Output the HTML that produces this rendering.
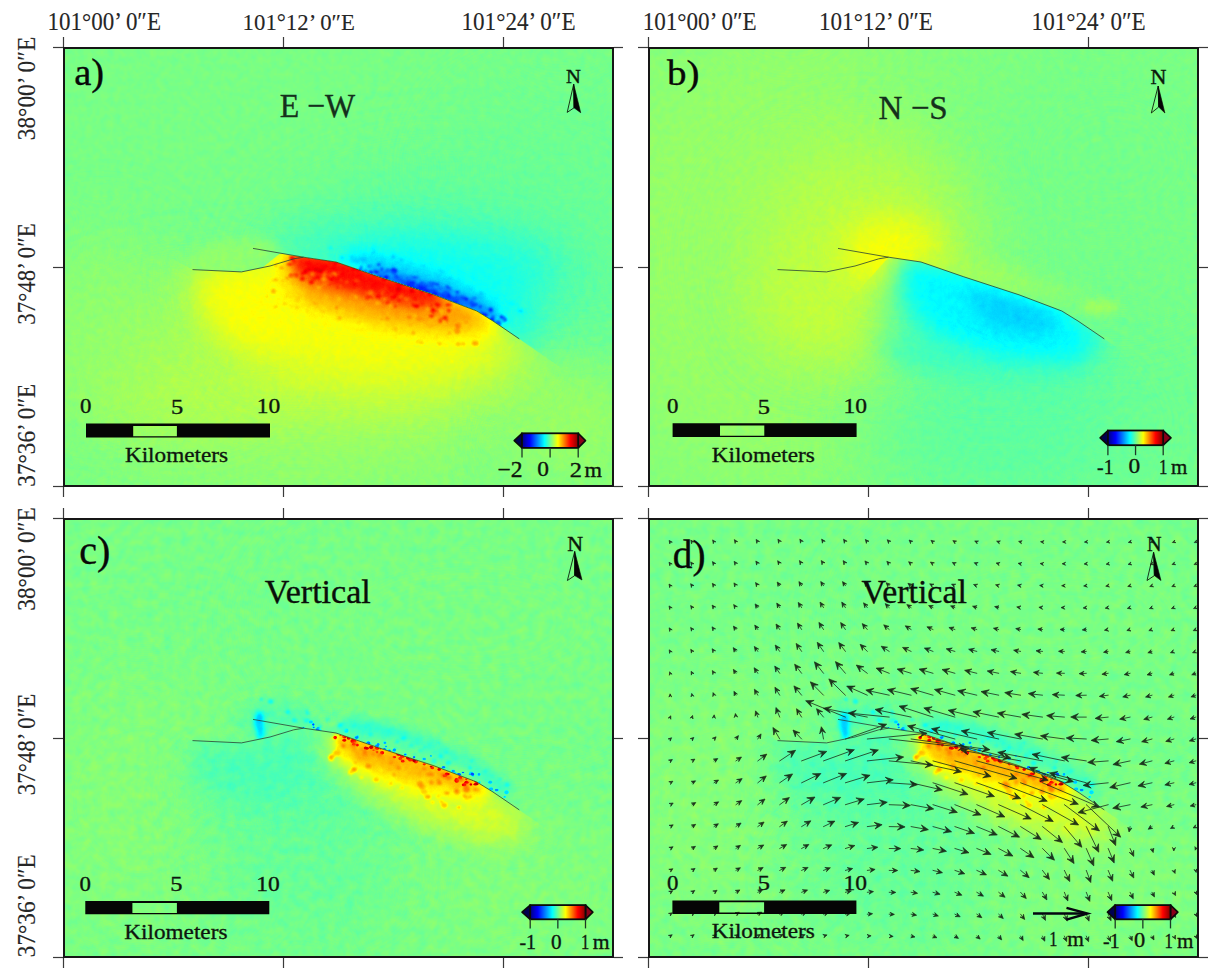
<!DOCTYPE html>
<html><head><meta charset="utf-8"><title>Figure</title>
<style>html,body{margin:0;padding:0;background:#fff;overflow:hidden;width:1224px;height:979px} svg{display:block}</style></head>
<body>
<svg width="1224" height="979" viewBox="0 0 1224 979">
<defs>
<filter id="jet0" filterUnits="userSpaceOnUse" x="63" y="47" width="551" height="440" color-interpolation-filters="sRGB">
<feTurbulence type="fractalNoise" baseFrequency="0.14" numOctaves="2" seed="3" result="n"/>
<feColorMatrix in="n" type="matrix" values="1 0 0 0 0  1 0 0 0 0  1 0 0 0 0  0 0 0 0 1" result="ng"/>
<feComposite in="SourceGraphic" in2="ng" operator="arithmetic" k1="0" k2="1" k3="0.03" k4="-0.015" result="f"/>
<feComponentTransfer in="f">
<feFuncR type="table" tableValues="0 0 0 0 0.5 1 1 1 0.5"/>
<feFuncG type="table" tableValues="0 0 0.5 1 1 1 0.5 0 0"/>
<feFuncB type="table" tableValues="0.5 1 1 1 0.5 0 0 0 0"/>
<feFuncA type="linear" slope="0" intercept="1"/>
</feComponentTransfer>
</filter>
<clipPath id="clip0"><rect x="63" y="47" width="551" height="440"/></clipPath>
<filter id="jet1" filterUnits="userSpaceOnUse" x="648" y="47" width="551" height="440" color-interpolation-filters="sRGB">
<feTurbulence type="fractalNoise" baseFrequency="0.14" numOctaves="2" seed="4" result="n"/>
<feColorMatrix in="n" type="matrix" values="1 0 0 0 0  1 0 0 0 0  1 0 0 0 0  0 0 0 0 1" result="ng"/>
<feComposite in="SourceGraphic" in2="ng" operator="arithmetic" k1="0" k2="1" k3="0.03" k4="-0.015" result="f"/>
<feComponentTransfer in="f">
<feFuncR type="table" tableValues="0 0 0 0 0.5 1 1 1 0.5"/>
<feFuncG type="table" tableValues="0 0 0.5 1 1 1 0.5 0 0"/>
<feFuncB type="table" tableValues="0.5 1 1 1 0.5 0 0 0 0"/>
<feFuncA type="linear" slope="0" intercept="1"/>
</feComponentTransfer>
</filter>
<clipPath id="clip1"><rect x="648" y="47" width="551" height="440"/></clipPath>
<filter id="jet2" filterUnits="userSpaceOnUse" x="63" y="518" width="551" height="440" color-interpolation-filters="sRGB">
<feTurbulence type="fractalNoise" baseFrequency="0.11" numOctaves="2" seed="5" result="n"/>
<feColorMatrix in="n" type="matrix" values="1 0 0 0 0  1 0 0 0 0  1 0 0 0 0  0 0 0 0 1" result="ng"/>
<feComposite in="SourceGraphic" in2="ng" operator="arithmetic" k1="0" k2="1" k3="0.05" k4="-0.025" result="f"/>
<feComponentTransfer in="f">
<feFuncR type="table" tableValues="0 0 0 0 0.5 1 1 1 0.5"/>
<feFuncG type="table" tableValues="0 0 0.5 1 1 1 0.5 0 0"/>
<feFuncB type="table" tableValues="0.5 1 1 1 0.5 0 0 0 0"/>
<feFuncA type="linear" slope="0" intercept="1"/>
</feComponentTransfer>
</filter>
<clipPath id="clip2"><rect x="63" y="518" width="551" height="440"/></clipPath>
<filter id="jet3" filterUnits="userSpaceOnUse" x="648" y="518" width="551" height="440" color-interpolation-filters="sRGB">
<feTurbulence type="fractalNoise" baseFrequency="0.11" numOctaves="2" seed="6" result="n"/>
<feColorMatrix in="n" type="matrix" values="1 0 0 0 0  1 0 0 0 0  1 0 0 0 0  0 0 0 0 1" result="ng"/>
<feComposite in="SourceGraphic" in2="ng" operator="arithmetic" k1="0" k2="1" k3="0.05" k4="-0.025" result="f"/>
<feComponentTransfer in="f">
<feFuncR type="table" tableValues="0 0 0 0 0.5 1 1 1 0.5"/>
<feFuncG type="table" tableValues="0 0 0.5 1 1 1 0.5 0 0"/>
<feFuncB type="table" tableValues="0.5 1 1 1 0.5 0 0 0 0"/>
<feFuncA type="linear" slope="0" intercept="1"/>
</feComponentTransfer>
</filter>
<clipPath id="clip3"><rect x="648" y="518" width="551" height="440"/></clipPath>
<filter id="b2" x="-50%" y="-50%" width="200%" height="200%" color-interpolation-filters="sRGB"><feGaussianBlur stdDeviation="2"/></filter>
<filter id="b4" x="-50%" y="-50%" width="200%" height="200%" color-interpolation-filters="sRGB"><feGaussianBlur stdDeviation="4"/></filter>
<filter id="b6" x="-50%" y="-50%" width="200%" height="200%" color-interpolation-filters="sRGB"><feGaussianBlur stdDeviation="6"/></filter>
<filter id="b8" x="-50%" y="-50%" width="200%" height="200%" color-interpolation-filters="sRGB"><feGaussianBlur stdDeviation="8"/></filter>
<filter id="b10" x="-50%" y="-50%" width="200%" height="200%" color-interpolation-filters="sRGB"><feGaussianBlur stdDeviation="10"/></filter>
<filter id="b14" x="-50%" y="-50%" width="200%" height="200%" color-interpolation-filters="sRGB"><feGaussianBlur stdDeviation="14"/></filter>
<filter id="b18" x="-50%" y="-50%" width="200%" height="200%" color-interpolation-filters="sRGB"><feGaussianBlur stdDeviation="18"/></filter>
<filter id="b24" x="-50%" y="-50%" width="200%" height="200%" color-interpolation-filters="sRGB"><feGaussianBlur stdDeviation="24"/></filter>
<filter id="b30" x="-50%" y="-50%" width="200%" height="200%" color-interpolation-filters="sRGB"><feGaussianBlur stdDeviation="30"/></filter>
<filter id="b40" x="-50%" y="-50%" width="200%" height="200%" color-interpolation-filters="sRGB"><feGaussianBlur stdDeviation="40"/></filter>
<filter id="b50" x="-50%" y="-50%" width="200%" height="200%" color-interpolation-filters="sRGB"><feGaussianBlur stdDeviation="50"/></filter>
<filter id="b60" x="-50%" y="-50%" width="200%" height="200%" color-interpolation-filters="sRGB"><feGaussianBlur stdDeviation="60"/></filter>
<filter id="b80" x="-50%" y="-50%" width="200%" height="200%" color-interpolation-filters="sRGB"><feGaussianBlur stdDeviation="80"/></filter>
<clipPath id="sa"><path d="M40.0,190.0 L192.5,269.6 L241.5,271.9 L262.0,268.0 L280.0,253.5 L303.6,257.2 L336.0,262.0 L378.8,276.8 L434.0,294.8 L476.8,311.0 L493.0,321.0 L519.3,338.9 L560.0,367.0 L700.0,465.0 L700.0,520.0 L40.0,520.0 Z"/></clipPath>
<clipPath id="na"><path d="M40.0,190.0 L192.5,269.6 L241.5,271.9 L262.0,268.0 L280.0,253.5 L303.6,257.2 L336.0,262.0 L378.8,276.8 L434.0,294.8 L476.8,311.0 L493.0,321.0 L519.3,338.9 L560.0,367.0 L700.0,465.0 L700.0,20.0 L40.0,20.0 Z"/></clipPath>
<filter id="bl45" filterUnits="userSpaceOnUse" x="-200" y="-200" width="1700" height="1400" color-interpolation-filters="sRGB"><feGaussianBlur stdDeviation="45"/></filter>
<filter id="bl40" filterUnits="userSpaceOnUse" x="-200" y="-200" width="1700" height="1400" color-interpolation-filters="sRGB"><feGaussianBlur stdDeviation="40"/></filter>
<filter id="bl22" filterUnits="userSpaceOnUse" x="-200" y="-200" width="1700" height="1400" color-interpolation-filters="sRGB"><feGaussianBlur stdDeviation="22"/></filter>
<filter id="bl25" filterUnits="userSpaceOnUse" x="-200" y="-200" width="1700" height="1400" color-interpolation-filters="sRGB"><feGaussianBlur stdDeviation="25"/></filter>
<filter id="bl35" filterUnits="userSpaceOnUse" x="-200" y="-200" width="1700" height="1400" color-interpolation-filters="sRGB"><feGaussianBlur stdDeviation="35"/></filter>
<filter id="bl30" filterUnits="userSpaceOnUse" x="-200" y="-200" width="1700" height="1400" color-interpolation-filters="sRGB"><feGaussianBlur stdDeviation="30"/></filter>
<filter id="bl18" filterUnits="userSpaceOnUse" x="-200" y="-200" width="1700" height="1400" color-interpolation-filters="sRGB"><feGaussianBlur stdDeviation="18"/></filter>
<filter id="bl14" filterUnits="userSpaceOnUse" x="-200" y="-200" width="1700" height="1400" color-interpolation-filters="sRGB"><feGaussianBlur stdDeviation="14"/></filter>
<filter id="bl6" filterUnits="userSpaceOnUse" x="-200" y="-200" width="1700" height="1400" color-interpolation-filters="sRGB"><feGaussianBlur stdDeviation="6"/></filter>
<filter id="bl5" filterUnits="userSpaceOnUse" x="-200" y="-200" width="1700" height="1400" color-interpolation-filters="sRGB"><feGaussianBlur stdDeviation="5"/></filter>
<filter id="bl3" filterUnits="userSpaceOnUse" x="-200" y="-200" width="1700" height="1400" color-interpolation-filters="sRGB"><feGaussianBlur stdDeviation="3"/></filter>
<filter id="bl0_9" filterUnits="userSpaceOnUse" x="-200" y="-200" width="1700" height="1400" color-interpolation-filters="sRGB"><feGaussianBlur stdDeviation="0.9"/></filter>
<filter id="bl1_2" filterUnits="userSpaceOnUse" x="-200" y="-200" width="1700" height="1400" color-interpolation-filters="sRGB"><feGaussianBlur stdDeviation="1.2"/></filter>
<filter id="bl24" filterUnits="userSpaceOnUse" x="-200" y="-200" width="1700" height="1400" color-interpolation-filters="sRGB"><feGaussianBlur stdDeviation="24"/></filter>
<filter id="bl11" filterUnits="userSpaceOnUse" x="-200" y="-200" width="1700" height="1400" color-interpolation-filters="sRGB"><feGaussianBlur stdDeviation="11"/></filter>
<clipPath id="sb"><path d="M600.0,520.0 L760.0,400.0 L888.6,257.2 L921.0,262.0 L963.8,276.8 L1019.0,294.8 L1061.8,311.0 L1078.0,321.0 L1104.3,338.9 L1145.0,367.0 L1285.0,465.0 L1300.0,520.0 Z"/></clipPath>
<clipPath id="nb"><path d="M600.0,520.0 L760.0,400.0 L888.6,257.2 L921.0,262.0 L963.8,276.8 L1019.0,294.8 L1061.8,311.0 L1078.0,321.0 L1104.3,338.9 L1145.0,367.0 L1285.0,465.0 L1300.0,20.0 L600.0,20.0 L600.0,520.0 Z"/></clipPath>
<filter id="bl60" filterUnits="userSpaceOnUse" x="-200" y="-200" width="1700" height="1400" color-interpolation-filters="sRGB"><feGaussianBlur stdDeviation="60"/></filter>
<filter id="bl50" filterUnits="userSpaceOnUse" x="-200" y="-200" width="1700" height="1400" color-interpolation-filters="sRGB"><feGaussianBlur stdDeviation="50"/></filter>
<filter id="bl28" filterUnits="userSpaceOnUse" x="-200" y="-200" width="1700" height="1400" color-interpolation-filters="sRGB"><feGaussianBlur stdDeviation="28"/></filter>
<filter id="bl16" filterUnits="userSpaceOnUse" x="-200" y="-200" width="1700" height="1400" color-interpolation-filters="sRGB"><feGaussianBlur stdDeviation="16"/></filter>
<filter id="bl10" filterUnits="userSpaceOnUse" x="-200" y="-200" width="1700" height="1400" color-interpolation-filters="sRGB"><feGaussianBlur stdDeviation="10"/></filter>
<filter id="bl20" filterUnits="userSpaceOnUse" x="-200" y="-200" width="1700" height="1400" color-interpolation-filters="sRGB"><feGaussianBlur stdDeviation="20"/></filter>
<filter id="bl9" filterUnits="userSpaceOnUse" x="-200" y="-200" width="1700" height="1400" color-interpolation-filters="sRGB"><feGaussianBlur stdDeviation="9"/></filter>
<filter id="bl4" filterUnits="userSpaceOnUse" x="-200" y="-200" width="1700" height="1400" color-interpolation-filters="sRGB"><feGaussianBlur stdDeviation="4"/></filter>
<clipPath id="sc"><path d="M40.0,661.0 L192.5,740.6 L241.5,742.9 L262.0,739.0 L280.0,724.5 L303.6,728.2 L336.0,733.0 L378.8,747.8 L434.0,765.8 L476.8,782.0 L493.0,792.0 L519.3,809.9 L560.0,838.0 L700.0,936.0 L720.0,991.0 L20.0,991.0 Z"/></clipPath>
<clipPath id="nc"><path d="M40.0,661.0 L192.5,740.6 L241.5,742.9 L262.0,739.0 L280.0,724.5 L303.6,728.2 L336.0,733.0 L378.8,747.8 L434.0,765.8 L476.8,782.0 L493.0,792.0 L519.3,809.9 L560.0,838.0 L700.0,936.0 L720.0,431.0 L20.0,431.0 Z"/></clipPath>
<filter id="bl2" filterUnits="userSpaceOnUse" x="-200" y="-200" width="1700" height="1400" color-interpolation-filters="sRGB"><feGaussianBlur stdDeviation="2"/></filter>
<filter id="bl0_6" filterUnits="userSpaceOnUse" x="-200" y="-200" width="1700" height="1400" color-interpolation-filters="sRGB"><feGaussianBlur stdDeviation="0.6"/></filter>
<filter id="bl0_8" filterUnits="userSpaceOnUse" x="-200" y="-200" width="1700" height="1400" color-interpolation-filters="sRGB"><feGaussianBlur stdDeviation="0.8"/></filter>
<filter id="bl13" filterUnits="userSpaceOnUse" x="-200" y="-200" width="1700" height="1400" color-interpolation-filters="sRGB"><feGaussianBlur stdDeviation="13"/></filter>
<clipPath id="sd"><path d="M625.0,661.0 L777.5,740.6 L826.5,742.9 L847.0,739.0 L865.0,724.5 L888.6,728.2 L921.0,733.0 L963.8,747.8 L1019.0,765.8 L1061.8,782.0 L1078.0,792.0 L1104.3,809.9 L1145.0,838.0 L1285.0,936.0 L1305.0,991.0 L605.0,991.0 Z"/></clipPath>
<clipPath id="nd"><path d="M625.0,661.0 L777.5,740.6 L826.5,742.9 L847.0,739.0 L865.0,724.5 L888.6,728.2 L921.0,733.0 L963.8,747.8 L1019.0,765.8 L1061.8,782.0 L1078.0,792.0 L1104.3,809.9 L1145.0,838.0 L1285.0,936.0 L1305.0,431.0 L605.0,431.0 Z"/></clipPath>
</defs>
<rect width="1224" height="979" fill="#fff"/>
<g clip-path="url(#clip0)"><g filter="url(#jet0)">
<rect x="63" y="47" width="551" height="440" fill="rgb(126,126,126)"/>
<ellipse cx="445" cy="272" rx="165" ry="80" fill="rgb(112,112,112)" fill-opacity="0.85" filter="url(#bl45)"/>
<ellipse cx="560" cy="170" rx="120" ry="90" fill="rgb(121,121,121)" fill-opacity="0.6" filter="url(#bl40)"/>
<ellipse cx="300" cy="385" rx="230" ry="80" fill="rgb(145,145,145)" fill-opacity="0.9" filter="url(#bl45)"/>
<ellipse cx="300" cy="472" rx="210" ry="30" fill="rgb(131,131,131)" fill-opacity="0.7" filter="url(#bl22)"/>
<ellipse cx="565" cy="410" rx="60" ry="45" fill="rgb(136,136,136)" fill-opacity="0.8" filter="url(#bl25)"/>
<ellipse cx="180" cy="350" rx="90" ry="60" fill="rgb(140,140,140)" fill-opacity="0.6" filter="url(#bl35)"/>
<ellipse cx="100" cy="315" rx="70" ry="90" fill="rgb(133,133,133)" fill-opacity="0.7" filter="url(#bl30)"/>
<ellipse cx="590" cy="450" rx="80" ry="50" fill="rgb(135,135,135)" fill-opacity="0.6" filter="url(#bl30)"/>
<g clip-path="url(#na)"><path d="M300.0,252.0 L350.0,240.0 L420.0,238.0 L505.0,268.0 L540.0,320.0 L530.0,350.0 L480.0,330.0 L380.0,290.0 L300.0,262.0 Z" fill="rgb(97,97,97)" fill-opacity="0.95" filter="url(#bl18)"/><ellipse cx="480" cy="268" rx="80" ry="35" fill="rgb(98,98,98)" fill-opacity="0.6" filter="url(#bl18)"/><path d="M255.0,248.0 L295.0,230.0 L340.0,232.0 L330.0,258.0 Z" fill="rgb(112,112,112)" fill-opacity="0.8" filter="url(#bl14)"/><path d="M188.0,272.0 L245.0,274.0 L282.0,257.0 L272.0,238.0 L220.0,240.0 L188.0,254.0 Z" fill="rgb(133,133,133)" fill-opacity="0.85" filter="url(#bl6)"/><path d="M345.0,260.0 L380.0,266.0 L440.0,285.0 L495.0,309.0 L505.0,325.0 L492.0,302.0 L440.0,276.0 L380.0,257.0 L350.0,254.0 Z" fill="rgb(76,76,76)" fill-opacity="0.8" filter="url(#bl6)"/><path d="M370.0,266.0 L440.0,286.0 L495.0,310.0 L500.0,320.0 L470.0,313.0 L420.0,300.0 L375.0,282.0 Z" fill="rgb(57,57,57)" fill-opacity="0.85" filter="url(#bl5)"/><path d="M395.0,276.0 L440.0,290.0 L470.0,302.0 L450.0,300.0 L410.0,290.0 Z" fill="rgb(31,31,31)" fill-opacity="0.7" filter="url(#bl3)"/><g filter="url(#bl0_9)"><ellipse cx="379.9" cy="277.3" rx="2.6" ry="2.4" fill="rgb(45,45,45)" fill-opacity="0.8"/><ellipse cx="409.3" cy="285.3" rx="1.7" ry="1.3" fill="rgb(28,28,28)" fill-opacity="0.8"/><ellipse cx="384.1" cy="273.0" rx="1.2" ry="0.8" fill="rgb(54,54,54)" fill-opacity="0.8"/><ellipse cx="394.3" cy="272.6" rx="2.3" ry="1.5" fill="rgb(31,31,31)" fill-opacity="0.8"/><ellipse cx="416.7" cy="285.5" rx="2.2" ry="1.7" fill="rgb(59,59,59)" fill-opacity="0.8"/><ellipse cx="395.8" cy="270.1" rx="1.9" ry="1.7" fill="rgb(36,36,36)" fill-opacity="0.8"/><ellipse cx="427.9" cy="287.7" rx="2.0" ry="1.5" fill="rgb(37,37,37)" fill-opacity="0.8"/><ellipse cx="474.3" cy="298.3" rx="2.4" ry="1.9" fill="rgb(60,60,60)" fill-opacity="0.8"/><ellipse cx="474.4" cy="305.1" rx="1.9" ry="1.2" fill="rgb(47,47,47)" fill-opacity="0.8"/><ellipse cx="447.0" cy="287.1" rx="2.3" ry="1.8" fill="rgb(46,46,46)" fill-opacity="0.8"/><ellipse cx="432.8" cy="287.9" rx="1.8" ry="1.7" fill="rgb(60,60,60)" fill-opacity="0.8"/><ellipse cx="422.4" cy="287.8" rx="1.8" ry="1.7" fill="rgb(55,55,55)" fill-opacity="0.8"/><ellipse cx="399.0" cy="278.2" rx="2.1" ry="1.3" fill="rgb(59,59,59)" fill-opacity="0.8"/><ellipse cx="381.7" cy="268.5" rx="1.5" ry="1.1" fill="rgb(50,50,50)" fill-opacity="0.8"/><ellipse cx="376.1" cy="271.4" rx="2.2" ry="1.8" fill="rgb(30,30,30)" fill-opacity="0.8"/><ellipse cx="481.6" cy="313.0" rx="1.8" ry="1.4" fill="rgb(39,39,39)" fill-opacity="0.8"/><ellipse cx="396.1" cy="276.8" rx="2.1" ry="1.7" fill="rgb(48,48,48)" fill-opacity="0.8"/><ellipse cx="432.1" cy="285.5" rx="1.5" ry="1.4" fill="rgb(52,52,52)" fill-opacity="0.8"/><ellipse cx="393.2" cy="270.2" rx="2.5" ry="2.5" fill="rgb(33,33,33)" fill-opacity="0.8"/><ellipse cx="436.8" cy="284.6" rx="2.2" ry="1.4" fill="rgb(35,35,35)" fill-opacity="0.8"/><ellipse cx="381.8" cy="269.5" rx="1.4" ry="1.2" fill="rgb(40,40,40)" fill-opacity="0.8"/><ellipse cx="480.3" cy="314.6" rx="2.5" ry="1.6" fill="rgb(60,60,60)" fill-opacity="0.8"/><ellipse cx="449.3" cy="295.6" rx="2.2" ry="1.4" fill="rgb(32,32,32)" fill-opacity="0.8"/><ellipse cx="460.6" cy="305.3" rx="1.9" ry="1.3" fill="rgb(46,46,46)" fill-opacity="0.8"/><ellipse cx="363.1" cy="272.1" rx="2.6" ry="1.7" fill="rgb(59,59,59)" fill-opacity="0.8"/><ellipse cx="484.9" cy="314.5" rx="2.3" ry="1.8" fill="rgb(37,37,37)" fill-opacity="0.8"/><ellipse cx="361.4" cy="266.6" rx="1.2" ry="1.1" fill="rgb(51,51,51)" fill-opacity="0.8"/><ellipse cx="483.5" cy="315.1" rx="1.8" ry="1.2" fill="rgb(32,32,32)" fill-opacity="0.8"/><ellipse cx="498.8" cy="322.5" rx="2.3" ry="2.2" fill="rgb(51,51,51)" fill-opacity="0.8"/><ellipse cx="384.2" cy="272.8" rx="1.9" ry="1.8" fill="rgb(61,61,61)" fill-opacity="0.8"/><ellipse cx="365.4" cy="270.9" rx="2.3" ry="1.7" fill="rgb(55,55,55)" fill-opacity="0.8"/><ellipse cx="430.5" cy="283.2" rx="2.3" ry="1.7" fill="rgb(53,53,53)" fill-opacity="0.8"/><ellipse cx="466.4" cy="299.2" rx="1.9" ry="1.4" fill="rgb(26,26,26)" fill-opacity="0.8"/><ellipse cx="462.7" cy="297.9" rx="2.5" ry="1.9" fill="rgb(49,49,49)" fill-opacity="0.8"/><ellipse cx="473.0" cy="302.7" rx="1.7" ry="1.5" fill="rgb(61,61,61)" fill-opacity="0.8"/><ellipse cx="410.1" cy="281.2" rx="1.2" ry="1.1" fill="rgb(47,47,47)" fill-opacity="0.8"/><ellipse cx="376.7" cy="272.8" rx="1.5" ry="0.9" fill="rgb(39,39,39)" fill-opacity="0.8"/><ellipse cx="455.3" cy="300.8" rx="1.9" ry="1.6" fill="rgb(60,60,60)" fill-opacity="0.8"/><ellipse cx="433.9" cy="283.3" rx="1.3" ry="1.2" fill="rgb(47,47,47)" fill-opacity="0.8"/><ellipse cx="371.2" cy="272.1" rx="1.9" ry="1.5" fill="rgb(32,32,32)" fill-opacity="0.8"/><ellipse cx="472.4" cy="305.7" rx="1.8" ry="1.5" fill="rgb(44,44,44)" fill-opacity="0.8"/><ellipse cx="492.8" cy="318.9" rx="2.0" ry="1.8" fill="rgb(36,36,36)" fill-opacity="0.8"/><ellipse cx="361.0" cy="268.3" rx="1.3" ry="1.1" fill="rgb(31,31,31)" fill-opacity="0.8"/><ellipse cx="488.0" cy="314.5" rx="1.3" ry="1.2" fill="rgb(61,61,61)" fill-opacity="0.8"/><ellipse cx="430.8" cy="292.7" rx="1.9" ry="1.3" fill="rgb(60,60,60)" fill-opacity="0.8"/><ellipse cx="467.3" cy="302.8" rx="1.9" ry="1.7" fill="rgb(60,60,60)" fill-opacity="0.8"/><ellipse cx="413.4" cy="283.2" rx="1.8" ry="1.1" fill="rgb(33,33,33)" fill-opacity="0.8"/><ellipse cx="418.1" cy="285.0" rx="2.1" ry="1.5" fill="rgb(42,42,42)" fill-opacity="0.8"/><ellipse cx="379.6" cy="272.7" rx="1.9" ry="1.9" fill="rgb(61,61,61)" fill-opacity="0.8"/><ellipse cx="387.7" cy="270.6" rx="2.4" ry="2.1" fill="rgb(53,53,53)" fill-opacity="0.8"/><ellipse cx="410.8" cy="285.6" rx="2.0" ry="1.7" fill="rgb(47,47,47)" fill-opacity="0.8"/><ellipse cx="490.7" cy="310.1" rx="2.6" ry="2.4" fill="rgb(58,58,58)" fill-opacity="0.8"/><ellipse cx="496.1" cy="323.3" rx="1.8" ry="1.2" fill="rgb(48,48,48)" fill-opacity="0.8"/><ellipse cx="475.9" cy="304.6" rx="2.1" ry="1.8" fill="rgb(45,45,45)" fill-opacity="0.8"/><ellipse cx="456.0" cy="299.1" rx="1.7" ry="1.6" fill="rgb(52,52,52)" fill-opacity="0.8"/><ellipse cx="490.2" cy="321.2" rx="2.1" ry="1.4" fill="rgb(53,53,53)" fill-opacity="0.8"/><ellipse cx="418.8" cy="287.9" rx="1.7" ry="1.7" fill="rgb(49,49,49)" fill-opacity="0.8"/><ellipse cx="370.6" cy="272.5" rx="2.5" ry="1.9" fill="rgb(41,41,41)" fill-opacity="0.8"/><ellipse cx="447.5" cy="297.3" rx="1.3" ry="1.0" fill="rgb(46,46,46)" fill-opacity="0.8"/><ellipse cx="480.2" cy="306.7" rx="1.3" ry="1.1" fill="rgb(33,33,33)" fill-opacity="0.8"/><ellipse cx="416.2" cy="289.8" rx="2.2" ry="1.4" fill="rgb(36,36,36)" fill-opacity="0.8"/><ellipse cx="451.9" cy="297.9" rx="1.4" ry="1.1" fill="rgb(51,51,51)" fill-opacity="0.8"/><ellipse cx="411.9" cy="277.6" rx="1.8" ry="1.3" fill="rgb(54,54,54)" fill-opacity="0.8"/><ellipse cx="485.1" cy="315.6" rx="2.5" ry="1.8" fill="rgb(34,34,34)" fill-opacity="0.8"/><ellipse cx="422.0" cy="287.8" rx="1.7" ry="1.4" fill="rgb(32,32,32)" fill-opacity="0.8"/><ellipse cx="504.9" cy="320.0" rx="2.0" ry="1.8" fill="rgb(32,32,32)" fill-opacity="0.8"/><ellipse cx="378.5" cy="264.6" rx="1.9" ry="1.6" fill="rgb(45,45,45)" fill-opacity="0.8"/><ellipse cx="414.4" cy="277.5" rx="1.3" ry="1.2" fill="rgb(45,45,45)" fill-opacity="0.8"/><ellipse cx="492.2" cy="322.2" rx="2.5" ry="2.1" fill="rgb(29,29,29)" fill-opacity="0.8"/><ellipse cx="434.4" cy="294.5" rx="1.5" ry="1.4" fill="rgb(33,33,33)" fill-opacity="0.8"/><ellipse cx="445.0" cy="293.3" rx="1.7" ry="1.5" fill="rgb(60,60,60)" fill-opacity="0.8"/><ellipse cx="415.1" cy="285.1" rx="2.2" ry="1.7" fill="rgb(58,58,58)" fill-opacity="0.8"/><ellipse cx="504.0" cy="318.5" rx="2.3" ry="2.2" fill="rgb(55,55,55)" fill-opacity="0.8"/><ellipse cx="449.5" cy="288.5" rx="2.2" ry="1.7" fill="rgb(54,54,54)" fill-opacity="0.8"/><ellipse cx="427.2" cy="290.6" rx="2.6" ry="1.7" fill="rgb(39,39,39)" fill-opacity="0.8"/><ellipse cx="386.1" cy="277.3" rx="2.6" ry="1.9" fill="rgb(28,28,28)" fill-opacity="0.8"/><ellipse cx="453.5" cy="302.6" rx="1.5" ry="1.1" fill="rgb(28,28,28)" fill-opacity="0.8"/><ellipse cx="406.6" cy="277.8" rx="1.4" ry="0.9" fill="rgb(32,32,32)" fill-opacity="0.8"/><ellipse cx="455.8" cy="301.7" rx="1.5" ry="1.1" fill="rgb(32,32,32)" fill-opacity="0.8"/><ellipse cx="497.4" cy="321.5" rx="2.0" ry="1.6" fill="rgb(55,55,55)" fill-opacity="0.8"/><ellipse cx="456.6" cy="302.7" rx="1.7" ry="1.7" fill="rgb(45,45,45)" fill-opacity="0.8"/><ellipse cx="445.9" cy="293.6" rx="2.5" ry="1.9" fill="rgb(54,54,54)" fill-opacity="0.8"/><ellipse cx="471.1" cy="303.0" rx="2.6" ry="1.8" fill="rgb(49,49,49)" fill-opacity="0.8"/><ellipse cx="499.2" cy="324.8" rx="2.3" ry="2.0" fill="rgb(51,51,51)" fill-opacity="0.8"/><ellipse cx="439.6" cy="295.9" rx="1.6" ry="1.3" fill="rgb(57,57,57)" fill-opacity="0.8"/><ellipse cx="501.4" cy="317.1" rx="1.9" ry="1.8" fill="rgb(31,31,31)" fill-opacity="0.8"/><ellipse cx="490.2" cy="319.9" rx="2.4" ry="1.7" fill="rgb(28,28,28)" fill-opacity="0.8"/><ellipse cx="369.3" cy="266.3" rx="1.9" ry="1.5" fill="rgb(60,60,60)" fill-opacity="0.8"/><ellipse cx="471.3" cy="300.2" rx="1.8" ry="1.1" fill="rgb(58,58,58)" fill-opacity="0.8"/><ellipse cx="490.6" cy="309.8" rx="1.9" ry="1.8" fill="rgb(31,31,31)" fill-opacity="0.8"/><ellipse cx="410.4" cy="283.5" rx="1.6" ry="1.4" fill="rgb(42,42,42)" fill-opacity="0.8"/><ellipse cx="426.1" cy="287.7" rx="1.8" ry="1.7" fill="rgb(42,42,42)" fill-opacity="0.8"/><ellipse cx="416.6" cy="277.4" rx="1.7" ry="1.2" fill="rgb(51,51,51)" fill-opacity="0.8"/><ellipse cx="421.6" cy="283.5" rx="2.6" ry="1.8" fill="rgb(54,54,54)" fill-opacity="0.8"/><ellipse cx="429.4" cy="287.0" rx="2.0" ry="1.4" fill="rgb(36,36,36)" fill-opacity="0.8"/><ellipse cx="493.2" cy="316.3" rx="1.5" ry="1.1" fill="rgb(52,52,52)" fill-opacity="0.8"/><ellipse cx="456.3" cy="292.3" rx="1.7" ry="1.1" fill="rgb(55,55,55)" fill-opacity="0.8"/><ellipse cx="359.4" cy="270.7" rx="2.2" ry="1.7" fill="rgb(32,32,32)" fill-opacity="0.8"/><ellipse cx="457.6" cy="292.1" rx="1.5" ry="1.0" fill="rgb(31,31,31)" fill-opacity="0.8"/><ellipse cx="411.9" cy="286.6" rx="1.8" ry="1.5" fill="rgb(44,44,44)" fill-opacity="0.8"/></g><g filter="url(#bl1_2)"><ellipse cx="392.7" cy="256.7" rx="2.7" ry="1.7" fill="rgb(79,79,79)" fill-opacity="0.45"/><ellipse cx="435.8" cy="286.6" rx="2.5" ry="2.2" fill="rgb(82,82,82)" fill-opacity="0.45"/><ellipse cx="438.3" cy="289.8" rx="2.1" ry="1.6" fill="rgb(76,76,76)" fill-opacity="0.45"/><ellipse cx="361.0" cy="258.7" rx="1.6" ry="1.4" fill="rgb(78,78,78)" fill-opacity="0.45"/><ellipse cx="481.4" cy="293.7" rx="2.0" ry="1.6" fill="rgb(72,72,72)" fill-opacity="0.45"/><ellipse cx="445.1" cy="287.4" rx="2.0" ry="1.5" fill="rgb(76,76,76)" fill-opacity="0.45"/><ellipse cx="423.8" cy="266.0" rx="1.9" ry="1.5" fill="rgb(76,76,76)" fill-opacity="0.45"/><ellipse cx="410.7" cy="278.2" rx="2.5" ry="2.0" fill="rgb(75,75,75)" fill-opacity="0.45"/><ellipse cx="441.2" cy="279.5" rx="2.2" ry="2.0" fill="rgb(89,89,89)" fill-opacity="0.45"/><ellipse cx="377.5" cy="268.7" rx="2.1" ry="1.8" fill="rgb(85,85,85)" fill-opacity="0.45"/><ellipse cx="511.6" cy="303.8" rx="2.0" ry="1.5" fill="rgb(86,86,86)" fill-opacity="0.45"/><ellipse cx="480.3" cy="297.8" rx="1.7" ry="1.4" fill="rgb(76,76,76)" fill-opacity="0.45"/><ellipse cx="442.4" cy="290.8" rx="1.9" ry="1.6" fill="rgb(90,90,90)" fill-opacity="0.45"/><ellipse cx="352.0" cy="257.1" rx="2.0" ry="1.7" fill="rgb(74,74,74)" fill-opacity="0.45"/><ellipse cx="372.6" cy="252.9" rx="2.1" ry="1.5" fill="rgb(84,84,84)" fill-opacity="0.45"/><ellipse cx="487.4" cy="304.2" rx="2.1" ry="1.4" fill="rgb(88,88,88)" fill-opacity="0.45"/><ellipse cx="502.8" cy="320.7" rx="2.3" ry="2.1" fill="rgb(72,72,72)" fill-opacity="0.45"/><ellipse cx="401.4" cy="259.7" rx="2.6" ry="1.7" fill="rgb(78,78,78)" fill-opacity="0.45"/><ellipse cx="520.6" cy="311.0" rx="2.8" ry="2.0" fill="rgb(72,72,72)" fill-opacity="0.45"/><ellipse cx="370.8" cy="266.8" rx="2.6" ry="1.7" fill="rgb(77,77,77)" fill-opacity="0.45"/><ellipse cx="342.1" cy="257.8" rx="2.4" ry="2.1" fill="rgb(73,73,73)" fill-opacity="0.45"/><ellipse cx="427.7" cy="278.4" rx="2.5" ry="2.0" fill="rgb(88,88,88)" fill-opacity="0.45"/><ellipse cx="449.4" cy="284.0" rx="2.1" ry="1.7" fill="rgb(80,80,80)" fill-opacity="0.45"/><ellipse cx="480.9" cy="295.2" rx="2.2" ry="2.0" fill="rgb(89,89,89)" fill-opacity="0.45"/><ellipse cx="372.8" cy="248.1" rx="2.1" ry="1.9" fill="rgb(84,84,84)" fill-opacity="0.45"/><ellipse cx="374.5" cy="251.4" rx="1.7" ry="1.0" fill="rgb(73,73,73)" fill-opacity="0.45"/><ellipse cx="417.6" cy="281.9" rx="2.5" ry="2.5" fill="rgb(84,84,84)" fill-opacity="0.45"/><ellipse cx="393.2" cy="256.9" rx="1.5" ry="1.5" fill="rgb(76,76,76)" fill-opacity="0.45"/><ellipse cx="362.7" cy="259.4" rx="2.1" ry="1.6" fill="rgb(82,82,82)" fill-opacity="0.45"/><ellipse cx="453.0" cy="294.1" rx="2.9" ry="2.7" fill="rgb(92,92,92)" fill-opacity="0.45"/><ellipse cx="442.9" cy="271.9" rx="2.9" ry="2.5" fill="rgb(84,84,84)" fill-opacity="0.45"/><ellipse cx="353.1" cy="261.8" rx="2.6" ry="2.3" fill="rgb(88,88,88)" fill-opacity="0.45"/><ellipse cx="356.8" cy="260.3" rx="3.0" ry="2.0" fill="rgb(81,81,81)" fill-opacity="0.45"/><ellipse cx="447.8" cy="282.4" rx="1.8" ry="1.6" fill="rgb(79,79,79)" fill-opacity="0.45"/><ellipse cx="440.3" cy="291.5" rx="2.6" ry="2.0" fill="rgb(77,77,77)" fill-opacity="0.45"/><ellipse cx="357.2" cy="262.5" rx="1.8" ry="1.5" fill="rgb(83,83,83)" fill-opacity="0.45"/><ellipse cx="398.0" cy="266.9" rx="2.0" ry="1.5" fill="rgb(92,92,92)" fill-opacity="0.45"/><ellipse cx="478.4" cy="296.3" rx="2.1" ry="1.5" fill="rgb(76,76,76)" fill-opacity="0.45"/><ellipse cx="393.5" cy="272.5" rx="1.9" ry="1.7" fill="rgb(78,78,78)" fill-opacity="0.45"/><ellipse cx="483.0" cy="302.5" rx="1.6" ry="1.0" fill="rgb(85,85,85)" fill-opacity="0.45"/><ellipse cx="376.0" cy="268.4" rx="2.5" ry="1.9" fill="rgb(75,75,75)" fill-opacity="0.45"/><ellipse cx="400.1" cy="272.8" rx="1.8" ry="1.5" fill="rgb(84,84,84)" fill-opacity="0.45"/><ellipse cx="376.0" cy="261.8" rx="2.2" ry="1.7" fill="rgb(91,91,91)" fill-opacity="0.45"/><ellipse cx="364.2" cy="259.7" rx="2.6" ry="2.1" fill="rgb(76,76,76)" fill-opacity="0.45"/><ellipse cx="470.3" cy="289.5" rx="2.4" ry="1.8" fill="rgb(86,86,86)" fill-opacity="0.45"/><ellipse cx="405.3" cy="277.7" rx="2.7" ry="2.6" fill="rgb(79,79,79)" fill-opacity="0.45"/><ellipse cx="450.4" cy="278.1" rx="2.1" ry="1.5" fill="rgb(78,78,78)" fill-opacity="0.45"/><ellipse cx="330.4" cy="248.2" rx="1.7" ry="1.1" fill="rgb(78,78,78)" fill-opacity="0.45"/><ellipse cx="352.5" cy="259.5" rx="2.2" ry="2.2" fill="rgb(84,84,84)" fill-opacity="0.45"/><ellipse cx="428.9" cy="287.5" rx="2.9" ry="2.3" fill="rgb(90,90,90)" fill-opacity="0.45"/></g></g>
<g clip-path="url(#sa)"><path d="M190.0,262.0 L300.0,250.0 L420.0,280.0 L525.0,338.0 L535.0,365.0 L470.0,380.0 L380.0,385.0 L280.0,370.0 L210.0,320.0 Z" fill="rgb(159,159,159)" fill-opacity="0.95" filter="url(#bl24)"/><path d="M200.0,274.0 L245.0,276.0 L300.0,258.0 L320.0,300.0 L290.0,340.0 L240.0,345.0 L205.0,310.0 Z" fill="rgb(158,158,158)" fill-opacity="0.9" filter="url(#bl14)"/><path d="M282.0,250.0 L340.0,256.0 L420.0,280.0 L490.0,314.0 L497.0,330.0 L450.0,330.0 L380.0,320.0 L310.0,302.0 L288.0,280.0 Z" fill="rgb(191,191,191)" fill-opacity="0.95" filter="url(#bl11)"/><path d="M290.0,252.0 L340.0,257.0 L380.0,273.0 L438.0,294.0 L445.0,306.0 L400.0,302.0 L340.0,288.0 L298.0,274.0 Z" fill="rgb(223,223,223)" fill-opacity="0.95" filter="url(#bl6)"/><g filter="url(#bl0_9)"><ellipse cx="323.2" cy="265.0" rx="2.1" ry="1.4" fill="rgb(216,216,216)" fill-opacity="0.7"/><ellipse cx="431.5" cy="316.1" rx="2.5" ry="1.6" fill="rgb(230,230,230)" fill-opacity="0.7"/><ellipse cx="435.2" cy="312.1" rx="2.7" ry="2.3" fill="rgb(232,232,232)" fill-opacity="0.7"/><ellipse cx="302.6" cy="273.6" rx="2.5" ry="1.9" fill="rgb(226,226,226)" fill-opacity="0.7"/><ellipse cx="318.7" cy="258.7" rx="2.0" ry="1.6" fill="rgb(217,217,217)" fill-opacity="0.7"/><ellipse cx="294.5" cy="261.9" rx="2.2" ry="1.7" fill="rgb(231,231,231)" fill-opacity="0.7"/><ellipse cx="315.7" cy="269.3" rx="2.4" ry="2.0" fill="rgb(234,234,234)" fill-opacity="0.7"/><ellipse cx="448.9" cy="310.5" rx="2.0" ry="1.9" fill="rgb(223,223,223)" fill-opacity="0.7"/><ellipse cx="398.6" cy="284.6" rx="2.0" ry="1.4" fill="rgb(233,233,233)" fill-opacity="0.7"/><ellipse cx="310.2" cy="274.9" rx="1.5" ry="1.4" fill="rgb(220,220,220)" fill-opacity="0.7"/><ellipse cx="333.6" cy="276.6" rx="1.5" ry="1.1" fill="rgb(229,229,229)" fill-opacity="0.7"/><ellipse cx="368.0" cy="288.2" rx="2.6" ry="2.6" fill="rgb(213,213,213)" fill-opacity="0.7"/><ellipse cx="421.8" cy="291.2" rx="2.0" ry="1.6" fill="rgb(235,235,235)" fill-opacity="0.7"/><ellipse cx="327.3" cy="271.0" rx="2.3" ry="1.5" fill="rgb(216,216,216)" fill-opacity="0.7"/><ellipse cx="294.7" cy="263.5" rx="2.1" ry="1.9" fill="rgb(210,210,210)" fill-opacity="0.7"/><ellipse cx="325.5" cy="262.5" rx="2.7" ry="2.5" fill="rgb(213,213,213)" fill-opacity="0.7"/><ellipse cx="380.8" cy="293.8" rx="1.8" ry="1.8" fill="rgb(229,229,229)" fill-opacity="0.7"/><ellipse cx="404.1" cy="299.2" rx="1.7" ry="1.1" fill="rgb(222,222,222)" fill-opacity="0.7"/><ellipse cx="365.3" cy="288.4" rx="1.7" ry="1.0" fill="rgb(225,225,225)" fill-opacity="0.7"/><ellipse cx="354.7" cy="269.3" rx="2.6" ry="2.6" fill="rgb(228,228,228)" fill-opacity="0.7"/><ellipse cx="372.0" cy="276.2" rx="1.6" ry="1.1" fill="rgb(213,213,213)" fill-opacity="0.7"/><ellipse cx="338.9" cy="273.1" rx="2.2" ry="2.0" fill="rgb(211,211,211)" fill-opacity="0.7"/><ellipse cx="437.8" cy="306.6" rx="1.7" ry="1.4" fill="rgb(218,218,218)" fill-opacity="0.7"/><ellipse cx="399.0" cy="300.1" rx="1.7" ry="1.6" fill="rgb(228,228,228)" fill-opacity="0.7"/><ellipse cx="291.1" cy="258.0" rx="1.7" ry="1.4" fill="rgb(217,217,217)" fill-opacity="0.7"/><ellipse cx="432.7" cy="310.8" rx="2.5" ry="1.9" fill="rgb(225,225,225)" fill-opacity="0.7"/><ellipse cx="374.4" cy="279.1" rx="1.8" ry="1.7" fill="rgb(213,213,213)" fill-opacity="0.7"/><ellipse cx="299.5" cy="265.5" rx="1.6" ry="1.3" fill="rgb(219,219,219)" fill-opacity="0.7"/><ellipse cx="309.4" cy="269.7" rx="2.2" ry="1.7" fill="rgb(234,234,234)" fill-opacity="0.7"/><ellipse cx="392.3" cy="297.4" rx="2.7" ry="2.5" fill="rgb(219,219,219)" fill-opacity="0.7"/><ellipse cx="324.8" cy="266.1" rx="2.6" ry="2.2" fill="rgb(234,234,234)" fill-opacity="0.7"/><ellipse cx="371.6" cy="298.6" rx="1.5" ry="1.3" fill="rgb(225,225,225)" fill-opacity="0.7"/><ellipse cx="419.4" cy="293.2" rx="1.7" ry="1.4" fill="rgb(215,215,215)" fill-opacity="0.7"/><ellipse cx="359.1" cy="275.9" rx="2.8" ry="2.4" fill="rgb(222,222,222)" fill-opacity="0.7"/><ellipse cx="384.6" cy="286.7" rx="1.7" ry="1.4" fill="rgb(213,213,213)" fill-opacity="0.7"/><ellipse cx="315.0" cy="274.4" rx="1.4" ry="1.0" fill="rgb(214,214,214)" fill-opacity="0.7"/><ellipse cx="317.5" cy="277.4" rx="2.0" ry="1.3" fill="rgb(235,235,235)" fill-opacity="0.7"/><ellipse cx="302.3" cy="278.7" rx="2.5" ry="2.1" fill="rgb(231,231,231)" fill-opacity="0.7"/><ellipse cx="355.4" cy="271.4" rx="1.7" ry="1.7" fill="rgb(212,212,212)" fill-opacity="0.7"/><ellipse cx="430.4" cy="293.8" rx="2.7" ry="2.5" fill="rgb(232,232,232)" fill-opacity="0.7"/><ellipse cx="355.2" cy="283.0" rx="1.7" ry="1.6" fill="rgb(236,236,236)" fill-opacity="0.7"/><ellipse cx="450.5" cy="300.1" rx="1.5" ry="1.2" fill="rgb(234,234,234)" fill-opacity="0.7"/><ellipse cx="292.3" cy="257.3" rx="2.0" ry="1.9" fill="rgb(227,227,227)" fill-opacity="0.7"/><ellipse cx="429.6" cy="292.4" rx="1.7" ry="1.1" fill="rgb(218,218,218)" fill-opacity="0.7"/><ellipse cx="298.2" cy="256.4" rx="1.7" ry="1.1" fill="rgb(224,224,224)" fill-opacity="0.7"/><ellipse cx="365.0" cy="285.5" rx="2.0" ry="1.5" fill="rgb(220,220,220)" fill-opacity="0.7"/><ellipse cx="307.6" cy="263.6" rx="2.4" ry="1.5" fill="rgb(223,223,223)" fill-opacity="0.7"/><ellipse cx="358.0" cy="270.0" rx="2.6" ry="2.2" fill="rgb(226,226,226)" fill-opacity="0.7"/><ellipse cx="447.6" cy="304.9" rx="2.1" ry="1.4" fill="rgb(236,236,236)" fill-opacity="0.7"/><ellipse cx="292.6" cy="259.1" rx="2.5" ry="1.6" fill="rgb(233,233,233)" fill-opacity="0.7"/><ellipse cx="412.7" cy="305.1" rx="2.0" ry="1.6" fill="rgb(223,223,223)" fill-opacity="0.7"/><ellipse cx="450.2" cy="304.7" rx="2.0" ry="1.5" fill="rgb(221,221,221)" fill-opacity="0.7"/><ellipse cx="311.1" cy="261.8" rx="2.8" ry="2.0" fill="rgb(220,220,220)" fill-opacity="0.7"/><ellipse cx="422.5" cy="294.6" rx="1.7" ry="1.1" fill="rgb(218,218,218)" fill-opacity="0.7"/><ellipse cx="411.2" cy="289.7" rx="2.7" ry="1.9" fill="rgb(216,216,216)" fill-opacity="0.7"/><ellipse cx="410.2" cy="297.4" rx="2.2" ry="1.6" fill="rgb(222,222,222)" fill-opacity="0.7"/><ellipse cx="349.0" cy="273.0" rx="1.6" ry="1.0" fill="rgb(216,216,216)" fill-opacity="0.7"/><ellipse cx="443.8" cy="317.8" rx="1.6" ry="1.5" fill="rgb(215,215,215)" fill-opacity="0.7"/><ellipse cx="342.6" cy="286.9" rx="2.2" ry="1.4" fill="rgb(221,221,221)" fill-opacity="0.7"/><ellipse cx="335.3" cy="268.1" rx="2.5" ry="1.8" fill="rgb(222,222,222)" fill-opacity="0.7"/><ellipse cx="295.8" cy="275.5" rx="2.7" ry="2.2" fill="rgb(223,223,223)" fill-opacity="0.7"/><ellipse cx="439.1" cy="305.3" rx="2.0" ry="1.8" fill="rgb(219,219,219)" fill-opacity="0.7"/><ellipse cx="313.9" cy="278.7" rx="2.1" ry="1.6" fill="rgb(221,221,221)" fill-opacity="0.7"/><ellipse cx="427.2" cy="298.2" rx="2.2" ry="1.5" fill="rgb(211,211,211)" fill-opacity="0.7"/><ellipse cx="405.2" cy="293.4" rx="2.5" ry="1.9" fill="rgb(217,217,217)" fill-opacity="0.7"/><ellipse cx="395.2" cy="306.2" rx="1.5" ry="1.2" fill="rgb(223,223,223)" fill-opacity="0.7"/><ellipse cx="369.6" cy="296.0" rx="1.9" ry="1.8" fill="rgb(234,234,234)" fill-opacity="0.7"/><ellipse cx="348.1" cy="267.0" rx="1.8" ry="1.7" fill="rgb(216,216,216)" fill-opacity="0.7"/><ellipse cx="336.9" cy="262.8" rx="2.0" ry="1.2" fill="rgb(236,236,236)" fill-opacity="0.7"/><ellipse cx="329.8" cy="263.4" rx="2.1" ry="1.5" fill="rgb(217,217,217)" fill-opacity="0.7"/><ellipse cx="412.7" cy="303.4" rx="2.4" ry="1.8" fill="rgb(212,212,212)" fill-opacity="0.7"/><ellipse cx="378.2" cy="296.8" rx="2.5" ry="2.0" fill="rgb(234,234,234)" fill-opacity="0.7"/><ellipse cx="352.9" cy="270.5" rx="1.9" ry="1.2" fill="rgb(224,224,224)" fill-opacity="0.7"/><ellipse cx="338.3" cy="287.0" rx="2.3" ry="1.6" fill="rgb(219,219,219)" fill-opacity="0.7"/><ellipse cx="386.1" cy="288.3" rx="1.6" ry="1.6" fill="rgb(210,210,210)" fill-opacity="0.7"/><ellipse cx="396.3" cy="284.7" rx="2.7" ry="1.9" fill="rgb(222,222,222)" fill-opacity="0.7"/><ellipse cx="384.2" cy="279.8" rx="2.4" ry="1.5" fill="rgb(235,235,235)" fill-opacity="0.7"/><ellipse cx="433.0" cy="309.2" rx="1.8" ry="1.1" fill="rgb(235,235,235)" fill-opacity="0.7"/><ellipse cx="331.9" cy="272.4" rx="1.6" ry="1.2" fill="rgb(220,220,220)" fill-opacity="0.7"/><ellipse cx="388.5" cy="286.9" rx="1.6" ry="1.6" fill="rgb(222,222,222)" fill-opacity="0.7"/><ellipse cx="446.8" cy="320.8" rx="1.6" ry="1.6" fill="rgb(218,218,218)" fill-opacity="0.7"/><ellipse cx="323.1" cy="265.4" rx="2.2" ry="2.2" fill="rgb(223,223,223)" fill-opacity="0.7"/><ellipse cx="436.8" cy="304.3" rx="2.2" ry="1.8" fill="rgb(230,230,230)" fill-opacity="0.7"/><ellipse cx="323.6" cy="267.6" rx="2.8" ry="2.5" fill="rgb(226,226,226)" fill-opacity="0.7"/><ellipse cx="411.8" cy="290.9" rx="2.3" ry="2.0" fill="rgb(235,235,235)" fill-opacity="0.7"/><ellipse cx="349.1" cy="279.7" rx="2.0" ry="1.9" fill="rgb(216,216,216)" fill-opacity="0.7"/><ellipse cx="319.5" cy="274.6" rx="2.7" ry="1.8" fill="rgb(210,210,210)" fill-opacity="0.7"/><ellipse cx="333.3" cy="268.2" rx="2.0" ry="1.4" fill="rgb(228,228,228)" fill-opacity="0.7"/><ellipse cx="306.4" cy="270.8" rx="2.3" ry="1.8" fill="rgb(233,233,233)" fill-opacity="0.7"/><ellipse cx="347.1" cy="280.0" rx="2.0" ry="1.3" fill="rgb(218,218,218)" fill-opacity="0.7"/><ellipse cx="357.8" cy="291.0" rx="2.5" ry="1.6" fill="rgb(218,218,218)" fill-opacity="0.7"/><ellipse cx="414.8" cy="299.0" rx="2.6" ry="2.0" fill="rgb(220,220,220)" fill-opacity="0.7"/><ellipse cx="305.8" cy="271.9" rx="2.2" ry="2.2" fill="rgb(234,234,234)" fill-opacity="0.7"/><ellipse cx="387.4" cy="277.6" rx="2.2" ry="2.2" fill="rgb(223,223,223)" fill-opacity="0.7"/><ellipse cx="402.9" cy="289.9" rx="2.0" ry="1.6" fill="rgb(222,222,222)" fill-opacity="0.7"/><ellipse cx="342.8" cy="268.9" rx="1.7" ry="1.7" fill="rgb(223,223,223)" fill-opacity="0.7"/><ellipse cx="329.9" cy="284.2" rx="1.6" ry="1.1" fill="rgb(226,226,226)" fill-opacity="0.7"/><ellipse cx="374.6" cy="276.1" rx="2.6" ry="1.8" fill="rgb(215,215,215)" fill-opacity="0.7"/><ellipse cx="290.3" cy="264.2" rx="2.1" ry="1.7" fill="rgb(225,225,225)" fill-opacity="0.7"/><ellipse cx="313.3" cy="261.4" rx="1.5" ry="1.4" fill="rgb(211,211,211)" fill-opacity="0.7"/><ellipse cx="337.7" cy="264.0" rx="2.6" ry="2.4" fill="rgb(210,210,210)" fill-opacity="0.7"/><ellipse cx="359.4" cy="280.9" rx="1.4" ry="1.0" fill="rgb(211,211,211)" fill-opacity="0.7"/><ellipse cx="354.8" cy="266.8" rx="2.3" ry="2.1" fill="rgb(236,236,236)" fill-opacity="0.7"/><ellipse cx="367.9" cy="297.6" rx="2.8" ry="2.3" fill="rgb(215,215,215)" fill-opacity="0.7"/><ellipse cx="398.5" cy="289.1" rx="2.7" ry="2.4" fill="rgb(237,237,237)" fill-opacity="0.7"/><ellipse cx="342.2" cy="274.2" rx="1.5" ry="0.9" fill="rgb(234,234,234)" fill-opacity="0.7"/><ellipse cx="401.9" cy="284.9" rx="2.1" ry="1.4" fill="rgb(236,236,236)" fill-opacity="0.7"/><ellipse cx="320.7" cy="270.9" rx="2.8" ry="2.1" fill="rgb(235,235,235)" fill-opacity="0.7"/><ellipse cx="291.4" cy="275.6" rx="2.7" ry="2.0" fill="rgb(227,227,227)" fill-opacity="0.7"/><ellipse cx="384.9" cy="279.5" rx="1.8" ry="1.1" fill="rgb(225,225,225)" fill-opacity="0.7"/><ellipse cx="355.2" cy="271.8" rx="2.4" ry="1.7" fill="rgb(216,216,216)" fill-opacity="0.7"/><ellipse cx="343.3" cy="279.4" rx="2.3" ry="1.9" fill="rgb(219,219,219)" fill-opacity="0.7"/><ellipse cx="311.4" cy="282.4" rx="2.8" ry="2.1" fill="rgb(231,231,231)" fill-opacity="0.7"/><ellipse cx="440.4" cy="319.7" rx="2.1" ry="1.8" fill="rgb(213,213,213)" fill-opacity="0.7"/><ellipse cx="431.2" cy="305.5" rx="1.5" ry="1.1" fill="rgb(223,223,223)" fill-opacity="0.7"/><ellipse cx="388.0" cy="302.7" rx="2.4" ry="2.2" fill="rgb(218,218,218)" fill-opacity="0.7"/><ellipse cx="372.8" cy="274.3" rx="2.2" ry="1.8" fill="rgb(223,223,223)" fill-opacity="0.7"/><ellipse cx="409.7" cy="293.4" rx="1.6" ry="1.5" fill="rgb(216,216,216)" fill-opacity="0.7"/><ellipse cx="416.4" cy="306.0" rx="2.8" ry="2.0" fill="rgb(236,236,236)" fill-opacity="0.7"/><ellipse cx="288.0" cy="264.3" rx="1.6" ry="1.1" fill="rgb(228,228,228)" fill-opacity="0.7"/><ellipse cx="396.1" cy="293.3" rx="2.7" ry="2.7" fill="rgb(224,224,224)" fill-opacity="0.7"/><ellipse cx="394.2" cy="296.6" rx="2.5" ry="1.7" fill="rgb(231,231,231)" fill-opacity="0.7"/><ellipse cx="330.4" cy="279.1" rx="2.6" ry="1.8" fill="rgb(235,235,235)" fill-opacity="0.7"/><ellipse cx="335.1" cy="263.8" rx="2.8" ry="2.5" fill="rgb(227,227,227)" fill-opacity="0.7"/><ellipse cx="445.4" cy="317.8" rx="2.5" ry="2.4" fill="rgb(227,227,227)" fill-opacity="0.7"/><ellipse cx="440.3" cy="322.2" rx="1.6" ry="1.1" fill="rgb(225,225,225)" fill-opacity="0.7"/><ellipse cx="369.1" cy="278.8" rx="2.4" ry="2.0" fill="rgb(222,222,222)" fill-opacity="0.7"/><ellipse cx="421.8" cy="303.6" rx="2.6" ry="2.4" fill="rgb(216,216,216)" fill-opacity="0.7"/><ellipse cx="450.2" cy="298.5" rx="2.3" ry="1.5" fill="rgb(217,217,217)" fill-opacity="0.7"/><ellipse cx="330.7" cy="277.7" rx="1.5" ry="1.1" fill="rgb(215,215,215)" fill-opacity="0.7"/></g><g filter="url(#bl1_2)"><ellipse cx="274.9" cy="306.6" rx="1.6" ry="0.9" fill="rgb(182,182,182)" fill-opacity="0.5"/><ellipse cx="440.4" cy="309.9" rx="1.7" ry="1.5" fill="rgb(184,184,184)" fill-opacity="0.5"/><ellipse cx="417.9" cy="341.6" rx="1.8" ry="1.4" fill="rgb(203,203,203)" fill-opacity="0.5"/><ellipse cx="327.3" cy="281.6" rx="3.1" ry="3.1" fill="rgb(192,192,192)" fill-opacity="0.5"/><ellipse cx="324.3" cy="274.9" rx="2.7" ry="1.9" fill="rgb(175,175,175)" fill-opacity="0.5"/><ellipse cx="445.7" cy="321.8" rx="1.7" ry="1.5" fill="rgb(173,173,173)" fill-opacity="0.5"/><ellipse cx="427.5" cy="308.9" rx="1.9" ry="1.7" fill="rgb(164,164,164)" fill-opacity="0.5"/><ellipse cx="325.6" cy="297.3" rx="2.5" ry="2.4" fill="rgb(172,172,172)" fill-opacity="0.5"/><ellipse cx="435.8" cy="314.2" rx="1.5" ry="1.2" fill="rgb(198,198,198)" fill-opacity="0.5"/><ellipse cx="355.9" cy="296.9" rx="1.9" ry="1.8" fill="rgb(165,165,165)" fill-opacity="0.5"/><ellipse cx="457.2" cy="330.8" rx="3.2" ry="3.1" fill="rgb(201,201,201)" fill-opacity="0.5"/><ellipse cx="283.1" cy="280.4" rx="1.7" ry="1.0" fill="rgb(189,189,189)" fill-opacity="0.5"/><ellipse cx="307.0" cy="311.3" rx="2.0" ry="1.6" fill="rgb(176,176,176)" fill-opacity="0.5"/><ellipse cx="336.7" cy="307.6" rx="1.9" ry="1.5" fill="rgb(202,202,202)" fill-opacity="0.5"/><ellipse cx="324.1" cy="284.5" rx="2.2" ry="1.5" fill="rgb(179,179,179)" fill-opacity="0.5"/><ellipse cx="458.3" cy="344.3" rx="2.5" ry="2.2" fill="rgb(194,194,194)" fill-opacity="0.5"/><ellipse cx="420.0" cy="319.2" rx="3.1" ry="2.4" fill="rgb(192,192,192)" fill-opacity="0.5"/><ellipse cx="292.7" cy="276.6" rx="2.8" ry="2.1" fill="rgb(179,179,179)" fill-opacity="0.5"/><ellipse cx="401.8" cy="295.9" rx="2.3" ry="2.2" fill="rgb(193,193,193)" fill-opacity="0.5"/><ellipse cx="417.5" cy="342.3" rx="3.1" ry="2.4" fill="rgb(165,165,165)" fill-opacity="0.5"/><ellipse cx="291.9" cy="306.3" rx="3.0" ry="1.8" fill="rgb(170,170,170)" fill-opacity="0.5"/><ellipse cx="427.6" cy="310.3" rx="2.1" ry="1.4" fill="rgb(184,184,184)" fill-opacity="0.5"/><ellipse cx="277.8" cy="299.0" rx="3.2" ry="2.2" fill="rgb(164,164,164)" fill-opacity="0.5"/><ellipse cx="340.9" cy="287.1" rx="2.5" ry="2.1" fill="rgb(196,196,196)" fill-opacity="0.5"/><ellipse cx="266.7" cy="296.5" rx="1.5" ry="0.9" fill="rgb(198,198,198)" fill-opacity="0.5"/><ellipse cx="308.0" cy="271.8" rx="1.5" ry="1.0" fill="rgb(189,189,189)" fill-opacity="0.5"/><ellipse cx="356.5" cy="291.7" rx="2.9" ry="2.1" fill="rgb(195,195,195)" fill-opacity="0.5"/><ellipse cx="370.4" cy="292.9" rx="3.1" ry="3.0" fill="rgb(180,180,180)" fill-opacity="0.5"/><ellipse cx="409.8" cy="324.4" rx="2.8" ry="2.0" fill="rgb(184,184,184)" fill-opacity="0.5"/><ellipse cx="473.7" cy="341.7" rx="2.1" ry="1.9" fill="rgb(171,171,171)" fill-opacity="0.5"/><ellipse cx="430.4" cy="325.8" rx="3.1" ry="2.5" fill="rgb(181,181,181)" fill-opacity="0.5"/><ellipse cx="281.6" cy="267.6" rx="2.4" ry="1.4" fill="rgb(204,204,204)" fill-opacity="0.5"/><ellipse cx="409.4" cy="298.4" rx="2.8" ry="2.5" fill="rgb(204,204,204)" fill-opacity="0.5"/><ellipse cx="416.5" cy="322.7" rx="1.7" ry="1.1" fill="rgb(179,179,179)" fill-opacity="0.5"/><ellipse cx="297.5" cy="299.6" rx="2.9" ry="2.8" fill="rgb(175,175,175)" fill-opacity="0.5"/><ellipse cx="273.5" cy="291.0" rx="2.6" ry="2.6" fill="rgb(200,200,200)" fill-opacity="0.5"/><ellipse cx="475.9" cy="343.5" rx="3.1" ry="2.6" fill="rgb(199,199,199)" fill-opacity="0.5"/><ellipse cx="391.9" cy="294.3" rx="2.1" ry="1.3" fill="rgb(202,202,202)" fill-opacity="0.5"/><ellipse cx="301.1" cy="293.1" rx="1.9" ry="1.5" fill="rgb(168,168,168)" fill-opacity="0.5"/><ellipse cx="370.8" cy="299.6" rx="2.0" ry="1.6" fill="rgb(175,175,175)" fill-opacity="0.5"/><ellipse cx="312.3" cy="273.9" rx="2.7" ry="2.1" fill="rgb(174,174,174)" fill-opacity="0.5"/><ellipse cx="466.0" cy="322.1" rx="1.5" ry="1.5" fill="rgb(190,190,190)" fill-opacity="0.5"/><ellipse cx="384.5" cy="298.9" rx="1.8" ry="1.5" fill="rgb(174,174,174)" fill-opacity="0.5"/><ellipse cx="275.5" cy="279.8" rx="2.3" ry="1.6" fill="rgb(199,199,199)" fill-opacity="0.5"/><ellipse cx="463.3" cy="343.8" rx="2.2" ry="1.4" fill="rgb(197,197,197)" fill-opacity="0.5"/><ellipse cx="272.9" cy="280.2" rx="2.2" ry="1.7" fill="rgb(170,170,170)" fill-opacity="0.5"/><ellipse cx="330.1" cy="274.7" rx="3.0" ry="2.1" fill="rgb(201,201,201)" fill-opacity="0.5"/><ellipse cx="439.7" cy="343.8" rx="2.3" ry="1.7" fill="rgb(194,194,194)" fill-opacity="0.5"/><ellipse cx="275.8" cy="306.8" rx="1.8" ry="1.2" fill="rgb(193,193,193)" fill-opacity="0.5"/><ellipse cx="390.1" cy="305.7" rx="2.5" ry="2.4" fill="rgb(174,174,174)" fill-opacity="0.5"/><ellipse cx="276.8" cy="263.6" rx="1.7" ry="1.6" fill="rgb(172,172,172)" fill-opacity="0.5"/><ellipse cx="382.6" cy="290.8" rx="2.9" ry="1.9" fill="rgb(198,198,198)" fill-opacity="0.5"/><ellipse cx="421.6" cy="342.8" rx="1.9" ry="1.6" fill="rgb(192,192,192)" fill-opacity="0.5"/><ellipse cx="387.7" cy="318.5" rx="2.1" ry="1.7" fill="rgb(202,202,202)" fill-opacity="0.5"/><ellipse cx="366.4" cy="310.3" rx="1.7" ry="1.5" fill="rgb(172,172,172)" fill-opacity="0.5"/><ellipse cx="381.7" cy="293.9" rx="1.7" ry="1.4" fill="rgb(178,178,178)" fill-opacity="0.5"/><ellipse cx="358.7" cy="321.9" rx="2.0" ry="1.5" fill="rgb(173,173,173)" fill-opacity="0.5"/><ellipse cx="409.6" cy="314.6" rx="1.8" ry="1.5" fill="rgb(179,179,179)" fill-opacity="0.5"/><ellipse cx="275.4" cy="265.8" rx="1.5" ry="1.3" fill="rgb(197,197,197)" fill-opacity="0.5"/><ellipse cx="377.9" cy="302.9" rx="3.1" ry="2.0" fill="rgb(172,172,172)" fill-opacity="0.5"/><ellipse cx="315.9" cy="283.5" rx="1.7" ry="1.2" fill="rgb(192,192,192)" fill-opacity="0.5"/><ellipse cx="461.7" cy="362.6" rx="1.6" ry="1.0" fill="rgb(166,166,166)" fill-opacity="0.5"/><ellipse cx="287.0" cy="278.2" rx="1.6" ry="1.3" fill="rgb(204,204,204)" fill-opacity="0.5"/><ellipse cx="437.9" cy="314.9" rx="1.7" ry="1.6" fill="rgb(196,196,196)" fill-opacity="0.5"/><ellipse cx="394.9" cy="328.9" rx="3.0" ry="2.7" fill="rgb(179,179,179)" fill-opacity="0.5"/><ellipse cx="441.8" cy="311.6" rx="2.2" ry="2.2" fill="rgb(167,167,167)" fill-opacity="0.5"/><ellipse cx="355.0" cy="315.8" rx="1.8" ry="1.6" fill="rgb(188,188,188)" fill-opacity="0.5"/><ellipse cx="339.1" cy="298.3" rx="2.2" ry="1.5" fill="rgb(166,166,166)" fill-opacity="0.5"/><ellipse cx="406.2" cy="298.9" rx="3.1" ry="2.0" fill="rgb(187,187,187)" fill-opacity="0.5"/><ellipse cx="321.3" cy="310.5" rx="2.5" ry="1.6" fill="rgb(173,173,173)" fill-opacity="0.5"/><ellipse cx="335.0" cy="273.7" rx="1.8" ry="1.3" fill="rgb(170,170,170)" fill-opacity="0.5"/><ellipse cx="297.1" cy="307.3" rx="1.6" ry="1.0" fill="rgb(192,192,192)" fill-opacity="0.5"/><ellipse cx="413.6" cy="332.9" rx="2.3" ry="1.8" fill="rgb(196,196,196)" fill-opacity="0.5"/><ellipse cx="378.1" cy="298.7" rx="1.9" ry="1.2" fill="rgb(198,198,198)" fill-opacity="0.5"/><ellipse cx="317.6" cy="306.1" rx="1.5" ry="1.2" fill="rgb(172,172,172)" fill-opacity="0.5"/><ellipse cx="352.8" cy="294.9" rx="1.6" ry="1.0" fill="rgb(173,173,173)" fill-opacity="0.5"/><ellipse cx="323.6" cy="311.1" rx="2.0" ry="1.6" fill="rgb(174,174,174)" fill-opacity="0.5"/><ellipse cx="408.4" cy="306.0" rx="2.7" ry="2.4" fill="rgb(200,200,200)" fill-opacity="0.5"/><ellipse cx="330.2" cy="275.6" rx="1.6" ry="1.0" fill="rgb(202,202,202)" fill-opacity="0.5"/><ellipse cx="346.3" cy="282.0" rx="1.5" ry="1.3" fill="rgb(182,182,182)" fill-opacity="0.5"/><ellipse cx="321.6" cy="286.7" rx="1.5" ry="1.0" fill="rgb(179,179,179)" fill-opacity="0.5"/><ellipse cx="284.6" cy="303.7" rx="2.3" ry="1.8" fill="rgb(181,181,181)" fill-opacity="0.5"/><ellipse cx="306.7" cy="275.7" rx="2.9" ry="1.8" fill="rgb(196,196,196)" fill-opacity="0.5"/><ellipse cx="310.3" cy="304.6" rx="2.5" ry="2.0" fill="rgb(171,171,171)" fill-opacity="0.5"/><ellipse cx="474.0" cy="343.2" rx="2.5" ry="2.3" fill="rgb(185,185,185)" fill-opacity="0.5"/><ellipse cx="323.9" cy="279.1" rx="2.8" ry="2.6" fill="rgb(166,166,166)" fill-opacity="0.5"/><ellipse cx="318.8" cy="287.3" rx="2.4" ry="1.6" fill="rgb(167,167,167)" fill-opacity="0.5"/><ellipse cx="409.2" cy="317.3" rx="2.3" ry="2.0" fill="rgb(203,203,203)" fill-opacity="0.5"/><ellipse cx="333.6" cy="273.1" rx="1.8" ry="1.7" fill="rgb(178,178,178)" fill-opacity="0.5"/><ellipse cx="445.9" cy="346.0" rx="2.4" ry="2.1" fill="rgb(169,169,169)" fill-opacity="0.5"/><ellipse cx="341.0" cy="311.9" rx="2.3" ry="1.6" fill="rgb(169,169,169)" fill-opacity="0.5"/><ellipse cx="405.2" cy="299.1" rx="2.3" ry="2.0" fill="rgb(191,191,191)" fill-opacity="0.5"/><ellipse cx="407.7" cy="313.7" rx="2.4" ry="1.7" fill="rgb(179,179,179)" fill-opacity="0.5"/><ellipse cx="449.4" cy="332.7" rx="1.7" ry="1.7" fill="rgb(194,194,194)" fill-opacity="0.5"/><ellipse cx="382.3" cy="319.2" rx="2.2" ry="1.7" fill="rgb(187,187,187)" fill-opacity="0.5"/><ellipse cx="452.1" cy="361.6" rx="1.7" ry="1.4" fill="rgb(176,176,176)" fill-opacity="0.5"/><ellipse cx="339.6" cy="318.1" rx="2.6" ry="1.9" fill="rgb(194,194,194)" fill-opacity="0.5"/><ellipse cx="355.9" cy="280.8" rx="2.3" ry="2.3" fill="rgb(195,195,195)" fill-opacity="0.5"/><ellipse cx="400.6" cy="297.0" rx="2.4" ry="2.1" fill="rgb(196,196,196)" fill-opacity="0.5"/><ellipse cx="457.9" cy="325.6" rx="2.9" ry="2.7" fill="rgb(203,203,203)" fill-opacity="0.5"/><ellipse cx="336.0" cy="275.0" rx="2.1" ry="1.4" fill="rgb(179,179,179)" fill-opacity="0.5"/><ellipse cx="414.7" cy="315.5" rx="2.0" ry="1.3" fill="rgb(168,168,168)" fill-opacity="0.5"/><ellipse cx="314.9" cy="303.3" rx="1.8" ry="1.2" fill="rgb(192,192,192)" fill-opacity="0.5"/><ellipse cx="374.1" cy="302.7" rx="1.9" ry="1.8" fill="rgb(191,191,191)" fill-opacity="0.5"/><ellipse cx="340.7" cy="280.4" rx="2.1" ry="1.3" fill="rgb(198,198,198)" fill-opacity="0.5"/><ellipse cx="324.9" cy="272.7" rx="1.9" ry="1.4" fill="rgb(191,191,191)" fill-opacity="0.5"/><ellipse cx="271.7" cy="305.7" rx="1.7" ry="1.7" fill="rgb(167,167,167)" fill-opacity="0.5"/><ellipse cx="303.1" cy="305.4" rx="2.6" ry="1.8" fill="rgb(172,172,172)" fill-opacity="0.5"/><ellipse cx="435.9" cy="313.0" rx="2.4" ry="1.7" fill="rgb(174,174,174)" fill-opacity="0.5"/><ellipse cx="286.2" cy="296.4" rx="2.5" ry="2.1" fill="rgb(168,168,168)" fill-opacity="0.5"/></g></g>
</g></g>
<g clip-path="url(#clip1)"><g filter="url(#jet1)">
<rect x="648" y="47" width="551" height="440" fill="rgb(128,128,128)"/>
<ellipse cx="790" cy="260" rx="200" ry="230" fill="rgb(135,135,135)" fill-opacity="0.85" filter="url(#bl60)"/>
<ellipse cx="1120" cy="420" rx="170" ry="120" fill="rgb(121,121,121)" fill-opacity="0.7" filter="url(#bl60)"/>
<ellipse cx="1110" cy="160" rx="150" ry="130" fill="rgb(124,124,124)" fill-opacity="0.7" filter="url(#bl50)"/>
<ellipse cx="830" cy="305" rx="70" ry="55" fill="rgb(147,147,147)" fill-opacity="0.8" filter="url(#bl28)"/>
<ellipse cx="990" cy="435" rx="130" ry="60" fill="rgb(117,117,117)" fill-opacity="0.8" filter="url(#bl35)"/>
<g><ellipse cx="865" cy="248" rx="105" ry="95" fill="rgb(144,144,144)" fill-opacity="0.9" filter="url(#bl35)"/><ellipse cx="893" cy="252" rx="50" ry="34" fill="rgb(159,159,159)" fill-opacity="0.95" filter="url(#bl16)"/><path d="M900.0,250.0 L980.0,262.0 L1060.0,288.0 L1100.0,305.0 L1060.0,300.0 L980.0,282.0 L920.0,265.0 Z" fill="rgb(139,139,139)" fill-opacity="0.8" filter="url(#bl10)"/></g>
<g clip-path="url(#sb)"><path d="M890.0,258.0 L950.0,270.0 L1060.0,310.0 L1110.0,345.0 L1070.0,380.0 L960.0,378.0 L900.0,362.0 L885.0,320.0 Z" fill="rgb(111,111,111)" fill-opacity="0.92" filter="url(#bl20)"/><path d="M900.0,255.0 L960.0,266.0 L1000.0,280.0 L1062.0,306.0 L1100.0,338.0 L1080.0,362.0 L1000.0,358.0 L940.0,338.0 L905.0,300.0 Z" fill="rgb(94,94,94)" fill-opacity="0.95" filter="url(#bl11)"/><path d="M960.0,288.0 L1010.0,298.0 L1062.0,318.0 L1045.0,335.0 L990.0,326.0 Z" fill="rgb(82,82,82)" fill-opacity="0.85" filter="url(#bl9)"/><path d="M870.0,340.0 L950.0,344.0 L1000.0,368.0 L900.0,366.0 Z" fill="rgb(110,110,110)" fill-opacity="0.7" filter="url(#bl10)"/></g>
<ellipse cx="1100" cy="307" rx="20" ry="7" fill="rgb(140,140,140)" fill-opacity="0.8" filter="url(#bl4)"/>
</g></g>
<g clip-path="url(#clip2)"><g filter="url(#jet2)">
<rect x="63" y="518" width="551" height="440" fill="rgb(126,126,126)"/>
<ellipse cx="470" cy="621" rx="200" ry="110" fill="rgb(126,126,126)" fill-opacity="0.6" filter="url(#bl50)"/>
<ellipse cx="140" cy="801" rx="120" ry="130" fill="rgb(131,131,131)" fill-opacity="0.6" filter="url(#bl50)"/>
<ellipse cx="520" cy="891" rx="120" ry="80" fill="rgb(130,130,130)" fill-opacity="0.6" filter="url(#bl40)"/>
<ellipse cx="300" cy="788" rx="110" ry="40" fill="rgb(116,116,116)" fill-opacity="0.7" filter="url(#bl28)" transform="rotate(-8 300 788)"/>
<ellipse cx="300" cy="871" rx="90" ry="50" fill="rgb(119,119,119)" fill-opacity="0.6" filter="url(#bl30)"/>
<g clip-path="url(#nc)"><path d="M230.0,726.0 L260.0,703.0 L320.0,711.0 L300.0,733.0 Z" fill="rgb(110,110,110)" fill-opacity="0.7" filter="url(#bl10)"/><path d="M254.0,721.0 L258.0,711.0 L264.0,715.0 L264.0,737.0 L258.0,741.0 Z" fill="rgb(76,76,76)" fill-opacity="0.85" filter="url(#bl2)"/><path d="M335.0,729.0 L400.0,739.0 L470.0,767.0 L515.0,801.0 L505.0,781.0 L460.0,754.0 L400.0,729.0 L350.0,719.0 Z" fill="rgb(99,99,99)" fill-opacity="0.9" filter="url(#bl6)"/><g filter="url(#bl0_6)"><ellipse cx="443.6" cy="767.2" rx="1.8" ry="1.3" fill="rgb(56,56,56)" fill-opacity="0.9"/><ellipse cx="430.9" cy="755.9" rx="1.1" ry="0.7" fill="rgb(50,50,50)" fill-opacity="0.9"/><ellipse cx="384.4" cy="749.4" rx="1.9" ry="1.5" fill="rgb(51,51,51)" fill-opacity="0.9"/><ellipse cx="313.7" cy="727.3" rx="1.2" ry="0.9" fill="rgb(53,53,53)" fill-opacity="0.9"/><ellipse cx="470.9" cy="773.4" rx="1.9" ry="1.8" fill="rgb(82,82,82)" fill-opacity="0.9"/><ellipse cx="473.1" cy="775.9" rx="1.1" ry="0.7" fill="rgb(77,77,77)" fill-opacity="0.9"/><ellipse cx="394.5" cy="749.6" rx="1.4" ry="1.1" fill="rgb(48,48,48)" fill-opacity="0.9"/><ellipse cx="394.2" cy="750.2" rx="1.7" ry="1.6" fill="rgb(68,68,68)" fill-opacity="0.9"/><ellipse cx="319.6" cy="730.3" rx="2.0" ry="1.4" fill="rgb(85,85,85)" fill-opacity="0.9"/><ellipse cx="357.6" cy="736.3" rx="1.1" ry="1.1" fill="rgb(79,79,79)" fill-opacity="0.9"/><ellipse cx="413.6" cy="759.8" rx="1.1" ry="0.7" fill="rgb(49,49,49)" fill-opacity="0.9"/><ellipse cx="472.4" cy="774.2" rx="1.8" ry="1.6" fill="rgb(47,47,47)" fill-opacity="0.9"/><ellipse cx="318.4" cy="727.9" rx="1.5" ry="0.9" fill="rgb(55,55,55)" fill-opacity="0.9"/><ellipse cx="317.5" cy="729.2" rx="2.1" ry="1.6" fill="rgb(75,75,75)" fill-opacity="0.9"/><ellipse cx="454.8" cy="772.9" rx="1.8" ry="1.2" fill="rgb(85,85,85)" fill-opacity="0.9"/><ellipse cx="491.1" cy="789.0" rx="2.2" ry="1.8" fill="rgb(78,78,78)" fill-opacity="0.9"/><ellipse cx="424.2" cy="759.0" rx="1.9" ry="1.3" fill="rgb(74,74,74)" fill-opacity="0.9"/><ellipse cx="346.4" cy="730.7" rx="2.1" ry="2.1" fill="rgb(85,85,85)" fill-opacity="0.9"/><ellipse cx="389.4" cy="750.7" rx="1.5" ry="1.2" fill="rgb(52,52,52)" fill-opacity="0.9"/><ellipse cx="354.7" cy="741.3" rx="2.0" ry="1.3" fill="rgb(65,65,65)" fill-opacity="0.9"/><ellipse cx="479.0" cy="774.4" rx="1.4" ry="1.3" fill="rgb(72,72,72)" fill-opacity="0.9"/><ellipse cx="504.7" cy="796.9" rx="1.3" ry="0.9" fill="rgb(80,80,80)" fill-opacity="0.9"/><ellipse cx="378.2" cy="744.3" rx="1.4" ry="1.3" fill="rgb(61,61,61)" fill-opacity="0.9"/><ellipse cx="405.3" cy="754.6" rx="1.4" ry="1.0" fill="rgb(53,53,53)" fill-opacity="0.9"/><ellipse cx="347.7" cy="738.2" rx="1.0" ry="1.0" fill="rgb(79,79,79)" fill-opacity="0.9"/><ellipse cx="386.0" cy="746.4" rx="1.1" ry="0.9" fill="rgb(71,71,71)" fill-opacity="0.9"/><ellipse cx="303.5" cy="727.8" rx="1.1" ry="0.9" fill="rgb(59,59,59)" fill-opacity="0.9"/><ellipse cx="490.2" cy="782.2" rx="2.0" ry="1.6" fill="rgb(79,79,79)" fill-opacity="0.9"/><ellipse cx="317.6" cy="730.0" rx="1.7" ry="1.6" fill="rgb(55,55,55)" fill-opacity="0.9"/><ellipse cx="469.6" cy="774.4" rx="1.0" ry="0.6" fill="rgb(70,70,70)" fill-opacity="0.9"/><ellipse cx="313.3" cy="724.5" rx="1.2" ry="1.2" fill="rgb(48,48,48)" fill-opacity="0.9"/><ellipse cx="496.7" cy="790.1" rx="2.0" ry="1.4" fill="rgb(60,60,60)" fill-opacity="0.9"/><ellipse cx="458.9" cy="774.5" rx="2.2" ry="1.4" fill="rgb(49,49,49)" fill-opacity="0.9"/><ellipse cx="463.0" cy="772.5" rx="1.4" ry="0.8" fill="rgb(48,48,48)" fill-opacity="0.9"/><ellipse cx="414.1" cy="757.1" rx="1.2" ry="1.2" fill="rgb(50,50,50)" fill-opacity="0.9"/><ellipse cx="453.2" cy="771.0" rx="1.9" ry="1.2" fill="rgb(67,67,67)" fill-opacity="0.9"/><ellipse cx="384.9" cy="742.8" rx="1.5" ry="1.2" fill="rgb(68,68,68)" fill-opacity="0.9"/><ellipse cx="479.4" cy="782.4" rx="1.2" ry="1.1" fill="rgb(81,81,81)" fill-opacity="0.9"/><ellipse cx="310.9" cy="721.9" rx="2.0" ry="1.6" fill="rgb(83,83,83)" fill-opacity="0.9"/><ellipse cx="506.5" cy="792.2" rx="2.2" ry="2.0" fill="rgb(84,84,84)" fill-opacity="0.9"/><ellipse cx="492.3" cy="792.4" rx="1.8" ry="1.5" fill="rgb(77,77,77)" fill-opacity="0.9"/><ellipse cx="368.3" cy="743.3" rx="2.1" ry="2.1" fill="rgb(54,54,54)" fill-opacity="0.9"/><ellipse cx="356.6" cy="737.6" rx="2.1" ry="1.4" fill="rgb(61,61,61)" fill-opacity="0.9"/><ellipse cx="377.0" cy="745.9" rx="2.1" ry="1.3" fill="rgb(61,61,61)" fill-opacity="0.9"/><ellipse cx="359.8" cy="741.6" rx="1.0" ry="0.7" fill="rgb(73,73,73)" fill-opacity="0.9"/></g><g filter="url(#bl0_8)"><ellipse cx="294.5" cy="720.6" rx="2.7" ry="2.0" fill="rgb(87,87,87)" fill-opacity="0.7"/><ellipse cx="261.2" cy="699.5" rx="2.1" ry="1.9" fill="rgb(95,95,95)" fill-opacity="0.7"/><ellipse cx="306.8" cy="711.1" rx="1.6" ry="1.0" fill="rgb(92,92,92)" fill-opacity="0.7"/><ellipse cx="287.9" cy="712.1" rx="2.4" ry="1.9" fill="rgb(88,88,88)" fill-opacity="0.7"/><ellipse cx="434.0" cy="752.3" rx="1.3" ry="0.8" fill="rgb(102,102,102)" fill-opacity="0.7"/><ellipse cx="355.8" cy="725.7" rx="1.6" ry="1.1" fill="rgb(98,98,98)" fill-opacity="0.7"/><ellipse cx="499.0" cy="787.4" rx="1.2" ry="1.0" fill="rgb(94,94,94)" fill-opacity="0.7"/><ellipse cx="319.8" cy="727.3" rx="2.2" ry="2.1" fill="rgb(94,94,94)" fill-opacity="0.7"/><ellipse cx="344.6" cy="723.8" rx="1.5" ry="1.2" fill="rgb(104,104,104)" fill-opacity="0.7"/><ellipse cx="424.3" cy="747.5" rx="1.5" ry="1.5" fill="rgb(95,95,95)" fill-opacity="0.7"/><ellipse cx="446.5" cy="752.5" rx="1.6" ry="1.0" fill="rgb(90,90,90)" fill-opacity="0.7"/><ellipse cx="448.6" cy="763.1" rx="2.9" ry="2.4" fill="rgb(90,90,90)" fill-opacity="0.7"/><ellipse cx="270.5" cy="701.5" rx="2.6" ry="2.5" fill="rgb(87,87,87)" fill-opacity="0.7"/><ellipse cx="500.8" cy="779.1" rx="1.4" ry="0.9" fill="rgb(88,88,88)" fill-opacity="0.7"/><ellipse cx="420.1" cy="750.9" rx="1.9" ry="1.7" fill="rgb(99,99,99)" fill-opacity="0.7"/><ellipse cx="344.2" cy="729.3" rx="2.5" ry="2.3" fill="rgb(105,105,105)" fill-opacity="0.7"/><ellipse cx="307.6" cy="713.3" rx="1.6" ry="1.6" fill="rgb(88,88,88)" fill-opacity="0.7"/><ellipse cx="485.3" cy="780.0" rx="1.4" ry="1.0" fill="rgb(96,96,96)" fill-opacity="0.7"/><ellipse cx="414.5" cy="754.3" rx="1.8" ry="1.3" fill="rgb(103,103,103)" fill-opacity="0.7"/><ellipse cx="470.0" cy="768.1" rx="1.9" ry="1.8" fill="rgb(88,88,88)" fill-opacity="0.7"/><ellipse cx="411.0" cy="745.5" rx="1.6" ry="1.1" fill="rgb(93,93,93)" fill-opacity="0.7"/><ellipse cx="447.3" cy="767.9" rx="1.4" ry="1.3" fill="rgb(97,97,97)" fill-opacity="0.7"/><ellipse cx="422.8" cy="750.6" rx="1.9" ry="1.6" fill="rgb(105,105,105)" fill-opacity="0.7"/><ellipse cx="327.4" cy="719.9" rx="2.4" ry="2.1" fill="rgb(103,103,103)" fill-opacity="0.7"/><ellipse cx="342.1" cy="725.2" rx="1.3" ry="1.1" fill="rgb(90,90,90)" fill-opacity="0.7"/><ellipse cx="471.5" cy="760.9" rx="2.3" ry="1.4" fill="rgb(100,100,100)" fill-opacity="0.7"/><ellipse cx="438.9" cy="742.9" rx="1.6" ry="1.6" fill="rgb(101,101,101)" fill-opacity="0.7"/><ellipse cx="293.6" cy="719.3" rx="1.5" ry="1.5" fill="rgb(95,95,95)" fill-opacity="0.7"/><ellipse cx="485.5" cy="771.4" rx="2.8" ry="1.9" fill="rgb(103,103,103)" fill-opacity="0.7"/><ellipse cx="440.8" cy="756.1" rx="2.3" ry="1.9" fill="rgb(92,92,92)" fill-opacity="0.7"/><ellipse cx="307.1" cy="720.3" rx="3.0" ry="2.0" fill="rgb(99,99,99)" fill-opacity="0.7"/><ellipse cx="266.8" cy="714.0" rx="1.3" ry="0.9" fill="rgb(99,99,99)" fill-opacity="0.7"/><ellipse cx="403.5" cy="738.1" rx="2.5" ry="1.6" fill="rgb(91,91,91)" fill-opacity="0.7"/><ellipse cx="264.0" cy="712.1" rx="1.2" ry="1.1" fill="rgb(96,96,96)" fill-opacity="0.7"/><ellipse cx="395.6" cy="748.1" rx="1.5" ry="1.1" fill="rgb(89,89,89)" fill-opacity="0.7"/><ellipse cx="397.4" cy="741.8" rx="2.1" ry="1.6" fill="rgb(92,92,92)" fill-opacity="0.7"/><ellipse cx="370.4" cy="734.7" rx="1.6" ry="1.5" fill="rgb(90,90,90)" fill-opacity="0.7"/><ellipse cx="433.9" cy="761.2" rx="2.7" ry="2.6" fill="rgb(98,98,98)" fill-opacity="0.7"/><ellipse cx="506.8" cy="784.8" rx="2.5" ry="2.3" fill="rgb(91,91,91)" fill-opacity="0.7"/><ellipse cx="340.0" cy="725.2" rx="2.2" ry="2.1" fill="rgb(90,90,90)" fill-opacity="0.7"/></g></g>
<g clip-path="url(#sc)"><path d="M190.0,739.0 L260.0,741.0 L300.0,729.0 L320.0,761.0 L300.0,791.0 L250.0,801.0 L190.0,781.0 Z" fill="rgb(112,112,112)" fill-opacity="0.75" filter="url(#bl14)"/><path d="M320.0,733.0 L380.0,746.0 L460.0,776.0 L520.0,811.0 L535.0,833.0 L490.0,843.0 L420.0,821.0 L360.0,789.0 L330.0,761.0 Z" fill="rgb(153,153,153)" fill-opacity="0.9" filter="url(#bl13)"/><path d="M333.0,733.0 L390.0,747.0 L450.0,769.0 L495.0,791.0 L480.0,801.0 L410.0,787.0 L360.0,771.0 L338.0,755.0 Z" fill="rgb(171,171,171)" fill-opacity="0.9" filter="url(#bl6)"/><path d="M336.0,733.0 L390.0,746.0 L450.0,767.0 L490.0,787.0 L470.0,789.0 L410.0,775.0 L360.0,761.0 L340.0,747.0 Z" fill="rgb(181,181,181)" fill-opacity="0.7" filter="url(#bl3)"/><g filter="url(#bl0_6)"><ellipse cx="413.8" cy="759.5" rx="1.4" ry="1.1" fill="rgb(242,242,242)" fill-opacity="0.9"/><ellipse cx="370.1" cy="743.5" rx="1.8" ry="1.7" fill="rgb(229,229,229)" fill-opacity="0.9"/><ellipse cx="400.1" cy="754.1" rx="2.4" ry="1.5" fill="rgb(235,235,235)" fill-opacity="0.9"/><ellipse cx="373.5" cy="750.3" rx="1.2" ry="0.8" fill="rgb(242,242,242)" fill-opacity="0.9"/><ellipse cx="377.0" cy="752.1" rx="1.4" ry="1.4" fill="rgb(217,217,217)" fill-opacity="0.9"/><ellipse cx="444.9" cy="775.7" rx="2.3" ry="1.4" fill="rgb(220,220,220)" fill-opacity="0.9"/><ellipse cx="367.2" cy="748.3" rx="1.7" ry="1.4" fill="rgb(238,238,238)" fill-opacity="0.9"/><ellipse cx="394.3" cy="757.1" rx="1.8" ry="1.2" fill="rgb(225,225,225)" fill-opacity="0.9"/><ellipse cx="455.1" cy="772.3" rx="1.6" ry="1.4" fill="rgb(225,225,225)" fill-opacity="0.9"/><ellipse cx="353.6" cy="740.8" rx="1.5" ry="1.4" fill="rgb(236,236,236)" fill-opacity="0.9"/><ellipse cx="464.1" cy="784.7" rx="2.4" ry="1.5" fill="rgb(247,247,247)" fill-opacity="0.9"/><ellipse cx="415.5" cy="762.2" rx="1.1" ry="0.9" fill="rgb(227,227,227)" fill-opacity="0.9"/><ellipse cx="432.4" cy="768.2" rx="1.6" ry="1.1" fill="rgb(216,216,216)" fill-opacity="0.9"/><ellipse cx="424.3" cy="764.3" rx="1.6" ry="1.1" fill="rgb(222,222,222)" fill-opacity="0.9"/><ellipse cx="352.6" cy="741.0" rx="2.2" ry="2.1" fill="rgb(233,233,233)" fill-opacity="0.9"/><ellipse cx="460.2" cy="777.8" rx="1.9" ry="1.8" fill="rgb(245,245,245)" fill-opacity="0.9"/><ellipse cx="354.2" cy="741.0" rx="2.2" ry="1.6" fill="rgb(227,227,227)" fill-opacity="0.9"/><ellipse cx="408.4" cy="757.7" rx="2.4" ry="2.1" fill="rgb(239,239,239)" fill-opacity="0.9"/><ellipse cx="432.1" cy="767.6" rx="1.8" ry="1.5" fill="rgb(216,216,216)" fill-opacity="0.9"/><ellipse cx="340.4" cy="735.3" rx="1.1" ry="0.7" fill="rgb(230,230,230)" fill-opacity="0.9"/><ellipse cx="382.1" cy="752.8" rx="2.1" ry="1.7" fill="rgb(234,234,234)" fill-opacity="0.9"/><ellipse cx="448.6" cy="774.0" rx="1.4" ry="1.1" fill="rgb(224,224,224)" fill-opacity="0.9"/><ellipse cx="415.7" cy="761.2" rx="2.3" ry="2.2" fill="rgb(215,215,215)" fill-opacity="0.9"/><ellipse cx="377.4" cy="748.1" rx="2.0" ry="1.7" fill="rgb(246,246,246)" fill-opacity="0.9"/><ellipse cx="430.9" cy="766.4" rx="1.2" ry="0.7" fill="rgb(242,242,242)" fill-opacity="0.9"/><ellipse cx="344.5" cy="736.5" rx="2.3" ry="1.9" fill="rgb(235,235,235)" fill-opacity="0.9"/><ellipse cx="475.4" cy="784.3" rx="1.9" ry="1.3" fill="rgb(243,243,243)" fill-opacity="0.9"/><ellipse cx="410.2" cy="760.0" rx="2.1" ry="1.5" fill="rgb(220,220,220)" fill-opacity="0.9"/><ellipse cx="477.3" cy="780.6" rx="2.4" ry="2.2" fill="rgb(214,214,214)" fill-opacity="0.9"/><ellipse cx="344.3" cy="740.3" rx="2.1" ry="1.4" fill="rgb(235,235,235)" fill-opacity="0.9"/><ellipse cx="353.8" cy="744.2" rx="1.7" ry="1.3" fill="rgb(244,244,244)" fill-opacity="0.9"/><ellipse cx="335.1" cy="737.6" rx="1.9" ry="1.8" fill="rgb(234,234,234)" fill-opacity="0.9"/><ellipse cx="466.3" cy="779.3" rx="1.2" ry="1.0" fill="rgb(219,219,219)" fill-opacity="0.9"/><ellipse cx="402.7" cy="761.2" rx="1.7" ry="1.4" fill="rgb(241,241,241)" fill-opacity="0.9"/><ellipse cx="466.5" cy="782.2" rx="2.1" ry="1.5" fill="rgb(242,242,242)" fill-opacity="0.9"/><ellipse cx="446.9" cy="774.0" rx="2.3" ry="1.5" fill="rgb(245,245,245)" fill-opacity="0.9"/><ellipse cx="476.9" cy="783.8" rx="1.7" ry="1.5" fill="rgb(247,247,247)" fill-opacity="0.9"/><ellipse cx="402.0" cy="755.4" rx="2.2" ry="1.5" fill="rgb(229,229,229)" fill-opacity="0.9"/><ellipse cx="414.1" cy="760.4" rx="1.8" ry="1.7" fill="rgb(247,247,247)" fill-opacity="0.9"/><ellipse cx="365.6" cy="748.0" rx="1.9" ry="1.5" fill="rgb(239,239,239)" fill-opacity="0.9"/><ellipse cx="475.4" cy="780.0" rx="2.0" ry="1.9" fill="rgb(230,230,230)" fill-opacity="0.9"/><ellipse cx="439.2" cy="769.4" rx="1.7" ry="1.3" fill="rgb(240,240,240)" fill-opacity="0.9"/><ellipse cx="470.9" cy="784.4" rx="1.2" ry="1.2" fill="rgb(243,243,243)" fill-opacity="0.9"/><ellipse cx="402.7" cy="756.3" rx="2.0" ry="1.8" fill="rgb(218,218,218)" fill-opacity="0.9"/><ellipse cx="456.7" cy="780.4" rx="2.3" ry="2.3" fill="rgb(235,235,235)" fill-opacity="0.9"/><ellipse cx="348.5" cy="738.1" rx="1.7" ry="1.5" fill="rgb(246,246,246)" fill-opacity="0.9"/><ellipse cx="357.2" cy="745.1" rx="1.6" ry="1.3" fill="rgb(239,239,239)" fill-opacity="0.9"/><ellipse cx="380.5" cy="748.8" rx="1.0" ry="0.7" fill="rgb(225,225,225)" fill-opacity="0.9"/><ellipse cx="398.5" cy="753.8" rx="2.3" ry="2.0" fill="rgb(240,240,240)" fill-opacity="0.9"/><ellipse cx="400.3" cy="758.5" rx="1.9" ry="1.8" fill="rgb(222,222,222)" fill-opacity="0.9"/><ellipse cx="475.6" cy="781.7" rx="1.1" ry="1.0" fill="rgb(235,235,235)" fill-opacity="0.9"/><ellipse cx="371.2" cy="747.3" rx="2.0" ry="1.9" fill="rgb(247,247,247)" fill-opacity="0.9"/><ellipse cx="376.7" cy="748.1" rx="2.0" ry="1.7" fill="rgb(225,225,225)" fill-opacity="0.9"/><ellipse cx="349.0" cy="738.1" rx="1.5" ry="1.4" fill="rgb(225,225,225)" fill-opacity="0.9"/><ellipse cx="473.0" cy="780.0" rx="1.2" ry="1.1" fill="rgb(229,229,229)" fill-opacity="0.9"/></g><g filter="url(#bl0_9)"><ellipse cx="444.4" cy="775.2" rx="3.1" ry="2.5" fill="rgb(201,201,201)" fill-opacity="0.65"/><ellipse cx="431.4" cy="782.2" rx="2.4" ry="2.3" fill="rgb(190,190,190)" fill-opacity="0.65"/><ellipse cx="459.6" cy="778.9" rx="2.6" ry="1.7" fill="rgb(201,201,201)" fill-opacity="0.65"/><ellipse cx="439.7" cy="783.1" rx="2.4" ry="1.9" fill="rgb(203,203,203)" fill-opacity="0.65"/><ellipse cx="441.5" cy="801.6" rx="2.1" ry="1.8" fill="rgb(181,181,181)" fill-opacity="0.65"/><ellipse cx="461.2" cy="779.1" rx="2.6" ry="2.6" fill="rgb(198,198,198)" fill-opacity="0.65"/><ellipse cx="371.8" cy="751.7" rx="3.3" ry="2.6" fill="rgb(185,185,185)" fill-opacity="0.65"/><ellipse cx="390.4" cy="763.2" rx="2.0" ry="1.8" fill="rgb(190,190,190)" fill-opacity="0.65"/><ellipse cx="447.0" cy="793.0" rx="2.5" ry="1.5" fill="rgb(198,198,198)" fill-opacity="0.65"/><ellipse cx="374.0" cy="754.2" rx="2.4" ry="2.0" fill="rgb(192,192,192)" fill-opacity="0.65"/><ellipse cx="332.2" cy="756.2" rx="3.2" ry="2.1" fill="rgb(193,193,193)" fill-opacity="0.65"/><ellipse cx="458.7" cy="786.3" rx="2.6" ry="1.8" fill="rgb(182,182,182)" fill-opacity="0.65"/><ellipse cx="337.6" cy="753.0" rx="3.3" ry="3.2" fill="rgb(184,184,184)" fill-opacity="0.65"/><ellipse cx="334.4" cy="752.2" rx="1.8" ry="1.7" fill="rgb(184,184,184)" fill-opacity="0.65"/><ellipse cx="398.5" cy="767.7" rx="2.6" ry="2.1" fill="rgb(197,197,197)" fill-opacity="0.65"/><ellipse cx="353.5" cy="745.2" rx="2.8" ry="1.9" fill="rgb(199,199,199)" fill-opacity="0.65"/><ellipse cx="342.1" cy="736.4" rx="2.5" ry="1.6" fill="rgb(186,186,186)" fill-opacity="0.65"/><ellipse cx="431.2" cy="774.3" rx="2.9" ry="1.9" fill="rgb(198,198,198)" fill-opacity="0.65"/><ellipse cx="466.3" cy="789.3" rx="3.4" ry="3.1" fill="rgb(203,203,203)" fill-opacity="0.65"/><ellipse cx="470.0" cy="797.0" rx="1.5" ry="1.4" fill="rgb(194,194,194)" fill-opacity="0.65"/><ellipse cx="444.0" cy="805.2" rx="3.2" ry="2.8" fill="rgb(186,186,186)" fill-opacity="0.65"/><ellipse cx="383.6" cy="767.3" rx="1.7" ry="1.2" fill="rgb(182,182,182)" fill-opacity="0.65"/><ellipse cx="376.2" cy="779.8" rx="2.9" ry="2.4" fill="rgb(182,182,182)" fill-opacity="0.65"/><ellipse cx="427.7" cy="796.8" rx="3.4" ry="2.1" fill="rgb(195,195,195)" fill-opacity="0.65"/><ellipse cx="390.8" cy="759.2" rx="3.2" ry="3.1" fill="rgb(183,183,183)" fill-opacity="0.65"/><ellipse cx="456.4" cy="790.4" rx="2.1" ry="1.9" fill="rgb(192,192,192)" fill-opacity="0.65"/><ellipse cx="393.7" cy="774.8" rx="2.1" ry="2.1" fill="rgb(187,187,187)" fill-opacity="0.65"/><ellipse cx="420.2" cy="784.1" rx="3.1" ry="3.1" fill="rgb(197,197,197)" fill-opacity="0.65"/><ellipse cx="428.2" cy="774.6" rx="2.3" ry="1.4" fill="rgb(189,189,189)" fill-opacity="0.65"/><ellipse cx="423.9" cy="791.8" rx="3.3" ry="2.6" fill="rgb(182,182,182)" fill-opacity="0.65"/><ellipse cx="351.1" cy="772.3" rx="2.7" ry="2.4" fill="rgb(179,179,179)" fill-opacity="0.65"/><ellipse cx="464.4" cy="795.9" rx="1.6" ry="1.4" fill="rgb(201,201,201)" fill-opacity="0.65"/><ellipse cx="354.2" cy="769.4" rx="2.8" ry="2.4" fill="rgb(202,202,202)" fill-opacity="0.65"/><ellipse cx="380.1" cy="754.3" rx="2.4" ry="2.1" fill="rgb(203,203,203)" fill-opacity="0.65"/><ellipse cx="478.0" cy="790.1" rx="2.2" ry="1.9" fill="rgb(179,179,179)" fill-opacity="0.65"/><ellipse cx="406.7" cy="768.2" rx="2.2" ry="1.6" fill="rgb(183,183,183)" fill-opacity="0.65"/><ellipse cx="361.5" cy="777.7" rx="1.9" ry="1.2" fill="rgb(181,181,181)" fill-opacity="0.65"/><ellipse cx="354.9" cy="743.0" rx="2.8" ry="2.7" fill="rgb(200,200,200)" fill-opacity="0.65"/><ellipse cx="376.3" cy="750.3" rx="2.0" ry="1.5" fill="rgb(188,188,188)" fill-opacity="0.65"/><ellipse cx="331.3" cy="758.7" rx="2.6" ry="2.5" fill="rgb(185,185,185)" fill-opacity="0.65"/><ellipse cx="374.3" cy="749.3" rx="2.0" ry="1.3" fill="rgb(198,198,198)" fill-opacity="0.65"/><ellipse cx="457.0" cy="791.8" rx="2.9" ry="2.8" fill="rgb(197,197,197)" fill-opacity="0.65"/><ellipse cx="438.5" cy="796.3" rx="2.1" ry="1.3" fill="rgb(182,182,182)" fill-opacity="0.65"/><ellipse cx="466.6" cy="797.4" rx="2.4" ry="2.0" fill="rgb(182,182,182)" fill-opacity="0.65"/><ellipse cx="390.9" cy="783.5" rx="1.7" ry="1.7" fill="rgb(186,186,186)" fill-opacity="0.65"/><ellipse cx="402.1" cy="788.0" rx="1.6" ry="1.0" fill="rgb(200,200,200)" fill-opacity="0.65"/><ellipse cx="365.1" cy="751.0" rx="1.8" ry="1.5" fill="rgb(204,204,204)" fill-opacity="0.65"/><ellipse cx="355.0" cy="763.1" rx="1.5" ry="0.9" fill="rgb(194,194,194)" fill-opacity="0.65"/><ellipse cx="330.2" cy="757.2" rx="2.1" ry="1.3" fill="rgb(198,198,198)" fill-opacity="0.65"/><ellipse cx="332.7" cy="738.2" rx="1.5" ry="1.4" fill="rgb(179,179,179)" fill-opacity="0.65"/><ellipse cx="343.4" cy="746.0" rx="2.1" ry="2.1" fill="rgb(200,200,200)" fill-opacity="0.65"/><ellipse cx="468.3" cy="781.6" rx="1.9" ry="1.9" fill="rgb(194,194,194)" fill-opacity="0.65"/><ellipse cx="422.1" cy="786.5" rx="3.3" ry="3.0" fill="rgb(190,190,190)" fill-opacity="0.65"/><ellipse cx="402.6" cy="760.5" rx="2.0" ry="1.7" fill="rgb(200,200,200)" fill-opacity="0.65"/><ellipse cx="438.5" cy="780.2" rx="2.2" ry="1.7" fill="rgb(192,192,192)" fill-opacity="0.65"/><ellipse cx="364.9" cy="753.7" rx="3.0" ry="2.0" fill="rgb(195,195,195)" fill-opacity="0.65"/><ellipse cx="424.6" cy="768.6" rx="2.4" ry="2.1" fill="rgb(195,195,195)" fill-opacity="0.65"/><ellipse cx="354.7" cy="749.1" rx="2.5" ry="2.4" fill="rgb(187,187,187)" fill-opacity="0.65"/><ellipse cx="457.5" cy="780.8" rx="2.2" ry="1.4" fill="rgb(195,195,195)" fill-opacity="0.65"/><ellipse cx="338.1" cy="747.6" rx="1.7" ry="1.2" fill="rgb(181,181,181)" fill-opacity="0.65"/><ellipse cx="449.1" cy="777.6" rx="2.9" ry="2.3" fill="rgb(203,203,203)" fill-opacity="0.65"/><ellipse cx="361.9" cy="748.9" rx="2.2" ry="1.5" fill="rgb(197,197,197)" fill-opacity="0.65"/><ellipse cx="377.9" cy="755.6" rx="3.3" ry="2.0" fill="rgb(183,183,183)" fill-opacity="0.65"/><ellipse cx="465.3" cy="785.6" rx="2.5" ry="2.0" fill="rgb(197,197,197)" fill-opacity="0.65"/><ellipse cx="399.1" cy="758.4" rx="1.4" ry="1.0" fill="rgb(183,183,183)" fill-opacity="0.65"/><ellipse cx="368.2" cy="766.2" rx="2.8" ry="2.4" fill="rgb(195,195,195)" fill-opacity="0.65"/><ellipse cx="475.4" cy="789.3" rx="2.3" ry="1.6" fill="rgb(202,202,202)" fill-opacity="0.65"/><ellipse cx="404.0" cy="764.7" rx="2.5" ry="2.3" fill="rgb(181,181,181)" fill-opacity="0.65"/><ellipse cx="432.6" cy="802.0" rx="1.7" ry="1.4" fill="rgb(181,181,181)" fill-opacity="0.65"/><ellipse cx="458.9" cy="807.2" rx="1.7" ry="1.5" fill="rgb(202,202,202)" fill-opacity="0.65"/></g></g>
</g></g>
<g clip-path="url(#clip3)"><g filter="url(#jet3)">
<rect x="648" y="518" width="551" height="440" fill="rgb(126,126,126)"/>
<ellipse cx="1055" cy="621" rx="200" ry="110" fill="rgb(126,126,126)" fill-opacity="0.6" filter="url(#bl50)"/>
<ellipse cx="725" cy="801" rx="120" ry="130" fill="rgb(131,131,131)" fill-opacity="0.6" filter="url(#bl50)"/>
<ellipse cx="1105" cy="891" rx="120" ry="80" fill="rgb(130,130,130)" fill-opacity="0.6" filter="url(#bl40)"/>
<ellipse cx="885" cy="788" rx="110" ry="40" fill="rgb(116,116,116)" fill-opacity="0.7" filter="url(#bl28)" transform="rotate(-8 885 788)"/>
<ellipse cx="885" cy="871" rx="90" ry="50" fill="rgb(119,119,119)" fill-opacity="0.6" filter="url(#bl30)"/>
<g clip-path="url(#nd)"><path d="M815.0,726.0 L845.0,703.0 L905.0,711.0 L885.0,733.0 Z" fill="rgb(110,110,110)" fill-opacity="0.7" filter="url(#bl10)"/><path d="M839.0,721.0 L843.0,711.0 L849.0,715.0 L849.0,737.0 L843.0,741.0 Z" fill="rgb(76,76,76)" fill-opacity="0.85" filter="url(#bl2)"/><path d="M920.0,729.0 L985.0,739.0 L1055.0,767.0 L1100.0,801.0 L1090.0,781.0 L1045.0,754.0 L985.0,729.0 L935.0,719.0 Z" fill="rgb(99,99,99)" fill-opacity="0.9" filter="url(#bl6)"/><g filter="url(#bl0_6)"><ellipse cx="1028.6" cy="767.2" rx="1.8" ry="1.3" fill="rgb(56,56,56)" fill-opacity="0.9"/><ellipse cx="1015.9" cy="755.9" rx="1.1" ry="0.7" fill="rgb(50,50,50)" fill-opacity="0.9"/><ellipse cx="969.4" cy="749.4" rx="1.9" ry="1.5" fill="rgb(51,51,51)" fill-opacity="0.9"/><ellipse cx="898.7" cy="727.3" rx="1.2" ry="0.9" fill="rgb(53,53,53)" fill-opacity="0.9"/><ellipse cx="1055.9" cy="773.4" rx="1.9" ry="1.8" fill="rgb(82,82,82)" fill-opacity="0.9"/><ellipse cx="1058.1" cy="775.9" rx="1.1" ry="0.7" fill="rgb(77,77,77)" fill-opacity="0.9"/><ellipse cx="979.5" cy="749.6" rx="1.4" ry="1.1" fill="rgb(48,48,48)" fill-opacity="0.9"/><ellipse cx="979.2" cy="750.2" rx="1.7" ry="1.6" fill="rgb(68,68,68)" fill-opacity="0.9"/><ellipse cx="904.6" cy="730.3" rx="2.0" ry="1.4" fill="rgb(85,85,85)" fill-opacity="0.9"/><ellipse cx="942.6" cy="736.3" rx="1.1" ry="1.1" fill="rgb(79,79,79)" fill-opacity="0.9"/><ellipse cx="998.6" cy="759.8" rx="1.1" ry="0.7" fill="rgb(49,49,49)" fill-opacity="0.9"/><ellipse cx="1057.4" cy="774.2" rx="1.8" ry="1.6" fill="rgb(47,47,47)" fill-opacity="0.9"/><ellipse cx="903.4" cy="727.9" rx="1.5" ry="0.9" fill="rgb(55,55,55)" fill-opacity="0.9"/><ellipse cx="902.5" cy="729.2" rx="2.1" ry="1.6" fill="rgb(75,75,75)" fill-opacity="0.9"/><ellipse cx="1039.8" cy="772.9" rx="1.8" ry="1.2" fill="rgb(85,85,85)" fill-opacity="0.9"/><ellipse cx="1076.1" cy="789.0" rx="2.2" ry="1.8" fill="rgb(78,78,78)" fill-opacity="0.9"/><ellipse cx="1009.2" cy="759.0" rx="1.9" ry="1.3" fill="rgb(74,74,74)" fill-opacity="0.9"/><ellipse cx="931.4" cy="730.7" rx="2.1" ry="2.1" fill="rgb(85,85,85)" fill-opacity="0.9"/><ellipse cx="974.4" cy="750.7" rx="1.5" ry="1.2" fill="rgb(52,52,52)" fill-opacity="0.9"/><ellipse cx="939.7" cy="741.3" rx="2.0" ry="1.3" fill="rgb(65,65,65)" fill-opacity="0.9"/><ellipse cx="1064.0" cy="774.4" rx="1.4" ry="1.3" fill="rgb(72,72,72)" fill-opacity="0.9"/><ellipse cx="1089.7" cy="796.9" rx="1.3" ry="0.9" fill="rgb(80,80,80)" fill-opacity="0.9"/><ellipse cx="963.2" cy="744.3" rx="1.4" ry="1.3" fill="rgb(61,61,61)" fill-opacity="0.9"/><ellipse cx="990.3" cy="754.6" rx="1.4" ry="1.0" fill="rgb(53,53,53)" fill-opacity="0.9"/><ellipse cx="932.7" cy="738.2" rx="1.0" ry="1.0" fill="rgb(79,79,79)" fill-opacity="0.9"/><ellipse cx="971.0" cy="746.4" rx="1.1" ry="0.9" fill="rgb(71,71,71)" fill-opacity="0.9"/><ellipse cx="888.5" cy="727.8" rx="1.1" ry="0.9" fill="rgb(59,59,59)" fill-opacity="0.9"/><ellipse cx="1075.2" cy="782.2" rx="2.0" ry="1.6" fill="rgb(79,79,79)" fill-opacity="0.9"/><ellipse cx="902.6" cy="730.0" rx="1.7" ry="1.6" fill="rgb(55,55,55)" fill-opacity="0.9"/><ellipse cx="1054.6" cy="774.4" rx="1.0" ry="0.6" fill="rgb(70,70,70)" fill-opacity="0.9"/><ellipse cx="898.3" cy="724.5" rx="1.2" ry="1.2" fill="rgb(48,48,48)" fill-opacity="0.9"/><ellipse cx="1081.7" cy="790.1" rx="2.0" ry="1.4" fill="rgb(60,60,60)" fill-opacity="0.9"/><ellipse cx="1043.9" cy="774.5" rx="2.2" ry="1.4" fill="rgb(49,49,49)" fill-opacity="0.9"/><ellipse cx="1048.0" cy="772.5" rx="1.4" ry="0.8" fill="rgb(48,48,48)" fill-opacity="0.9"/><ellipse cx="999.1" cy="757.1" rx="1.2" ry="1.2" fill="rgb(50,50,50)" fill-opacity="0.9"/><ellipse cx="1038.2" cy="771.0" rx="1.9" ry="1.2" fill="rgb(67,67,67)" fill-opacity="0.9"/><ellipse cx="969.9" cy="742.8" rx="1.5" ry="1.2" fill="rgb(68,68,68)" fill-opacity="0.9"/><ellipse cx="1064.4" cy="782.4" rx="1.2" ry="1.1" fill="rgb(81,81,81)" fill-opacity="0.9"/><ellipse cx="895.9" cy="721.9" rx="2.0" ry="1.6" fill="rgb(83,83,83)" fill-opacity="0.9"/><ellipse cx="1091.5" cy="792.2" rx="2.2" ry="2.0" fill="rgb(84,84,84)" fill-opacity="0.9"/><ellipse cx="1077.3" cy="792.4" rx="1.8" ry="1.5" fill="rgb(77,77,77)" fill-opacity="0.9"/><ellipse cx="953.3" cy="743.3" rx="2.1" ry="2.1" fill="rgb(54,54,54)" fill-opacity="0.9"/><ellipse cx="941.6" cy="737.6" rx="2.1" ry="1.4" fill="rgb(61,61,61)" fill-opacity="0.9"/><ellipse cx="962.0" cy="745.9" rx="2.1" ry="1.3" fill="rgb(61,61,61)" fill-opacity="0.9"/><ellipse cx="944.8" cy="741.6" rx="1.0" ry="0.7" fill="rgb(73,73,73)" fill-opacity="0.9"/></g><g filter="url(#bl0_8)"><ellipse cx="879.5" cy="720.6" rx="2.7" ry="2.0" fill="rgb(87,87,87)" fill-opacity="0.7"/><ellipse cx="846.2" cy="699.5" rx="2.1" ry="1.9" fill="rgb(95,95,95)" fill-opacity="0.7"/><ellipse cx="891.8" cy="711.1" rx="1.6" ry="1.0" fill="rgb(92,92,92)" fill-opacity="0.7"/><ellipse cx="872.9" cy="712.1" rx="2.4" ry="1.9" fill="rgb(88,88,88)" fill-opacity="0.7"/><ellipse cx="1019.0" cy="752.3" rx="1.3" ry="0.8" fill="rgb(102,102,102)" fill-opacity="0.7"/><ellipse cx="940.8" cy="725.7" rx="1.6" ry="1.1" fill="rgb(98,98,98)" fill-opacity="0.7"/><ellipse cx="1084.0" cy="787.4" rx="1.2" ry="1.0" fill="rgb(94,94,94)" fill-opacity="0.7"/><ellipse cx="904.8" cy="727.3" rx="2.2" ry="2.1" fill="rgb(94,94,94)" fill-opacity="0.7"/><ellipse cx="929.6" cy="723.8" rx="1.5" ry="1.2" fill="rgb(104,104,104)" fill-opacity="0.7"/><ellipse cx="1009.3" cy="747.5" rx="1.5" ry="1.5" fill="rgb(95,95,95)" fill-opacity="0.7"/><ellipse cx="1031.5" cy="752.5" rx="1.6" ry="1.0" fill="rgb(90,90,90)" fill-opacity="0.7"/><ellipse cx="1033.6" cy="763.1" rx="2.9" ry="2.4" fill="rgb(90,90,90)" fill-opacity="0.7"/><ellipse cx="855.5" cy="701.5" rx="2.6" ry="2.5" fill="rgb(87,87,87)" fill-opacity="0.7"/><ellipse cx="1085.8" cy="779.1" rx="1.4" ry="0.9" fill="rgb(88,88,88)" fill-opacity="0.7"/><ellipse cx="1005.1" cy="750.9" rx="1.9" ry="1.7" fill="rgb(99,99,99)" fill-opacity="0.7"/><ellipse cx="929.2" cy="729.3" rx="2.5" ry="2.3" fill="rgb(105,105,105)" fill-opacity="0.7"/><ellipse cx="892.6" cy="713.3" rx="1.6" ry="1.6" fill="rgb(88,88,88)" fill-opacity="0.7"/><ellipse cx="1070.3" cy="780.0" rx="1.4" ry="1.0" fill="rgb(96,96,96)" fill-opacity="0.7"/><ellipse cx="999.5" cy="754.3" rx="1.8" ry="1.3" fill="rgb(103,103,103)" fill-opacity="0.7"/><ellipse cx="1055.0" cy="768.1" rx="1.9" ry="1.8" fill="rgb(88,88,88)" fill-opacity="0.7"/><ellipse cx="996.0" cy="745.5" rx="1.6" ry="1.1" fill="rgb(93,93,93)" fill-opacity="0.7"/><ellipse cx="1032.3" cy="767.9" rx="1.4" ry="1.3" fill="rgb(97,97,97)" fill-opacity="0.7"/><ellipse cx="1007.8" cy="750.6" rx="1.9" ry="1.6" fill="rgb(105,105,105)" fill-opacity="0.7"/><ellipse cx="912.4" cy="719.9" rx="2.4" ry="2.1" fill="rgb(103,103,103)" fill-opacity="0.7"/><ellipse cx="927.1" cy="725.2" rx="1.3" ry="1.1" fill="rgb(90,90,90)" fill-opacity="0.7"/><ellipse cx="1056.5" cy="760.9" rx="2.3" ry="1.4" fill="rgb(100,100,100)" fill-opacity="0.7"/><ellipse cx="1023.9" cy="742.9" rx="1.6" ry="1.6" fill="rgb(101,101,101)" fill-opacity="0.7"/><ellipse cx="878.6" cy="719.3" rx="1.5" ry="1.5" fill="rgb(95,95,95)" fill-opacity="0.7"/><ellipse cx="1070.5" cy="771.4" rx="2.8" ry="1.9" fill="rgb(103,103,103)" fill-opacity="0.7"/><ellipse cx="1025.8" cy="756.1" rx="2.3" ry="1.9" fill="rgb(92,92,92)" fill-opacity="0.7"/><ellipse cx="892.1" cy="720.3" rx="3.0" ry="2.0" fill="rgb(99,99,99)" fill-opacity="0.7"/><ellipse cx="851.8" cy="714.0" rx="1.3" ry="0.9" fill="rgb(99,99,99)" fill-opacity="0.7"/><ellipse cx="988.5" cy="738.1" rx="2.5" ry="1.6" fill="rgb(91,91,91)" fill-opacity="0.7"/><ellipse cx="849.0" cy="712.1" rx="1.2" ry="1.1" fill="rgb(96,96,96)" fill-opacity="0.7"/><ellipse cx="980.6" cy="748.1" rx="1.5" ry="1.1" fill="rgb(89,89,89)" fill-opacity="0.7"/><ellipse cx="982.4" cy="741.8" rx="2.1" ry="1.6" fill="rgb(92,92,92)" fill-opacity="0.7"/><ellipse cx="955.4" cy="734.7" rx="1.6" ry="1.5" fill="rgb(90,90,90)" fill-opacity="0.7"/><ellipse cx="1018.9" cy="761.2" rx="2.7" ry="2.6" fill="rgb(98,98,98)" fill-opacity="0.7"/><ellipse cx="1091.8" cy="784.8" rx="2.5" ry="2.3" fill="rgb(91,91,91)" fill-opacity="0.7"/><ellipse cx="925.0" cy="725.2" rx="2.2" ry="2.1" fill="rgb(90,90,90)" fill-opacity="0.7"/></g></g>
<g clip-path="url(#sd)"><path d="M775.0,739.0 L845.0,741.0 L885.0,729.0 L905.0,761.0 L885.0,791.0 L835.0,801.0 L775.0,781.0 Z" fill="rgb(112,112,112)" fill-opacity="0.75" filter="url(#bl14)"/><path d="M905.0,733.0 L965.0,746.0 L1045.0,776.0 L1105.0,811.0 L1120.0,833.0 L1075.0,843.0 L1005.0,821.0 L945.0,789.0 L915.0,761.0 Z" fill="rgb(153,153,153)" fill-opacity="0.9" filter="url(#bl13)"/><path d="M918.0,733.0 L975.0,747.0 L1035.0,769.0 L1080.0,791.0 L1065.0,801.0 L995.0,787.0 L945.0,771.0 L923.0,755.0 Z" fill="rgb(171,171,171)" fill-opacity="0.9" filter="url(#bl6)"/><path d="M921.0,733.0 L975.0,746.0 L1035.0,767.0 L1075.0,787.0 L1055.0,789.0 L995.0,775.0 L945.0,761.0 L925.0,747.0 Z" fill="rgb(181,181,181)" fill-opacity="0.7" filter="url(#bl3)"/><g filter="url(#bl0_6)"><ellipse cx="998.8" cy="759.5" rx="1.4" ry="1.1" fill="rgb(242,242,242)" fill-opacity="0.9"/><ellipse cx="955.1" cy="743.5" rx="1.8" ry="1.7" fill="rgb(229,229,229)" fill-opacity="0.9"/><ellipse cx="985.1" cy="754.1" rx="2.4" ry="1.5" fill="rgb(235,235,235)" fill-opacity="0.9"/><ellipse cx="958.5" cy="750.3" rx="1.2" ry="0.8" fill="rgb(242,242,242)" fill-opacity="0.9"/><ellipse cx="962.0" cy="752.1" rx="1.4" ry="1.4" fill="rgb(217,217,217)" fill-opacity="0.9"/><ellipse cx="1029.9" cy="775.7" rx="2.3" ry="1.4" fill="rgb(220,220,220)" fill-opacity="0.9"/><ellipse cx="952.2" cy="748.3" rx="1.7" ry="1.4" fill="rgb(238,238,238)" fill-opacity="0.9"/><ellipse cx="979.3" cy="757.1" rx="1.8" ry="1.2" fill="rgb(225,225,225)" fill-opacity="0.9"/><ellipse cx="1040.1" cy="772.3" rx="1.6" ry="1.4" fill="rgb(225,225,225)" fill-opacity="0.9"/><ellipse cx="938.6" cy="740.8" rx="1.5" ry="1.4" fill="rgb(236,236,236)" fill-opacity="0.9"/><ellipse cx="1049.1" cy="784.7" rx="2.4" ry="1.5" fill="rgb(247,247,247)" fill-opacity="0.9"/><ellipse cx="1000.5" cy="762.2" rx="1.1" ry="0.9" fill="rgb(227,227,227)" fill-opacity="0.9"/><ellipse cx="1017.4" cy="768.2" rx="1.6" ry="1.1" fill="rgb(216,216,216)" fill-opacity="0.9"/><ellipse cx="1009.3" cy="764.3" rx="1.6" ry="1.1" fill="rgb(222,222,222)" fill-opacity="0.9"/><ellipse cx="937.6" cy="741.0" rx="2.2" ry="2.1" fill="rgb(233,233,233)" fill-opacity="0.9"/><ellipse cx="1045.2" cy="777.8" rx="1.9" ry="1.8" fill="rgb(245,245,245)" fill-opacity="0.9"/><ellipse cx="939.2" cy="741.0" rx="2.2" ry="1.6" fill="rgb(227,227,227)" fill-opacity="0.9"/><ellipse cx="993.4" cy="757.7" rx="2.4" ry="2.1" fill="rgb(239,239,239)" fill-opacity="0.9"/><ellipse cx="1017.1" cy="767.6" rx="1.8" ry="1.5" fill="rgb(216,216,216)" fill-opacity="0.9"/><ellipse cx="925.4" cy="735.3" rx="1.1" ry="0.7" fill="rgb(230,230,230)" fill-opacity="0.9"/><ellipse cx="967.1" cy="752.8" rx="2.1" ry="1.7" fill="rgb(234,234,234)" fill-opacity="0.9"/><ellipse cx="1033.6" cy="774.0" rx="1.4" ry="1.1" fill="rgb(224,224,224)" fill-opacity="0.9"/><ellipse cx="1000.7" cy="761.2" rx="2.3" ry="2.2" fill="rgb(215,215,215)" fill-opacity="0.9"/><ellipse cx="962.4" cy="748.1" rx="2.0" ry="1.7" fill="rgb(246,246,246)" fill-opacity="0.9"/><ellipse cx="1015.9" cy="766.4" rx="1.2" ry="0.7" fill="rgb(242,242,242)" fill-opacity="0.9"/><ellipse cx="929.5" cy="736.5" rx="2.3" ry="1.9" fill="rgb(235,235,235)" fill-opacity="0.9"/><ellipse cx="1060.4" cy="784.3" rx="1.9" ry="1.3" fill="rgb(243,243,243)" fill-opacity="0.9"/><ellipse cx="995.2" cy="760.0" rx="2.1" ry="1.5" fill="rgb(220,220,220)" fill-opacity="0.9"/><ellipse cx="1062.3" cy="780.6" rx="2.4" ry="2.2" fill="rgb(214,214,214)" fill-opacity="0.9"/><ellipse cx="929.3" cy="740.3" rx="2.1" ry="1.4" fill="rgb(235,235,235)" fill-opacity="0.9"/><ellipse cx="938.8" cy="744.2" rx="1.7" ry="1.3" fill="rgb(244,244,244)" fill-opacity="0.9"/><ellipse cx="920.1" cy="737.6" rx="1.9" ry="1.8" fill="rgb(234,234,234)" fill-opacity="0.9"/><ellipse cx="1051.3" cy="779.3" rx="1.2" ry="1.0" fill="rgb(219,219,219)" fill-opacity="0.9"/><ellipse cx="987.7" cy="761.2" rx="1.7" ry="1.4" fill="rgb(241,241,241)" fill-opacity="0.9"/><ellipse cx="1051.5" cy="782.2" rx="2.1" ry="1.5" fill="rgb(242,242,242)" fill-opacity="0.9"/><ellipse cx="1031.9" cy="774.0" rx="2.3" ry="1.5" fill="rgb(245,245,245)" fill-opacity="0.9"/><ellipse cx="1061.9" cy="783.8" rx="1.7" ry="1.5" fill="rgb(247,247,247)" fill-opacity="0.9"/><ellipse cx="987.0" cy="755.4" rx="2.2" ry="1.5" fill="rgb(229,229,229)" fill-opacity="0.9"/><ellipse cx="999.1" cy="760.4" rx="1.8" ry="1.7" fill="rgb(247,247,247)" fill-opacity="0.9"/><ellipse cx="950.6" cy="748.0" rx="1.9" ry="1.5" fill="rgb(239,239,239)" fill-opacity="0.9"/><ellipse cx="1060.4" cy="780.0" rx="2.0" ry="1.9" fill="rgb(230,230,230)" fill-opacity="0.9"/><ellipse cx="1024.2" cy="769.4" rx="1.7" ry="1.3" fill="rgb(240,240,240)" fill-opacity="0.9"/><ellipse cx="1055.9" cy="784.4" rx="1.2" ry="1.2" fill="rgb(243,243,243)" fill-opacity="0.9"/><ellipse cx="987.7" cy="756.3" rx="2.0" ry="1.8" fill="rgb(218,218,218)" fill-opacity="0.9"/><ellipse cx="1041.7" cy="780.4" rx="2.3" ry="2.3" fill="rgb(235,235,235)" fill-opacity="0.9"/><ellipse cx="933.5" cy="738.1" rx="1.7" ry="1.5" fill="rgb(246,246,246)" fill-opacity="0.9"/><ellipse cx="942.2" cy="745.1" rx="1.6" ry="1.3" fill="rgb(239,239,239)" fill-opacity="0.9"/><ellipse cx="965.5" cy="748.8" rx="1.0" ry="0.7" fill="rgb(225,225,225)" fill-opacity="0.9"/><ellipse cx="983.5" cy="753.8" rx="2.3" ry="2.0" fill="rgb(240,240,240)" fill-opacity="0.9"/><ellipse cx="985.3" cy="758.5" rx="1.9" ry="1.8" fill="rgb(222,222,222)" fill-opacity="0.9"/><ellipse cx="1060.6" cy="781.7" rx="1.1" ry="1.0" fill="rgb(235,235,235)" fill-opacity="0.9"/><ellipse cx="956.2" cy="747.3" rx="2.0" ry="1.9" fill="rgb(247,247,247)" fill-opacity="0.9"/><ellipse cx="961.7" cy="748.1" rx="2.0" ry="1.7" fill="rgb(225,225,225)" fill-opacity="0.9"/><ellipse cx="934.0" cy="738.1" rx="1.5" ry="1.4" fill="rgb(225,225,225)" fill-opacity="0.9"/><ellipse cx="1058.0" cy="780.0" rx="1.2" ry="1.1" fill="rgb(229,229,229)" fill-opacity="0.9"/></g><g filter="url(#bl0_9)"><ellipse cx="1029.4" cy="775.2" rx="3.1" ry="2.5" fill="rgb(201,201,201)" fill-opacity="0.65"/><ellipse cx="1016.4" cy="782.2" rx="2.4" ry="2.3" fill="rgb(190,190,190)" fill-opacity="0.65"/><ellipse cx="1044.6" cy="778.9" rx="2.6" ry="1.7" fill="rgb(201,201,201)" fill-opacity="0.65"/><ellipse cx="1024.7" cy="783.1" rx="2.4" ry="1.9" fill="rgb(203,203,203)" fill-opacity="0.65"/><ellipse cx="1026.5" cy="801.6" rx="2.1" ry="1.8" fill="rgb(181,181,181)" fill-opacity="0.65"/><ellipse cx="1046.2" cy="779.1" rx="2.6" ry="2.6" fill="rgb(198,198,198)" fill-opacity="0.65"/><ellipse cx="956.8" cy="751.7" rx="3.3" ry="2.6" fill="rgb(185,185,185)" fill-opacity="0.65"/><ellipse cx="975.4" cy="763.2" rx="2.0" ry="1.8" fill="rgb(190,190,190)" fill-opacity="0.65"/><ellipse cx="1032.0" cy="793.0" rx="2.5" ry="1.5" fill="rgb(198,198,198)" fill-opacity="0.65"/><ellipse cx="959.0" cy="754.2" rx="2.4" ry="2.0" fill="rgb(192,192,192)" fill-opacity="0.65"/><ellipse cx="917.2" cy="756.2" rx="3.2" ry="2.1" fill="rgb(193,193,193)" fill-opacity="0.65"/><ellipse cx="1043.7" cy="786.3" rx="2.6" ry="1.8" fill="rgb(182,182,182)" fill-opacity="0.65"/><ellipse cx="922.6" cy="753.0" rx="3.3" ry="3.2" fill="rgb(184,184,184)" fill-opacity="0.65"/><ellipse cx="919.4" cy="752.2" rx="1.8" ry="1.7" fill="rgb(184,184,184)" fill-opacity="0.65"/><ellipse cx="983.5" cy="767.7" rx="2.6" ry="2.1" fill="rgb(197,197,197)" fill-opacity="0.65"/><ellipse cx="938.5" cy="745.2" rx="2.8" ry="1.9" fill="rgb(199,199,199)" fill-opacity="0.65"/><ellipse cx="927.1" cy="736.4" rx="2.5" ry="1.6" fill="rgb(186,186,186)" fill-opacity="0.65"/><ellipse cx="1016.2" cy="774.3" rx="2.9" ry="1.9" fill="rgb(198,198,198)" fill-opacity="0.65"/><ellipse cx="1051.3" cy="789.3" rx="3.4" ry="3.1" fill="rgb(203,203,203)" fill-opacity="0.65"/><ellipse cx="1055.0" cy="797.0" rx="1.5" ry="1.4" fill="rgb(194,194,194)" fill-opacity="0.65"/><ellipse cx="1029.0" cy="805.2" rx="3.2" ry="2.8" fill="rgb(186,186,186)" fill-opacity="0.65"/><ellipse cx="968.6" cy="767.3" rx="1.7" ry="1.2" fill="rgb(182,182,182)" fill-opacity="0.65"/><ellipse cx="961.2" cy="779.8" rx="2.9" ry="2.4" fill="rgb(182,182,182)" fill-opacity="0.65"/><ellipse cx="1012.7" cy="796.8" rx="3.4" ry="2.1" fill="rgb(195,195,195)" fill-opacity="0.65"/><ellipse cx="975.8" cy="759.2" rx="3.2" ry="3.1" fill="rgb(183,183,183)" fill-opacity="0.65"/><ellipse cx="1041.4" cy="790.4" rx="2.1" ry="1.9" fill="rgb(192,192,192)" fill-opacity="0.65"/><ellipse cx="978.7" cy="774.8" rx="2.1" ry="2.1" fill="rgb(187,187,187)" fill-opacity="0.65"/><ellipse cx="1005.2" cy="784.1" rx="3.1" ry="3.1" fill="rgb(197,197,197)" fill-opacity="0.65"/><ellipse cx="1013.2" cy="774.6" rx="2.3" ry="1.4" fill="rgb(189,189,189)" fill-opacity="0.65"/><ellipse cx="1008.9" cy="791.8" rx="3.3" ry="2.6" fill="rgb(182,182,182)" fill-opacity="0.65"/><ellipse cx="936.1" cy="772.3" rx="2.7" ry="2.4" fill="rgb(179,179,179)" fill-opacity="0.65"/><ellipse cx="1049.4" cy="795.9" rx="1.6" ry="1.4" fill="rgb(201,201,201)" fill-opacity="0.65"/><ellipse cx="939.2" cy="769.4" rx="2.8" ry="2.4" fill="rgb(202,202,202)" fill-opacity="0.65"/><ellipse cx="965.1" cy="754.3" rx="2.4" ry="2.1" fill="rgb(203,203,203)" fill-opacity="0.65"/><ellipse cx="1063.0" cy="790.1" rx="2.2" ry="1.9" fill="rgb(179,179,179)" fill-opacity="0.65"/><ellipse cx="991.7" cy="768.2" rx="2.2" ry="1.6" fill="rgb(183,183,183)" fill-opacity="0.65"/><ellipse cx="946.5" cy="777.7" rx="1.9" ry="1.2" fill="rgb(181,181,181)" fill-opacity="0.65"/><ellipse cx="939.9" cy="743.0" rx="2.8" ry="2.7" fill="rgb(200,200,200)" fill-opacity="0.65"/><ellipse cx="961.3" cy="750.3" rx="2.0" ry="1.5" fill="rgb(188,188,188)" fill-opacity="0.65"/><ellipse cx="916.3" cy="758.7" rx="2.6" ry="2.5" fill="rgb(185,185,185)" fill-opacity="0.65"/><ellipse cx="959.3" cy="749.3" rx="2.0" ry="1.3" fill="rgb(198,198,198)" fill-opacity="0.65"/><ellipse cx="1042.0" cy="791.8" rx="2.9" ry="2.8" fill="rgb(197,197,197)" fill-opacity="0.65"/><ellipse cx="1023.5" cy="796.3" rx="2.1" ry="1.3" fill="rgb(182,182,182)" fill-opacity="0.65"/><ellipse cx="1051.6" cy="797.4" rx="2.4" ry="2.0" fill="rgb(182,182,182)" fill-opacity="0.65"/><ellipse cx="975.9" cy="783.5" rx="1.7" ry="1.7" fill="rgb(186,186,186)" fill-opacity="0.65"/><ellipse cx="987.1" cy="788.0" rx="1.6" ry="1.0" fill="rgb(200,200,200)" fill-opacity="0.65"/><ellipse cx="950.1" cy="751.0" rx="1.8" ry="1.5" fill="rgb(204,204,204)" fill-opacity="0.65"/><ellipse cx="940.0" cy="763.1" rx="1.5" ry="0.9" fill="rgb(194,194,194)" fill-opacity="0.65"/><ellipse cx="915.2" cy="757.2" rx="2.1" ry="1.3" fill="rgb(198,198,198)" fill-opacity="0.65"/><ellipse cx="917.7" cy="738.2" rx="1.5" ry="1.4" fill="rgb(179,179,179)" fill-opacity="0.65"/><ellipse cx="928.4" cy="746.0" rx="2.1" ry="2.1" fill="rgb(200,200,200)" fill-opacity="0.65"/><ellipse cx="1053.3" cy="781.6" rx="1.9" ry="1.9" fill="rgb(194,194,194)" fill-opacity="0.65"/><ellipse cx="1007.1" cy="786.5" rx="3.3" ry="3.0" fill="rgb(190,190,190)" fill-opacity="0.65"/><ellipse cx="987.6" cy="760.5" rx="2.0" ry="1.7" fill="rgb(200,200,200)" fill-opacity="0.65"/><ellipse cx="1023.5" cy="780.2" rx="2.2" ry="1.7" fill="rgb(192,192,192)" fill-opacity="0.65"/><ellipse cx="949.9" cy="753.7" rx="3.0" ry="2.0" fill="rgb(195,195,195)" fill-opacity="0.65"/><ellipse cx="1009.6" cy="768.6" rx="2.4" ry="2.1" fill="rgb(195,195,195)" fill-opacity="0.65"/><ellipse cx="939.7" cy="749.1" rx="2.5" ry="2.4" fill="rgb(187,187,187)" fill-opacity="0.65"/><ellipse cx="1042.5" cy="780.8" rx="2.2" ry="1.4" fill="rgb(195,195,195)" fill-opacity="0.65"/><ellipse cx="923.1" cy="747.6" rx="1.7" ry="1.2" fill="rgb(181,181,181)" fill-opacity="0.65"/><ellipse cx="1034.1" cy="777.6" rx="2.9" ry="2.3" fill="rgb(203,203,203)" fill-opacity="0.65"/><ellipse cx="946.9" cy="748.9" rx="2.2" ry="1.5" fill="rgb(197,197,197)" fill-opacity="0.65"/><ellipse cx="962.9" cy="755.6" rx="3.3" ry="2.0" fill="rgb(183,183,183)" fill-opacity="0.65"/><ellipse cx="1050.3" cy="785.6" rx="2.5" ry="2.0" fill="rgb(197,197,197)" fill-opacity="0.65"/><ellipse cx="984.1" cy="758.4" rx="1.4" ry="1.0" fill="rgb(183,183,183)" fill-opacity="0.65"/><ellipse cx="953.2" cy="766.2" rx="2.8" ry="2.4" fill="rgb(195,195,195)" fill-opacity="0.65"/><ellipse cx="1060.4" cy="789.3" rx="2.3" ry="1.6" fill="rgb(202,202,202)" fill-opacity="0.65"/><ellipse cx="989.0" cy="764.7" rx="2.5" ry="2.3" fill="rgb(181,181,181)" fill-opacity="0.65"/><ellipse cx="1017.6" cy="802.0" rx="1.7" ry="1.4" fill="rgb(181,181,181)" fill-opacity="0.65"/><ellipse cx="1043.9" cy="807.2" rx="1.7" ry="1.5" fill="rgb(202,202,202)" fill-opacity="0.65"/></g></g>
</g></g>
<g clip-path="url(#clip3)"><path d="M779.7,585.7L778.6,584.1M801.6,585.7L800.3,583.8M823.5,585.7L822.1,583.6M845.4,585.7L844.0,583.7M867.3,585.7L865.9,584.1M889.2,585.7L887.9,584.4M911.1,585.7L909.8,584.8M757.8,607.6L756.6,605.9M779.7,607.6L778.2,605.4M801.6,607.6L799.8,604.8M823.5,607.6L821.5,604.5M845.4,607.6L843.4,604.6M867.3,607.6L865.2,605.0M889.2,607.6L887.1,605.6M911.1,607.6L909.0,606.1M933.0,607.6L930.9,606.6M954.9,607.6L952.9,606.8M976.8,607.6L974.9,607.0M998.7,607.6L997.0,607.2M735.9,629.5L734.8,628.1M757.8,629.5L756.3,627.3M779.7,629.5L777.6,626.4M801.6,629.5L799.1,625.7M823.5,629.5L820.7,625.2M845.4,629.5L842.4,625.2M867.3,629.5L864.3,626.0M889.2,629.5L886.0,626.8M911.1,629.5L907.7,627.4M933.0,629.5L929.6,628.0M954.9,629.5L951.6,628.4M976.8,629.5L973.8,628.6M998.7,629.5L996.0,628.8M1020.6,629.5L1018.2,629.1M1042.5,629.5L1040.3,629.3M1064.4,629.5L1062.5,629.5M1086.3,629.5L1084.7,629.7M735.9,651.4L734.7,649.7M757.8,651.4L755.9,648.7M779.7,651.4L777.0,647.6M801.6,651.4L798.1,646.3M823.5,651.4L819.3,645.4M845.4,651.4L841.0,645.5M867.3,651.4L862.7,646.8M889.2,651.4L884.1,648.1M911.1,651.4L905.7,648.9M933.0,651.4L927.5,649.3M954.9,651.4L949.4,649.8M976.8,651.4L971.8,650.1M998.7,651.4L994.1,650.4M1020.6,651.4L1016.6,650.7M1042.5,651.4L1038.9,651.1M1064.4,651.4L1061.3,651.4M1086.3,651.4L1083.7,651.6M1108.2,651.4L1106.0,651.8M1130.1,651.4L1128.0,651.9M1152.0,651.4L1150.1,652.0M735.9,673.3L734.7,671.5M757.8,673.3L755.8,670.2M779.7,673.3L776.6,668.8M801.6,673.3L796.9,667.2M823.5,673.3L817.2,665.3M845.4,673.3L838.4,665.1M867.3,673.3L859.7,667.6M889.2,673.3L880.2,669.7M911.1,673.3L901.4,670.3M933.0,673.3L923.3,670.4M954.9,673.3L946.1,670.7M976.8,673.3L968.5,671.2M998.7,673.3L991.0,671.7M1020.6,673.3L1014.0,672.2M1042.5,673.3L1036.8,672.7M1064.4,673.3L1059.6,673.2M1086.3,673.3L1082.2,673.6M1108.2,673.3L1104.8,673.9M1130.1,673.3L1126.9,674.1M1152.0,673.3L1149.5,674.1M1173.9,673.3L1171.8,674.0M1195.8,673.3L1194.0,674.0M735.9,695.2L735.0,693.5M757.8,695.2L755.9,691.8M779.7,695.2L776.6,690.1M801.6,695.2L796.5,688.9M823.5,695.2L813.6,685.2M845.4,695.2L832.1,682.2M867.3,695.2L851.0,688.0M889.2,695.2L870.3,691.1M911.1,695.2L891.8,690.6M933.0,695.2L915.0,689.9M954.9,695.2L938.9,690.7M976.8,695.2L962.1,691.7M998.7,695.2L985.6,692.5M1020.6,695.2L1009.3,693.4M1042.5,695.2L1032.7,694.1M1064.4,695.2L1056.3,694.8M1086.3,695.2L1079.4,695.4M1108.2,695.2L1102.6,695.9M1130.1,695.2L1125.7,696.2M1152.0,695.2L1148.4,696.3M1173.9,695.2L1171.0,696.2M1195.8,695.2L1193.4,696.0M757.8,717.1L756.5,713.6M779.7,717.1L777.2,710.9M801.6,717.1L798.3,711.7M823.5,717.1L818.9,711.6M845.4,717.1L809.9,702.5M867.3,717.1L827.9,709.1M889.2,717.1L852.9,713.5M911.1,717.1L879.7,710.4M933.0,717.1L903.5,707.5M954.9,717.1L928.2,709.2M976.8,717.1L952.6,711.3M998.7,717.1L977.5,712.7M1020.6,717.1L1001.9,713.8M1042.5,717.1L1026.5,714.9M1064.4,717.1L1051.2,716.0M1086.3,717.1L1075.4,717.1M1108.2,717.1L1099.3,718.0M1130.1,717.1L1123.2,718.5M1152.0,717.1L1146.9,718.5M1173.9,717.1L1170.1,718.3M1195.8,717.1L1192.7,718.1M735.9,739.0L737.0,737.6M757.8,739.0L759.5,736.2M779.7,739.0L775.1,731.1M801.6,739.0L795.8,732.9M823.5,739.0L822.0,730.7M845.4,739.0L882.3,725.8M867.3,739.0L922.5,733.7M889.2,739.0L962.0,747.2M911.1,739.0L985.3,749.1M933.0,739.0L1006.4,757.1M954.9,739.0L912.0,727.0M976.8,739.0L936.1,729.7M998.7,739.0L965.8,731.8M1020.6,739.0L991.9,733.3M1042.5,739.0L1019.2,734.9M1064.4,739.0L1045.1,736.4M1086.3,739.0L1070.9,738.2M1108.2,739.0L1095.8,740.0M1130.1,739.0L1120.5,740.9M1152.0,739.0L1145.2,740.9M1173.9,739.0L1168.9,740.5M1195.8,739.0L1192.2,740.1M714.0,760.9L715.7,759.8M735.9,760.9L739.1,758.7M757.8,760.9L763.8,756.4M779.7,760.9L791.7,752.9M801.6,760.9L822.4,753.1M823.5,760.9L850.0,751.3M845.4,760.9L874.0,751.4M867.3,760.9L899.0,757.5M889.2,760.9L928.3,764.6M911.1,760.9L957.0,770.9M933.0,760.9L986.6,775.3M954.9,760.9L1012.6,777.3M976.8,760.9L1043.6,779.1M998.7,760.9L1069.0,780.5M1020.6,760.9L965.5,750.9M1042.5,760.9L1002.3,753.2M1064.4,760.9L1036.6,755.1M1086.3,760.9L1066.0,757.9M1108.2,760.9L1092.3,762.1M1130.1,760.9L1117.5,763.6M1152.0,760.9L1143.4,763.2M1173.9,760.9L1168.1,762.5M1195.8,760.9L1192.0,762.0M692.1,782.8L693.5,782.0M714.0,782.8L716.3,781.4M735.9,782.8L739.6,780.3M757.8,782.8L763.3,778.3M779.7,782.8L788.7,776.6M801.6,782.8L816.7,775.5M823.5,782.8L842.3,775.2M845.4,782.8L865.6,776.6M867.3,782.8L888.7,780.3M889.2,782.8L912.8,784.4M911.1,782.8L937.9,789.0M933.0,782.8L963.7,793.0M954.9,782.8L990.1,795.0M976.8,782.8L1016.4,797.0M998.7,782.8L1043.0,799.6M1020.6,782.8L1074.0,802.6M1042.5,782.8L1095.3,805.3M1064.4,782.8L1033.4,769.2M1086.3,782.8L1053.9,774.1M1108.2,782.8L1087.8,784.9M1130.1,782.8L1114.2,786.5M1152.0,782.8L1142.2,785.0M1173.9,782.8L1168.2,784.2M1195.8,782.8L1191.9,783.8M692.1,804.7L693.7,803.8M714.0,804.7L716.4,803.2M735.9,804.7L739.3,802.3M757.8,804.7L762.3,801.1M779.7,804.7L786.2,799.9M801.6,804.7L811.0,799.3M823.5,804.7L836.4,799.2M845.4,804.7L859.8,800.3M867.3,804.7L882.7,802.8M889.2,804.7L905.7,805.3M911.1,804.7L929.1,808.1M933.0,804.7L952.9,811.0M954.9,804.7L976.8,813.3M976.8,804.7L1000.6,815.1M998.7,804.7L1027.0,817.2M1020.6,804.7L1049.1,819.4M1042.5,804.7L1074.6,822.7M1064.4,804.7L1095.7,828.1M1086.3,804.7L1117.3,834.0M1108.2,804.7L1082.4,811.6M1130.1,804.7L1117.3,807.3M1152.0,804.7L1144.6,806.3M1173.9,804.7L1169.6,805.8M1195.8,804.7L1192.9,805.5M692.1,826.6L693.6,825.7M714.0,826.6L716.1,825.2M735.9,826.6L738.7,824.6M757.8,826.6L761.6,823.8M779.7,826.6L784.6,823.1M801.6,826.6L807.7,822.8M823.5,826.6L831.2,822.9M845.4,826.6L854.5,823.7M867.3,826.6L877.6,825.3M889.2,826.6L900.5,826.8M911.1,826.6L923.8,828.9M933.0,826.6L947.1,830.5M954.9,826.6L970.2,831.9M976.8,826.6L993.0,833.2M998.7,826.6L1015.4,835.1M1020.6,826.6L1037.4,837.1M1042.5,826.6L1058.8,839.7M1064.4,826.6L1078.9,843.8M1086.3,826.6L1096.7,848.0M1108.2,826.6L1114.0,841.2M1130.1,826.6L1129.5,829.4M1152.0,826.6L1150.3,827.8M692.1,848.5L693.4,847.6M714.0,848.5L715.8,847.3M735.9,848.5L738.3,846.9M757.8,848.5L761.2,846.4M779.7,848.5L783.9,846.0M801.6,848.5L806.1,846.0M823.5,848.5L828.7,846.2M845.4,848.5L851.5,846.6M867.3,848.5L874.1,847.6M889.2,848.5L896.9,848.6M911.1,848.5L919.7,849.5M933.0,848.5L942.3,850.4M954.9,848.5L964.7,851.5M976.8,848.5L986.8,852.6M998.7,848.5L1008.7,853.9M1020.6,848.5L1030.2,855.1M1042.5,848.5L1051.1,857.0M1064.4,848.5L1071.6,859.7M1086.3,848.5L1092.0,861.6M1108.2,848.5L1112.4,858.6M1130.1,848.5L1132.4,853.4M1152.0,848.5L1152.5,850.2M714.0,870.4L715.4,869.4M735.9,870.4L738.1,869.0M757.8,870.4L760.7,868.8M779.7,870.4L783.2,868.6M801.6,870.4L805.4,868.7M823.5,870.4L827.5,868.9M845.4,870.4L849.7,869.3M867.3,870.4L872.0,869.8M889.2,870.4L894.4,870.5M911.1,870.4L916.6,871.1M933.0,870.4L939.1,871.9M954.9,870.4L961.3,872.6M976.8,870.4L983.2,873.3M998.7,870.4L1004.8,874.2M1020.6,870.4L1026.3,875.2M1042.5,870.4L1047.1,876.5M1064.4,870.4L1068.0,877.9M1086.3,870.4L1089.4,878.7M1108.2,870.4L1111.2,877.6M1130.1,870.4L1132.4,875.0M1152.0,870.4L1153.2,872.8M735.9,892.3L737.7,891.2M757.8,892.3L760.2,891.0M779.7,892.3L782.6,891.0M801.6,892.3L804.9,891.0M823.5,892.3L826.9,891.2M845.4,892.3L848.6,891.5M867.3,892.3L870.7,891.9M889.2,892.3L892.9,892.4M911.1,892.3L914.8,892.9M933.0,892.3L937.1,893.5M954.9,892.3L959.0,894.0M976.8,892.3L980.8,894.6M998.7,892.3L1002.5,895.4M1020.6,892.3L1024.1,896.2M1042.5,892.3L1045.2,897.0M1064.4,892.3L1066.6,897.8M1086.3,892.3L1088.6,898.1M1108.2,892.3L1110.4,897.5M1130.1,892.3L1132.0,896.1M1152.0,892.3L1153.2,894.6M757.8,914.2L759.6,913.3M779.7,914.2L781.7,913.3M801.6,914.2L804.1,913.3M823.5,914.2L826.0,913.4M845.4,914.2L848.1,913.7M867.3,914.2L869.9,914.0M889.2,914.2L891.7,914.3M911.1,914.2L913.9,914.7M933.0,914.2L935.8,915.1M954.9,914.2L957.7,915.6M976.8,914.2L979.5,916.1M998.7,914.2L1001.2,916.6M1020.6,914.2L1022.9,917.2M1042.5,914.2L1044.2,917.7M1064.4,914.2L1066.0,918.2M1086.3,914.2L1088.0,918.4M1108.2,914.2L1109.8,918.0M1130.1,914.2L1131.5,917.2M1152.0,914.2L1153.1,916.3M911.1,936.1L912.7,936.5M933.0,936.1L934.7,936.8M954.9,936.1L956.4,937.1M976.8,936.1L978.3,937.5M998.7,936.1L1000.1,937.9M1020.6,936.1L1021.9,938.3M1042.5,936.1L1043.7,938.7M1064.4,936.1L1065.6,939.1M1086.3,936.1L1087.6,939.1M1108.2,936.1L1109.4,938.9M1130.1,936.1L1131.2,938.4M1152.0,936.1L1152.9,937.8" fill="none" stroke="#1a2e1a" stroke-width="0.95" stroke-linecap="round" stroke-opacity="0.85"/><path d="M669.8,543.9L669.1,540.4L672.3,542.2L670.3,542.0ZM691.6,543.8L690.8,540.1L694.1,542.0L692.0,541.8ZM713.3,543.7L712.6,539.9L715.9,541.9L713.8,541.6ZM735.1,543.5L734.3,539.6L737.7,541.7L735.6,541.4ZM756.8,543.4L756.1,539.4L759.6,541.6L757.4,541.3ZM778.6,543.3L777.9,539.2L781.4,541.4L779.2,541.1ZM800.5,543.2L799.8,539.1L803.3,541.4L801.0,541.0ZM822.4,543.2L821.6,539.1L825.2,541.3L822.9,541.0ZM844.3,543.3L843.5,539.2L847.1,541.3L844.8,541.1ZM866.4,543.4L865.3,539.4L869.0,541.3L866.7,541.2ZM888.5,543.5L887.2,539.7L890.9,541.3L888.7,541.3ZM910.6,543.7L909.1,540.0L912.8,541.3L910.7,541.5ZM932.8,543.8L930.9,540.3L934.7,541.2L932.6,541.6ZM955.0,543.8L952.8,540.6L956.6,541.1L954.6,541.7ZM977.2,543.8L974.7,540.9L978.5,541.0L976.6,541.8ZM999.4,543.8L996.6,541.2L1000.4,540.9L998.6,541.9ZM1021.5,543.7L1018.6,541.4L1022.2,540.7L1020.6,541.9ZM1043.7,543.6L1040.5,541.7L1044.1,540.6L1042.5,541.9ZM1065.8,543.4L1062.5,541.9L1065.8,540.4L1064.5,541.9ZM1087.9,543.2L1084.4,542.1L1087.6,540.3L1086.4,541.9ZM1109.9,543.1L1106.4,542.2L1109.4,540.2L1108.4,541.9ZM1131.9,542.9L1128.3,542.4L1131.2,540.1L1130.3,541.9ZM1153.9,542.8L1150.3,542.5L1153.0,540.0L1152.2,541.8ZM1175.9,542.7L1172.3,542.5L1174.8,540.0L1174.1,541.8ZM1197.8,542.6L1194.2,542.6L1196.7,539.9L1196.1,541.8ZM669.8,565.8L669.0,562.2L672.2,564.0L670.2,563.8ZM691.5,565.6L690.7,561.9L694.0,563.8L692.0,563.6ZM713.2,565.5L712.4,561.6L715.8,563.6L713.7,563.4ZM734.9,565.3L734.1,561.3L737.6,563.4L735.4,563.1ZM756.6,565.1L755.8,561.0L759.4,563.2L757.2,562.9ZM778.4,564.9L777.6,560.7L781.3,563.0L778.9,562.7ZM800.2,564.9L799.4,560.5L803.1,562.9L800.7,562.5ZM822.0,564.8L821.2,560.5L825.0,562.8L822.6,562.5ZM844.0,564.9L843.1,560.6L846.9,562.8L844.5,562.6ZM866.1,565.1L864.9,560.9L868.8,562.8L866.4,562.7ZM888.2,565.3L886.8,561.3L890.7,562.9L888.4,562.9ZM910.4,565.4L908.6,561.7L912.6,562.8L910.3,563.1ZM932.6,565.5L930.4,562.0L934.4,562.8L932.3,563.3ZM954.7,565.6L952.3,562.4L956.3,562.7L954.2,563.4ZM976.9,565.6L974.2,562.7L978.2,562.6L976.2,563.5ZM999.1,565.6L996.1,563.0L1000.1,562.5L998.2,563.6ZM1021.3,565.6L1018.1,563.3L1021.9,562.5L1020.2,563.7ZM1043.4,565.5L1040.1,563.5L1043.8,562.4L1042.2,563.8ZM1065.6,565.3L1062.1,563.8L1065.6,562.2L1064.2,563.8ZM1087.7,565.2L1084.1,564.0L1087.4,562.1L1086.1,563.8ZM1109.7,565.1L1106.1,564.2L1109.1,562.1L1108.1,563.8ZM1131.8,564.9L1128.1,564.4L1130.9,562.0L1130.0,563.8ZM1153.8,564.8L1150.0,564.5L1152.8,561.9L1152.0,563.8ZM1175.7,564.7L1172.0,564.5L1174.6,561.9L1173.9,563.8ZM1197.7,564.6L1194.0,564.6L1196.5,561.9L1195.9,563.8ZM669.7,587.7L669.0,584.0L672.2,585.9L670.2,585.7ZM691.4,587.5L690.6,583.7L694.0,585.6L691.9,585.4ZM713.1,587.3L712.3,583.3L715.8,585.3L713.6,585.1ZM734.7,587.0L733.9,582.9L737.5,585.0L735.2,584.8ZM756.4,586.8L755.5,582.5L759.3,584.7L756.9,584.4ZM778.0,586.5L777.2,582.0L781.1,584.4L778.6,584.1ZM799.7,586.3L798.9,581.6L802.9,584.2L800.3,583.8ZM821.5,586.2L820.7,581.5L824.7,584.0L822.1,583.6ZM843.4,586.2L842.5,581.6L846.6,584.0L844.0,583.7ZM865.6,586.6L864.3,582.1L868.5,584.2L865.9,584.1ZM887.8,586.9L886.1,582.7L890.3,584.2L887.9,584.4ZM910.0,587.1L907.9,583.3L912.2,584.3L909.8,584.8ZM932.2,587.3L929.7,583.8L934.0,584.2L931.7,585.0ZM954.4,587.4L951.5,584.1L955.8,584.2L953.7,585.1ZM976.5,587.4L973.5,584.5L977.7,584.2L975.7,585.3ZM998.7,587.5L995.5,584.8L999.6,584.2L997.7,585.4ZM1020.9,587.5L1017.5,585.1L1021.5,584.2L1019.7,585.5ZM1043.1,587.4L1039.6,585.4L1043.4,584.1L1041.8,585.6ZM1065.3,587.3L1061.6,585.7L1065.2,584.1L1063.8,585.7ZM1087.4,587.2L1083.6,586.0L1087.0,584.0L1085.8,585.8ZM1109.5,587.0L1105.7,586.2L1108.9,583.9L1107.8,585.8ZM1131.5,586.9L1127.7,586.4L1130.7,583.9L1129.8,585.8ZM1153.6,586.8L1149.7,586.5L1152.5,583.9L1151.7,585.8ZM1175.6,586.7L1171.8,586.6L1174.4,583.8L1173.7,585.8ZM1197.6,586.6L1193.8,586.6L1196.3,583.8L1195.7,585.8ZM669.7,609.6L669.0,605.9L672.2,607.8L670.2,607.6ZM691.4,609.3L690.6,605.5L694.0,607.5L691.8,607.2ZM713.0,609.1L712.1,605.1L715.7,607.1L713.5,606.9ZM734.6,608.8L733.6,604.5L737.4,606.7L735.0,606.4ZM756.0,608.4L755.1,603.9L759.1,606.2L756.6,605.9ZM777.5,608.0L776.7,603.1L780.8,605.7L778.2,605.4ZM799.0,607.5L798.2,602.4L802.6,605.2L799.8,604.8ZM820.8,607.3L820.0,602.1L824.4,605.0L821.5,604.5ZM842.6,607.4L841.7,602.1L846.2,605.0L843.4,604.6ZM864.8,607.8L863.5,602.8L868.0,605.2L865.2,605.0ZM887.0,608.3L885.2,603.6L889.8,605.4L887.1,605.6ZM909.3,608.7L906.8,604.6L911.6,605.5L909.0,606.1ZM931.6,609.1L928.6,605.5L933.3,605.6L930.9,606.6ZM953.7,609.2L950.5,605.8L955.1,605.7L952.9,606.8ZM975.9,609.3L972.5,606.2L977.1,605.7L974.9,607.0ZM998.1,609.3L994.6,606.6L999.0,605.8L997.0,607.2ZM1020.4,609.4L1016.7,606.9L1021.0,605.9L1019.1,607.3ZM1042.6,609.4L1038.9,607.3L1042.9,605.9L1041.2,607.5ZM1064.8,609.3L1061.0,607.6L1064.8,605.9L1063.3,607.6ZM1087.0,609.2L1083.1,608.0L1086.7,605.9L1085.4,607.7ZM1109.2,609.1L1105.2,608.2L1108.5,605.8L1107.4,607.8ZM1131.3,609.0L1127.3,608.4L1130.4,605.8L1129.4,607.8ZM1153.3,608.8L1149.4,608.6L1152.2,605.8L1151.4,607.8ZM1175.4,608.7L1171.4,608.6L1174.1,605.8L1173.4,607.8ZM1197.4,608.6L1193.5,608.6L1196.1,605.7L1195.4,607.8ZM669.7,631.5L669.1,627.8L672.2,629.8L670.2,629.5ZM691.4,631.2L690.6,627.4L694.0,629.4L691.8,629.1ZM712.9,630.9L712.0,626.8L715.6,628.9L713.4,628.7ZM734.3,630.5L733.4,626.1L737.3,628.3L734.8,628.1ZM755.7,629.9L754.7,625.1L758.9,627.6L756.3,627.3ZM776.9,629.3L776.0,624.0L780.5,626.8L777.6,626.4ZM798.3,628.7L797.4,623.1L802.2,626.1L799.1,625.7ZM819.8,628.3L818.9,622.4L823.9,625.6L820.7,625.2ZM841.7,628.4L840.6,622.5L845.7,625.6L842.4,625.2ZM863.8,629.1L862.2,623.6L867.4,626.0L864.3,626.0ZM886.1,629.8L883.7,624.8L889.0,626.4L886.0,626.8ZM908.2,630.3L905.2,625.8L910.6,626.6L907.7,627.4ZM930.5,630.8L926.9,626.8L932.3,626.8L929.6,628.0ZM952.8,631.0L948.9,627.5L954.1,627.0L951.6,628.4ZM975.0,631.1L971.1,627.8L976.1,627.2L973.8,628.6ZM997.3,631.2L993.4,628.2L998.2,627.3L996.0,628.8ZM1019.6,631.3L1015.7,628.6L1020.3,627.5L1018.2,629.1ZM1041.9,631.3L1037.8,629.1L1042.2,627.6L1040.3,629.3ZM1064.1,631.4L1060.0,629.5L1064.1,627.7L1062.5,629.5ZM1086.5,631.3L1082.2,629.9L1086.1,627.7L1084.7,629.7ZM1108.7,631.2L1104.4,630.2L1108.0,627.7L1106.8,629.8ZM1131.0,631.0L1126.8,630.5L1130.0,627.7L1129.0,629.8ZM1152.9,631.0L1148.8,630.6L1151.8,627.8L1150.9,629.9ZM1175.1,630.8L1171.0,630.7L1173.8,627.7L1173.1,629.8ZM1197.2,630.7L1193.2,630.7L1195.8,627.7L1195.2,629.8ZM669.6,653.4L669.2,649.8L672.2,651.9L670.3,651.5ZM691.3,653.1L690.7,649.3L694.0,651.4L691.9,651.1ZM712.9,652.8L712.1,648.7L715.6,650.8L713.4,650.5ZM734.1,652.2L733.2,647.6L737.2,650.0L734.7,649.7ZM755.3,651.4L754.3,646.4L758.7,649.1L755.9,648.7ZM776.3,650.6L775.2,645.0L780.2,648.0L777.0,647.6ZM797.3,649.7L796.1,643.4L801.5,646.8L798.1,646.3ZM818.5,649.0L817.2,642.3L823.1,645.9L819.3,645.4ZM840.2,649.2L838.7,642.5L844.7,645.8L841.0,645.5ZM862.5,650.4L860.1,644.3L866.2,646.6L862.7,646.8ZM884.7,651.5L881.2,646.2L887.5,647.2L884.1,648.1ZM906.7,652.2L902.5,647.4L908.8,647.5L905.7,648.9ZM928.8,652.5L924.3,648.1L930.6,647.8L927.5,649.3ZM950.9,652.8L946.2,648.8L952.3,648.0L949.4,649.8ZM973.2,653.0L968.6,649.2L974.5,648.3L971.8,650.1ZM995.6,653.1L991.0,649.7L996.6,648.5L994.1,650.4ZM1018.2,653.3L1013.6,650.2L1018.9,648.9L1016.6,650.7ZM1040.6,653.4L1036.0,650.8L1041.0,649.1L1038.9,651.1ZM1063.1,653.4L1058.5,651.3L1063.2,649.3L1061.3,651.4ZM1085.6,653.4L1081.1,651.9L1085.3,649.5L1083.7,651.6ZM1108.0,653.4L1103.5,652.3L1107.3,649.6L1106.0,651.8ZM1130.1,653.3L1125.6,652.6L1129.2,649.7L1128.0,651.9ZM1152.3,653.3L1147.8,652.8L1151.2,649.7L1150.1,652.0ZM1174.7,653.0L1170.4,652.8L1173.4,649.7L1172.6,651.9ZM1196.7,652.9L1192.5,652.8L1195.4,649.7L1194.6,651.9ZM669.4,675.3L669.6,671.8L672.1,674.2L670.3,673.6ZM691.3,675.1L691.1,671.3L694.0,673.6L692.0,673.1ZM712.8,674.6L712.3,670.5L715.7,672.9L713.5,672.5ZM734.1,673.9L733.3,669.3L737.2,671.9L734.7,671.5ZM755.0,673.0L754.1,667.7L758.6,670.6L755.8,670.2ZM775.8,672.1L774.7,666.1L779.9,669.2L776.6,668.8ZM796.2,671.0L794.6,664.2L800.8,667.5L796.9,667.2ZM816.4,669.7L814.4,661.8L821.6,665.6L817.2,665.3ZM837.8,669.7L835.4,661.6L843.0,665.2L838.4,665.1ZM860.1,671.9L856.3,665.0L863.9,666.8L859.7,667.6ZM881.7,673.8L876.1,668.1L884.1,667.8L880.2,669.7ZM903.2,674.3L897.1,669.0L905.2,668.0L901.4,670.3ZM925.2,674.4L919.1,669.1L927.1,668.1L923.3,670.4ZM947.9,674.5L942.0,669.5L949.7,668.5L946.1,670.7ZM970.4,674.8L964.6,670.3L971.9,669.0L968.5,671.2ZM992.9,675.0L987.2,670.9L994.1,669.4L991.0,671.7ZM1015.9,675.2L1010.4,671.6L1016.8,669.9L1014.0,672.2ZM1038.8,675.4L1033.4,672.3L1039.3,670.4L1036.8,672.7ZM1061.6,675.6L1056.4,673.1L1061.7,670.9L1059.6,673.2ZM1084.3,675.7L1079.1,673.7L1084.0,671.2L1082.2,673.6ZM1107.0,675.7L1101.9,674.3L1106.3,671.5L1104.8,673.9ZM1129.2,675.7L1124.2,674.7L1128.2,671.6L1126.9,674.1ZM1151.8,675.4L1147.0,674.9L1150.6,671.7L1149.5,674.1ZM1174.1,675.2L1169.4,674.9L1172.8,671.7L1171.8,674.0ZM1196.2,675.1L1191.7,674.8L1194.9,671.7L1194.0,674.0ZM668.9,697.1L670.1,693.8L671.7,696.9L670.2,695.7ZM691.0,696.9L691.7,693.4L693.9,696.3L692.1,695.3ZM712.8,696.6L713.0,692.6L715.8,695.4L713.8,694.6ZM734.2,695.9L733.9,691.3L737.4,694.1L735.0,693.5ZM754.9,694.6L754.4,689.2L758.8,692.4L755.9,691.8ZM775.6,693.4L774.9,687.2L780.0,690.8L776.6,690.1ZM795.8,692.8L793.9,685.9L800.4,689.1L796.5,688.9ZM813.3,689.8L810.3,681.8L818.2,684.9L813.6,685.2ZM831.9,686.8L828.8,678.9L836.7,681.9L832.1,682.2ZM852.4,692.4L846.7,686.1L855.2,686.1L851.0,688.0ZM872.6,695.1L865.8,690.1L874.1,688.3L870.3,691.1ZM894.0,694.7L887.3,689.5L895.6,688.0L891.8,690.6ZM917.0,694.1L910.6,688.6L919.0,687.5L915.0,689.9ZM940.9,694.8L934.4,689.4L942.8,688.2L938.9,690.7ZM964.4,695.8L957.6,690.7L966.0,689.1L962.1,691.7ZM987.9,696.5L981.0,691.6L989.3,689.8L985.6,692.5ZM1011.8,697.3L1004.7,692.6L1012.9,690.4L1009.3,693.4ZM1035.2,697.6L1028.3,693.6L1035.9,691.2L1032.7,694.1ZM1058.7,697.9L1052.3,694.6L1059.0,692.0L1056.3,694.8ZM1081.9,698.1L1075.7,695.5L1081.7,692.6L1079.4,695.4ZM1105.2,698.1L1099.3,696.4L1104.5,693.2L1102.6,695.9ZM1128.3,698.0L1122.7,696.9L1127.2,693.5L1125.7,696.2ZM1150.9,697.8L1145.5,697.1L1149.6,693.6L1148.4,696.3ZM1173.4,697.5L1168.4,697.1L1172.1,693.7L1171.0,696.2ZM1195.7,697.3L1190.9,696.9L1194.4,693.6L1193.4,696.0ZM668.2,718.1L670.8,715.8L670.8,719.3L670.0,717.5ZM690.2,718.1L692.6,715.4L693.0,719.0L692.0,717.3ZM712.3,718.1L714.2,714.8L715.4,718.4L714.0,716.8ZM734.2,717.6L735.4,713.5L737.7,717.1L735.7,715.8ZM755.1,716.2L755.5,710.8L759.2,714.7L756.5,713.6ZM775.6,714.1L775.9,707.5L780.6,712.1L777.2,710.9ZM797.3,715.1L796.5,708.7L801.8,712.4L798.3,711.7ZM818.3,715.3L816.5,708.7L822.6,711.7L818.9,711.6ZM811.5,706.8L805.6,700.7L814.1,700.4L809.9,702.5ZM830.3,713.1L823.3,708.2L831.6,706.4L827.9,709.1ZM855.6,717.2L848.2,713.0L856.3,710.3L852.9,713.5ZM882.0,714.4L875.1,709.4L883.4,707.6L879.7,710.4ZM905.4,711.8L899.0,706.1L907.5,705.2L903.5,707.5ZM930.2,713.4L923.8,707.9L932.2,706.8L928.2,709.2ZM954.8,715.4L948.1,710.2L956.4,708.7L952.6,711.3ZM979.8,716.7L972.9,711.7L981.2,709.9L977.5,712.7ZM1004.3,717.8L997.3,713.0L1005.5,711.0L1001.9,713.8ZM1029.1,718.8L1021.8,714.3L1030.0,711.9L1026.5,714.9ZM1054.0,719.7L1046.6,715.6L1054.6,712.8L1051.2,716.0ZM1078.4,720.5L1070.7,717.0L1078.4,713.6L1075.4,717.1ZM1102.3,720.8L1095.1,718.4L1101.7,714.6L1099.3,718.0ZM1126.2,720.7L1119.6,719.2L1125.1,715.3L1123.2,718.5ZM1149.6,720.3L1143.7,719.4L1148.3,715.6L1146.9,718.5ZM1172.7,719.8L1167.3,719.3L1171.3,715.6L1170.1,718.3ZM1195.1,719.5L1190.0,719.0L1193.8,715.5L1192.7,718.1ZM668.1,738.9L671.6,737.7L670.2,741.1L670.1,739.0ZM690.2,738.6L693.8,737.4L692.4,740.9L692.3,738.8ZM712.3,738.3L716.1,736.8L714.7,740.6L714.6,738.4ZM734.6,737.7L738.5,735.6L737.4,740.0L737.0,737.6ZM756.8,736.7L761.1,733.9L760.3,738.9L759.5,736.2ZM773.8,735.1L772.9,727.5L779.2,731.9L775.1,731.1ZM795.4,736.9L793.0,730.0L799.8,732.8L795.8,732.9ZM819.6,733.9L821.3,726.7L825.5,732.8L822.0,730.7ZM878.2,723.6L886.7,724.2L880.5,730.1L882.3,725.8ZM919.0,730.5L927.1,733.2L919.7,737.4L922.5,733.7ZM959.3,743.4L966.7,747.7L958.6,750.3L962.0,747.2ZM982.7,745.2L989.9,749.7L981.8,752.1L985.3,749.1ZM1004.2,753.0L1011.0,758.2L1002.6,759.7L1006.4,757.1ZM914.0,731.2L907.5,725.8L915.9,724.5L912.0,727.0ZM938.3,733.8L931.5,728.7L939.9,727.0L936.1,729.7ZM968.0,735.8L961.2,730.8L969.5,729.1L965.8,731.8ZM994.2,737.3L987.3,732.4L995.6,730.5L991.9,733.3ZM1021.7,738.8L1014.6,734.1L1022.9,732.0L1019.2,734.9ZM1047.7,740.3L1040.4,735.8L1048.6,733.4L1045.1,736.4ZM1073.8,741.8L1066.2,737.9L1074.1,734.9L1070.9,738.2ZM1099.1,743.2L1091.1,740.4L1098.6,736.3L1095.8,740.0ZM1123.9,743.5L1116.2,741.7L1122.7,737.2L1120.5,740.9ZM1148.3,742.9L1141.6,741.8L1146.8,737.5L1145.2,740.9ZM1171.7,742.2L1165.7,741.4L1170.3,737.5L1168.9,740.5ZM1194.7,741.6L1189.3,741.0L1193.4,737.4L1192.2,740.1ZM668.5,760.1L672.4,759.5L670.3,762.8L670.6,760.7ZM690.8,759.7L694.9,759.1L692.6,762.6L693.0,760.3ZM713.3,759.1L717.8,758.5L715.3,762.3L715.7,759.8ZM736.2,758.0L741.5,757.0L738.7,761.6L739.1,758.7ZM760.0,755.7L766.8,754.1L763.5,760.2L763.8,756.4ZM787.3,751.7L795.6,750.3L791.1,757.5L791.7,752.9ZM818.3,750.9L826.8,751.4L820.7,757.4L822.4,753.1ZM845.9,749.1L854.4,749.7L848.3,755.6L850.0,751.3ZM869.9,749.1L878.4,749.9L872.1,755.7L874.0,751.4ZM895.6,754.4L903.7,757.0L896.3,761.3L899.0,757.5ZM925.5,760.9L932.9,765.1L924.9,767.8L928.3,764.6ZM954.8,766.8L961.6,771.9L953.3,773.6L957.0,770.9ZM984.5,771.1L991.1,776.5L982.7,777.8L986.6,775.3ZM1010.6,773.2L1017.1,778.6L1008.7,779.8L1012.6,777.3ZM1041.6,775.0L1048.2,780.3L1039.8,781.6L1043.6,779.1ZM1067.0,776.3L1073.5,781.7L1065.1,783.0L1069.0,780.5ZM967.9,754.8L960.9,750.1L969.1,748.0L965.5,750.9ZM1004.7,757.2L997.7,752.3L1006.0,750.4L1002.3,753.2ZM1038.9,759.1L1032.0,754.2L1040.3,752.4L1036.6,755.1ZM1068.5,761.7L1061.3,757.2L1069.5,754.9L1066.0,757.9ZM1095.7,765.3L1087.7,762.4L1095.1,758.4L1092.3,762.1ZM1121.3,766.3L1112.9,764.6L1119.8,759.6L1117.5,763.6ZM1146.8,765.4L1139.3,764.2L1145.3,759.5L1143.4,763.2ZM1171.0,764.4L1164.8,763.4L1169.6,759.4L1168.1,762.5ZM1194.5,763.6L1189.1,762.8L1193.3,759.3L1192.0,762.0ZM668.8,781.7L672.9,781.2L670.5,784.5L671.0,782.4ZM691.2,781.3L695.6,780.8L693.0,784.3L693.5,782.0ZM713.8,780.6L718.6,780.0L715.8,784.0L716.3,781.4ZM736.6,779.5L742.2,778.6L739.2,783.4L739.6,780.3ZM759.7,777.7L766.3,775.9L763.2,782.0L763.3,778.3ZM784.3,775.5L792.6,773.9L788.2,781.2L788.7,776.6ZM812.4,773.8L820.9,773.5L815.4,780.0L816.7,775.5ZM838.2,773.2L846.7,773.5L840.7,779.6L842.3,775.2ZM861.6,774.2L870.1,775.2L863.7,780.8L865.6,776.6ZM885.2,777.2L893.3,779.8L886.0,784.1L888.7,780.3ZM910.0,780.7L917.5,784.7L909.5,787.6L912.8,784.4ZM935.6,785.0L942.4,790.1L934.1,791.7L937.9,789.0ZM961.9,788.7L968.1,794.5L959.7,795.3L963.7,793.0ZM988.3,790.7L994.5,796.5L986.1,797.2L990.1,795.0ZM1014.7,792.7L1020.8,798.6L1012.3,799.2L1016.4,797.0ZM1041.3,795.3L1047.3,801.2L1038.8,801.7L1043.0,799.6ZM1072.4,798.3L1078.4,804.2L1069.9,804.8L1074.0,802.6ZM1093.8,800.9L1099.6,807.1L1091.1,807.3L1095.3,805.3ZM1034.8,773.6L1029.1,767.3L1037.6,767.3L1033.4,769.2ZM1056.0,778.3L1049.4,772.9L1057.8,771.6L1053.9,774.1ZM1091.2,788.1L1083.1,785.4L1090.5,781.2L1087.8,784.9ZM1118.0,789.2L1109.7,787.6L1116.4,782.4L1114.2,786.5ZM1145.8,787.6L1137.9,786.0L1144.3,781.2L1142.2,785.0ZM1171.0,786.1L1164.8,785.0L1169.8,781.2L1168.2,784.2ZM1194.4,785.4L1189.0,784.5L1193.3,781.1L1191.9,783.8ZM669.0,803.4L673.2,803.0L670.7,806.4L671.2,804.1ZM691.3,803.0L695.8,802.5L693.2,806.2L693.7,803.8ZM713.8,802.5L718.7,801.8L715.9,805.9L716.4,803.2ZM736.4,801.6L741.8,800.6L738.9,805.3L739.3,802.3ZM759.0,800.5L765.0,799.0L762.1,804.5L762.3,801.1ZM782.3,799.1L789.4,797.5L785.8,803.8L786.2,799.9ZM806.7,797.8L815.0,797.0L810.1,803.8L811.0,799.3ZM832.2,797.2L840.7,797.4L834.9,803.6L836.4,799.2ZM855.9,797.9L864.3,798.9L857.9,804.5L859.8,800.3ZM879.2,799.7L887.3,802.2L880.0,806.6L882.7,802.8ZM902.8,801.7L910.4,805.5L902.5,808.7L905.7,805.3ZM926.7,804.2L933.7,809.0L925.4,811.0L929.1,808.1ZM951.0,806.7L957.4,812.4L948.9,813.3L952.9,811.0ZM975.2,809.0L981.1,815.0L972.6,815.4L976.8,813.3ZM999.2,810.7L1004.9,817.0L996.4,817.1L1000.6,815.1ZM1025.6,812.8L1031.3,819.1L1022.8,819.1L1027.0,817.2ZM1048.0,814.9L1053.3,821.5L1044.8,821.1L1049.1,819.4ZM1073.6,818.2L1078.6,825.0L1070.2,824.2L1074.6,822.7ZM1095.3,823.4L1099.5,830.9L1091.2,829.0L1095.7,828.1ZM1117.4,829.4L1120.7,837.2L1112.7,834.4L1117.3,834.0ZM1086.3,814.1L1077.9,812.8L1084.5,807.4L1082.4,811.6ZM1121.0,810.1L1112.7,808.3L1119.6,803.3L1117.3,807.3ZM1147.7,808.5L1140.8,807.1L1146.5,803.0L1144.6,806.3ZM1172.1,807.5L1166.5,806.5L1171.0,803.0L1169.6,805.8ZM1195.1,807.0L1190.2,806.1L1194.1,803.0L1192.9,805.5ZM669.0,825.3L673.2,824.8L670.8,828.3L671.2,826.0ZM691.3,825.0L695.7,824.3L693.2,828.1L693.6,825.7ZM713.6,824.5L718.4,823.7L715.8,827.8L716.1,825.2ZM736.0,824.0L741.1,823.0L738.4,827.4L738.7,824.6ZM758.5,823.2L764.1,822.0L761.3,827.0L761.6,823.8ZM781.2,822.4L787.4,821.1L784.2,826.6L784.6,823.1ZM804.1,821.8L810.9,820.8L807.1,826.5L807.7,822.8ZM827.5,821.3L834.9,821.1L830.1,826.8L831.2,822.9ZM850.8,821.5L858.6,822.4L852.8,827.6L854.5,823.7ZM874.2,822.3L882.1,824.7L875.1,829.0L877.6,825.3ZM897.4,823.3L905.1,826.9L897.3,830.2L900.5,826.8ZM921.4,824.9L928.4,829.7L920.2,831.7L923.8,828.9ZM945.1,826.4L951.6,831.8L943.2,833.0L947.1,830.5ZM968.4,827.6L974.6,833.4L966.1,834.1L970.2,831.9ZM991.5,828.9L997.3,835.0L988.8,835.3L993.0,833.2ZM1014.2,830.6L1019.6,837.2L1011.1,836.8L1015.4,835.1ZM1036.6,832.5L1041.3,839.5L1032.9,838.4L1037.4,837.1ZM1058.6,835.1L1062.5,842.6L1054.3,840.5L1058.8,839.7ZM1079.6,839.2L1081.9,847.3L1074.3,843.6L1078.9,843.8ZM1098.5,843.7L1098.8,852.2L1092.3,846.7L1096.7,848.0ZM1116.0,837.1L1115.7,845.6L1109.6,839.6L1114.0,841.2ZM1131.9,828.0L1129.0,832.0L1127.9,827.2L1129.5,829.4ZM1152.7,828.4L1148.2,829.3L1150.5,825.3L1150.3,827.8ZM1174.8,828.2L1170.4,828.5L1173.1,825.0L1172.5,827.3ZM1197.1,827.8L1193.1,828.0L1195.6,824.8L1195.1,827.0ZM668.9,847.3L673.1,846.7L670.7,850.2L671.1,847.9ZM691.1,847.0L695.5,846.3L693.1,850.0L693.4,847.6ZM713.3,846.7L717.9,845.8L715.5,849.8L715.8,847.3ZM735.6,846.2L740.5,845.3L737.9,849.6L738.3,846.9ZM758.4,845.6L763.8,844.9L760.7,849.3L761.2,846.4ZM780.9,845.1L786.7,844.4L783.3,849.2L783.9,846.0ZM803.0,844.9L808.9,844.4L805.4,849.1L806.1,846.0ZM825.6,844.8L831.8,844.8L827.7,849.4L828.7,846.2ZM848.4,844.8L854.9,845.5L850.0,849.8L851.5,846.6ZM871.4,845.2L877.8,847.2L872.1,850.6L874.1,847.6ZM894.4,845.7L900.8,848.6L894.3,851.4L896.9,848.6ZM917.3,846.2L923.8,850.0L916.6,852.2L919.7,849.5ZM940.1,846.7L946.5,851.3L938.8,853.0L942.3,850.4ZM962.9,847.4L969.0,852.8L960.9,853.8L964.7,851.5ZM985.3,848.3L991.1,854.4L982.7,854.6L986.8,852.6ZM1007.6,849.4L1012.9,856.1L1004.4,855.5L1008.7,853.9ZM1029.6,850.5L1034.0,857.7L1025.6,856.2L1030.2,855.1ZM1051.4,852.3L1054.5,860.2L1046.5,857.3L1051.1,857.0ZM1072.8,855.2L1074.1,863.6L1067.0,858.9L1071.6,859.7ZM1093.9,857.4L1093.8,865.9L1087.6,860.1L1092.0,861.6ZM1114.4,854.5L1114.2,863.0L1108.0,857.1L1112.4,858.6ZM1133.7,850.3L1133.8,856.4L1129.2,852.4L1132.4,853.4ZM1153.8,848.1L1153.2,852.6L1150.3,849.1L1152.5,850.2ZM1175.5,847.5L1173.8,851.0L1172.4,847.4L1173.9,848.9ZM1197.7,847.6L1195.2,850.2L1194.9,846.6L1195.9,848.3ZM668.8,869.3L672.9,868.7L670.6,872.1L671.0,869.9ZM690.9,869.1L695.1,868.4L692.9,872.0L693.2,869.7ZM713.0,868.9L717.4,868.0L715.1,871.8L715.4,869.4ZM735.6,868.3L740.4,867.7L737.7,871.6L738.1,869.0ZM758.0,867.9L763.2,867.4L760.1,871.5L760.7,868.8ZM780.4,867.6L785.8,867.3L782.4,871.5L783.2,868.6ZM802.6,867.5L808.1,867.4L804.5,871.5L805.4,868.7ZM824.8,867.5L830.4,867.8L826.4,871.7L827.5,868.9ZM847.2,867.6L852.7,868.5L848.3,872.0L849.7,869.3ZM869.6,867.7L875.1,869.4L870.2,872.4L872.0,869.8ZM892.3,868.0L897.7,870.5L892.2,872.9L894.4,870.5ZM914.8,868.4L920.0,871.6L914.1,873.3L916.6,871.1ZM937.4,868.8L942.5,872.7L936.2,873.9L939.1,871.9ZM959.9,869.2L964.8,873.8L958.2,874.4L961.3,872.6ZM982.1,869.8L986.5,874.9L979.8,874.8L983.2,873.3ZM1004.1,870.5L1007.9,876.2L1001.2,875.2L1004.8,874.2ZM1026.2,871.4L1029.2,877.7L1022.5,875.7L1026.3,875.2ZM1047.9,872.7L1049.5,879.6L1043.3,876.2L1047.1,876.5ZM1069.6,874.2L1069.8,881.6L1064.2,876.8L1068.0,877.9ZM1091.3,875.1L1090.8,882.6L1085.5,877.2L1089.4,878.7ZM1112.9,874.1L1112.7,881.2L1107.6,876.3L1111.2,877.6ZM1133.6,872.0L1133.8,878.0L1129.3,874.2L1132.4,875.0ZM1154.2,870.3L1154.3,875.2L1150.6,872.0L1153.2,872.8ZM1175.3,869.3L1175.1,873.5L1172.1,870.5L1174.3,871.3ZM1197.0,868.8L1196.2,872.5L1194.0,869.5L1195.8,870.5ZM668.7,891.3L672.7,890.7L670.5,894.1L670.8,891.9ZM690.7,891.2L694.8,890.4L692.6,894.0L692.9,891.7ZM712.8,891.0L717.1,890.2L714.8,893.9L715.1,891.5ZM735.3,890.4L739.9,889.9L737.2,893.7L737.7,891.2ZM757.7,890.1L762.6,889.8L759.5,893.6L760.2,891.0ZM780.0,889.9L785.1,889.8L781.8,893.6L782.6,891.0ZM802.3,889.7L807.6,889.9L803.9,893.7L804.9,891.0ZM824.4,889.7L829.7,890.3L825.8,893.8L826.9,891.2ZM846.3,889.9L851.4,890.9L847.3,894.0L848.6,891.5ZM868.6,890.0L873.5,891.6L869.0,894.2L870.7,891.9ZM891.0,890.2L895.8,892.4L890.9,894.5L892.9,892.4ZM913.2,890.4L917.6,893.3L912.5,894.7L914.8,892.9ZM935.8,890.7L940.1,894.3L934.6,895.1L937.1,893.5ZM958.0,891.1L961.9,895.2L956.2,895.4L959.0,894.0ZM980.2,891.6L983.5,896.2L977.8,895.6L980.8,894.6ZM1002.4,892.2L1005.1,897.3L999.4,895.9L1002.5,895.4ZM1024.4,892.9L1026.3,898.6L1020.8,896.2L1024.1,896.2ZM1046.3,893.9L1046.9,899.9L1042.0,896.3L1045.2,897.0ZM1068.1,894.7L1067.9,901.0L1063.4,896.6L1066.6,897.8ZM1090.1,895.0L1089.8,901.4L1085.3,896.9L1088.6,898.1ZM1111.8,894.4L1111.8,900.6L1107.2,896.4L1110.4,897.5ZM1133.1,893.3L1133.3,898.8L1129.0,895.3L1132.0,896.1ZM1154.2,892.2L1154.5,897.0L1150.7,894.0L1153.2,894.6ZM1175.4,891.3L1175.6,895.6L1172.2,892.9L1174.5,893.5ZM1196.9,890.8L1196.8,894.7L1194.0,892.0L1196.0,892.7ZM668.5,913.4L672.4,912.7L670.3,916.0L670.6,913.9ZM690.6,913.3L694.5,912.5L692.4,916.0L692.7,913.8ZM712.6,913.1L716.7,912.3L714.5,915.9L714.8,913.6ZM735.0,912.7L739.4,912.2L736.8,915.8L737.3,913.4ZM757.2,912.4L761.8,912.1L758.9,915.7L759.6,913.3ZM779.3,912.3L784.0,912.2L781.0,915.7L781.7,913.3ZM801.7,912.0L806.6,912.3L803.1,915.7L804.1,913.3ZM823.7,912.1L828.5,912.7L824.9,915.8L826.0,913.4ZM845.9,912.1L850.7,913.1L846.7,916.0L848.1,913.7ZM868.0,912.2L872.6,913.7L868.3,916.1L869.9,914.0ZM890.1,912.3L894.4,914.4L889.9,916.2L891.7,914.3ZM912.5,912.4L916.6,915.2L911.8,916.4L913.9,914.7ZM934.7,912.6L938.4,916.0L933.4,916.5L935.8,915.1ZM957.0,912.9L960.2,916.8L955.1,916.6L957.7,915.6ZM979.2,913.3L981.9,917.7L976.8,916.7L979.5,916.1ZM1001.3,913.8L1003.3,918.6L998.4,916.8L1001.2,916.6ZM1023.5,914.3L1024.7,919.5L1020.0,917.0L1022.9,917.2ZM1045.3,915.0L1045.5,920.4L1041.4,916.9L1044.2,917.7ZM1067.4,915.5L1067.2,921.1L1063.2,917.2L1066.0,918.2ZM1089.3,915.6L1089.1,921.2L1085.1,917.3L1088.0,918.4ZM1111.1,915.2L1111.1,920.8L1107.0,917.0L1109.8,918.0ZM1132.6,914.6L1132.8,919.7L1128.8,916.4L1131.5,917.2ZM1154.0,913.8L1154.3,918.6L1150.6,915.6L1153.1,916.3ZM1175.3,913.2L1175.7,917.5L1172.3,914.9L1174.5,915.4ZM1196.8,912.7L1197.1,916.7L1194.0,914.2L1196.1,914.7ZM668.4,935.4L672.2,934.7L670.2,938.0L670.4,935.9ZM690.4,935.4L694.2,934.6L692.2,938.0L692.5,935.8ZM712.4,935.3L716.3,934.5L714.3,937.9L714.5,935.8ZM734.3,935.2L738.3,934.4L736.2,937.9L736.5,935.7ZM756.4,935.1L760.4,934.4L758.2,937.8L758.5,935.6ZM778.7,934.6L783.0,934.5L780.3,937.8L780.9,935.5ZM800.8,934.5L805.1,934.6L802.2,937.8L802.9,935.5ZM822.8,934.5L827.1,934.9L823.9,937.8L824.8,935.7ZM844.9,934.4L849.2,935.3L845.7,937.9L846.8,935.8ZM867.0,934.4L871.1,935.8L867.3,937.9L868.7,936.0ZM889.3,934.3L893.2,936.4L889.0,937.9L890.8,936.2ZM911.5,934.4L915.0,937.0L910.7,937.8L912.7,936.5ZM933.8,934.5L937.0,937.7L932.5,937.9L934.7,936.8ZM956.0,934.6L958.5,938.4L954.0,937.7L956.4,937.1ZM978.3,935.0L980.2,939.1L975.8,937.7L978.3,937.5ZM1000.5,935.3L1001.7,939.9L997.5,937.7L1000.1,937.9ZM1022.7,935.8L1023.2,940.6L1019.3,937.8L1021.9,938.3ZM1044.8,936.3L1044.8,941.2L1041.1,937.9L1043.7,938.7ZM1066.8,936.5L1066.7,941.6L1063.0,938.1L1065.6,939.1ZM1088.8,936.6L1088.6,941.7L1084.9,938.2L1087.6,939.1ZM1110.6,936.4L1110.5,941.4L1106.8,938.0L1109.4,938.9ZM1132.2,936.0L1132.3,940.8L1128.7,937.7L1131.2,938.4ZM1153.7,935.5L1154.0,940.0L1150.5,937.2L1152.9,937.8ZM1175.3,935.0L1175.6,939.2L1172.2,936.6L1174.5,937.2ZM1196.8,934.6L1197.1,938.6L1194.0,936.2L1196.1,936.6Z" fill="#142414" fill-opacity="0.9" stroke="#142414" stroke-width="0.7" stroke-linejoin="round" stroke-opacity="0.9"/></g>
<text x="0" y="0" font-size="38" fill="#080808" stroke="#080808" stroke-width="0.35" style="font-family:'Liberation Serif',serif" transform="matrix(1.0113 0.0000 0.0000 0.9985 74.1358 85.1117)">a)</text>
<text x="0" y="0" font-size="38" fill="#080808" stroke="#080808" stroke-width="0.35" style="font-family:'Liberation Serif',serif" transform="matrix(1.0267 0.0000 0.0000 0.9652 667.0000 84.8783)">b)</text>
<text x="0" y="0" font-size="38" fill="#080808" stroke="#080808" stroke-width="0.35" style="font-family:'Liberation Serif',serif" transform="matrix(1.0514 0.0000 0.0000 1.0277 79.2229 564.1781)">c)</text>
<text x="0" y="0" font-size="38" fill="#080808" stroke="#080808" stroke-width="0.35" style="font-family:'Liberation Serif',serif" transform="matrix(1.0316 0.0000 0.0000 1.0290 672.8526 568.2681)">d)</text>
<text x="0" y="0" font-size="33" fill="#15301c" stroke="#15301c" stroke-width="0.35" style="font-family:'Liberation Serif',serif" transform="matrix(0.9662 0.0000 0.0000 1.0227 279.6338 117.2886)">E −W</text>
<text x="0" y="0" font-size="33" fill="#15301c" stroke="#15301c" stroke-width="0.35" style="font-family:'Liberation Serif',serif" transform="matrix(1.0030 0.0000 0.0000 1.0273 878.4970 118.7432)">N −S</text>
<text x="0" y="0" font-size="33" fill="#0a0f0a" stroke="#0a0f0a" stroke-width="0.35" style="font-family:'Liberation Serif',serif" transform="matrix(1.0329 0.0000 0.0000 1.0280 264.8418 602.9860)">Vertical</text>
<text x="0" y="0" font-size="33" fill="#0a0f0a" stroke="#0a0f0a" stroke-width="0.35" style="font-family:'Liberation Serif',serif" transform="matrix(1.0280 0.0000 0.0000 1.0495 861.4430 602.9753)">Vertical</text>
<text x="0" y="0" font-size="21" fill="#0e160e" stroke="#0e160e" stroke-width="0.35" style="font-family:'Liberation Serif',serif" transform="matrix(1.0889 0.0000 0.0000 0.9614 80.0833 413.3596)">0</text>
<text x="0" y="0" font-size="21" fill="#0e160e" stroke="#0e160e" stroke-width="0.35" style="font-family:'Liberation Serif',serif" transform="matrix(1.1647 0.0000 0.0000 0.9786 170.9441 413.6000)">5</text>
<text x="0" y="0" font-size="21" fill="#0e160e" stroke="#0e160e" stroke-width="0.35" style="font-family:'Liberation Serif',serif" transform="matrix(1.1189 0.0000 0.0000 0.9614 256.7419 413.3596)">10</text>
<text x="0" y="0" font-size="22" fill="#0e160e" stroke="#0e160e" stroke-width="0.35" style="font-family:'Liberation Serif',serif" transform="matrix(1.0556 0.0000 0.0000 0.9333 124.9083 461.6667)">Kilometers</text>
<text x="0" y="0" font-size="21" fill="#0e160e" stroke="#0e160e" stroke-width="0.35" style="font-family:'Liberation Serif',serif" transform="matrix(1.0889 0.0000 0.0000 0.9614 666.8833 413.3596)">0</text>
<text x="0" y="0" font-size="21" fill="#0e160e" stroke="#0e160e" stroke-width="0.35" style="font-family:'Liberation Serif',serif" transform="matrix(1.1647 0.0000 0.0000 0.9786 757.7441 413.6000)">5</text>
<text x="0" y="0" font-size="21" fill="#0e160e" stroke="#0e160e" stroke-width="0.35" style="font-family:'Liberation Serif',serif" transform="matrix(1.1189 0.0000 0.0000 0.9614 843.5419 413.3596)">10</text>
<text x="0" y="0" font-size="22" fill="#0e160e" stroke="#0e160e" stroke-width="0.35" style="font-family:'Liberation Serif',serif" transform="matrix(1.0556 0.0000 0.0000 0.9333 711.7083 461.6667)">Kilometers</text>
<text x="0" y="0" font-size="21" fill="#0e160e" stroke="#0e160e" stroke-width="0.35" style="font-family:'Liberation Serif',serif" transform="matrix(1.0889 0.0000 0.0000 0.9614 79.4833 890.5596)">0</text>
<text x="0" y="0" font-size="21" fill="#0e160e" stroke="#0e160e" stroke-width="0.35" style="font-family:'Liberation Serif',serif" transform="matrix(1.1647 0.0000 0.0000 0.9786 170.3441 890.8000)">5</text>
<text x="0" y="0" font-size="21" fill="#0e160e" stroke="#0e160e" stroke-width="0.35" style="font-family:'Liberation Serif',serif" transform="matrix(1.1189 0.0000 0.0000 0.9614 256.1419 890.5596)">10</text>
<text x="0" y="0" font-size="22" fill="#0e160e" stroke="#0e160e" stroke-width="0.35" style="font-family:'Liberation Serif',serif" transform="matrix(1.0556 0.0000 0.0000 0.9333 124.3083 938.8667)">Kilometers</text>
<text x="0" y="0" font-size="21" fill="#0e160e" stroke="#0e160e" stroke-width="0.35" style="font-family:'Liberation Serif',serif" transform="matrix(1.0889 0.0000 0.0000 0.9614 666.8833 890.1596)">0</text>
<text x="0" y="0" font-size="21" fill="#0e160e" stroke="#0e160e" stroke-width="0.35" style="font-family:'Liberation Serif',serif" transform="matrix(1.1647 0.0000 0.0000 0.9786 757.7441 890.4000)">5</text>
<text x="0" y="0" font-size="21" fill="#0e160e" stroke="#0e160e" stroke-width="0.35" style="font-family:'Liberation Serif',serif" transform="matrix(1.1189 0.0000 0.0000 0.9614 843.5419 890.1596)">10</text>
<text x="0" y="0" font-size="22" fill="#0e160e" stroke="#0e160e" stroke-width="0.35" style="font-family:'Liberation Serif',serif" transform="matrix(1.0556 0.0000 0.0000 0.9333 711.7083 938.4667)">Kilometers</text>
<text x="0" y="0" font-size="21" fill="#0e160e" stroke="#0e160e" stroke-width="0.35" style="font-family:'Liberation Serif',serif" transform="matrix(1.1210 0.0000 0.0000 1.0571 497.5790 476.8000)">−2</text>
<text x="0" y="0" font-size="21" fill="#0e160e" stroke="#0e160e" stroke-width="0.35" style="font-family:'Liberation Serif',serif" transform="matrix(1.1111 0.0000 0.0000 0.9965 537.3667 476.4509)">0</text>
<text x="0" y="0" font-size="21" fill="#0e160e" stroke="#0e160e" stroke-width="0.35" style="font-family:'Liberation Serif',serif" transform="matrix(1.1636 0.0000 0.0000 1.0143 569.7364 476.7000)">2</text>
<text x="0" y="0" font-size="21" fill="#0e160e" stroke="#0e160e" stroke-width="0.35" style="font-family:'Liberation Serif',serif" transform="matrix(1.0710 0.0000 0.0000 1.0100 584.4645 476.7000)">m</text>
<text x="0" y="0" font-size="21" fill="#0e160e" stroke="#0e160e" stroke-width="0.35" style="font-family:'Liberation Serif',serif" transform="matrix(0.9419 0.0000 0.0000 1.0143 1097.0935 473.5000)">-1</text>
<text x="0" y="0" font-size="21" fill="#0e160e" stroke="#0e160e" stroke-width="0.35" style="font-family:'Liberation Serif',serif" transform="matrix(1.1111 0.0000 0.0000 0.9965 1128.5667 473.2509)">0</text>
<text x="0" y="0" font-size="21" fill="#0e160e" stroke="#0e160e" stroke-width="0.35" style="font-family:'Liberation Serif',serif" transform="matrix(0.8000 0.0000 0.0000 1.0143 1159.1000 473.5000)">1</text>
<text x="0" y="0" font-size="21" fill="#0e160e" stroke="#0e160e" stroke-width="0.35" style="font-family:'Liberation Serif',serif" transform="matrix(1.0000 0.0000 0.0000 1.0100 1171.0000 473.5000)">m</text>
<text x="0" y="0" font-size="21" fill="#0e160e" stroke="#0e160e" stroke-width="0.35" style="font-family:'Liberation Serif',serif" transform="matrix(0.9484 0.0000 0.0000 1.0143 519.3887 949.0000)">-1</text>
<text x="0" y="0" font-size="21" fill="#0e160e" stroke="#0e160e" stroke-width="0.35" style="font-family:'Liberation Serif',serif" transform="matrix(1.0111 0.0000 0.0000 0.9965 550.9417 948.7509)">0</text>
<text x="0" y="0" font-size="21" fill="#0e160e" stroke="#0e160e" stroke-width="0.35" style="font-family:'Liberation Serif',serif" transform="matrix(0.7867 0.0000 0.0000 1.0143 581.1233 949.0000)">1</text>
<text x="0" y="0" font-size="21" fill="#0e160e" stroke="#0e160e" stroke-width="0.35" style="font-family:'Liberation Serif',serif" transform="matrix(1.0323 0.0000 0.0000 1.0100 592.7839 949.0000)">m</text>
<text x="0" y="0" font-size="21" fill="#0e160e" stroke="#0e160e" stroke-width="0.35" style="font-family:'Liberation Serif',serif" transform="matrix(0.9419 0.0000 0.0000 0.9786 1103.0935 947.6000)">-1</text>
<text x="0" y="0" font-size="21" fill="#0e160e" stroke="#0e160e" stroke-width="0.35" style="font-family:'Liberation Serif',serif" transform="matrix(1.0667 0.0000 0.0000 0.9614 1134.1000 947.3596)">0</text>
<text x="0" y="0" font-size="21" fill="#0e160e" stroke="#0e160e" stroke-width="0.35" style="font-family:'Liberation Serif',serif" transform="matrix(0.8000 0.0000 0.0000 0.9786 1164.6000 947.6000)">1</text>
<text x="0" y="0" font-size="21" fill="#0e160e" stroke="#0e160e" stroke-width="0.35" style="font-family:'Liberation Serif',serif" transform="matrix(1.0065 0.0000 0.0000 1.0100 1176.8968 947.6000)">m</text>
<text x="0" y="0" font-size="21" fill="#0e160e" stroke="#0e160e" stroke-width="0.35" style="font-family:'Liberation Serif',serif" transform="matrix(0.7733 0.0000 0.0000 1.0286 1049.1467 946.3000)">1</text>
<text x="0" y="0" font-size="21" fill="#0e160e" stroke="#0e160e" stroke-width="0.35" style="font-family:'Liberation Serif',serif" transform="matrix(1.0194 0.0000 0.0000 1.0100 1067.2903 946.3000)">m</text>
<text x="0" y="0" font-size="19" fill="#0a1a0a" stroke="#0a1a0a" stroke-width="0.35" style="font-family:'Liberation Serif',serif" transform="matrix(1.0824 0.0000 0.0000 1.0080 566.0588 82.7000)">N</text>
<text x="0" y="0" font-size="19" fill="#0a1a0a" stroke="#0a1a0a" stroke-width="0.35" style="font-family:'Liberation Serif',serif" transform="matrix(1.1608 0.0000 0.0000 1.1040 1150.5196 83.8000)">N</text>
<text x="0" y="0" font-size="19" fill="#0a1a0a" stroke="#0a1a0a" stroke-width="0.35" style="font-family:'Liberation Serif',serif" transform="matrix(1.1529 0.0000 0.0000 1.1440 567.2235 550.6000)">N</text>
<text x="0" y="0" font-size="19" fill="#0a1a0a" stroke="#0a1a0a" stroke-width="0.35" style="font-family:'Liberation Serif',serif" transform="matrix(1.0588 0.0000 0.0000 1.0720 1146.9706 551.0000)">N</text>
<path d="M86,423.6 H270 V437.6 H86 Z M133.2,425.9 V436.2 H176.9 V425.9 Z" fill="#050505" fill-rule="evenodd"/>
<defs><linearGradient id="cbga" x1="0" x2="1" y1="0" y2="0"><stop offset="0" stop-color="#000080"/><stop offset="0.14" stop-color="#0000ff"/><stop offset="0.40" stop-color="#00ffff"/><stop offset="0.52" stop-color="#80ff80"/><stop offset="0.64" stop-color="#ffff00"/><stop offset="0.86" stop-color="#ff0000"/><stop offset="1" stop-color="#800000"/></linearGradient></defs>
<path d="M514.2,440.6 L522,433.3 L522,447.9 Z" fill="#000050" stroke="#0a0a0a" stroke-width="1.6" stroke-linejoin="round"/>
<path d="M585.5,440.6 L578.2,433.3 L578.2,447.9 Z" fill="#8a0018" stroke="#0a0a0a" stroke-width="1.6" stroke-linejoin="round"/>
<rect x="522" y="433.3" width="56.200000000000045" height="14.599999999999966" fill="url(#cbga)" stroke="#0a0a0a" stroke-width="1.8"/>
<line x1="522" y1="447.9" x2="522" y2="457.5" stroke="#1c3a26" stroke-width="1.3"/>
<line x1="550.1" y1="447.9" x2="550.1" y2="457.5" stroke="#1c3a26" stroke-width="1.3"/>
<line x1="578.2" y1="447.9" x2="578.2" y2="457.5" stroke="#1c3a26" stroke-width="1.3"/>
<path d="M573.7,84.2 L567.2,112.4 L574,107.8 Z" fill="none" stroke="#0c1f0c" stroke-width="0.9" stroke-linejoin="round"/>
<path d="M573.7,84.2 L574,107.8 L580.7,112.7 Z" fill="#050505" stroke="#050505" stroke-width="0.6" stroke-linejoin="round"/>
<path d="M672.6,423.2 H856.6 V437.1 H672.6 Z M720,425.4 V435.8 H764.3 V425.4 Z" fill="#050505" fill-rule="evenodd"/>
<defs><linearGradient id="cbgb" x1="0" x2="1" y1="0" y2="0"><stop offset="0" stop-color="#000080"/><stop offset="0.14" stop-color="#0000ff"/><stop offset="0.40" stop-color="#00ffff"/><stop offset="0.52" stop-color="#80ff80"/><stop offset="0.64" stop-color="#ffff00"/><stop offset="0.86" stop-color="#ff0000"/><stop offset="1" stop-color="#800000"/></linearGradient></defs>
<path d="M1100.1,437.85 L1107.9,430.5 L1107.9,445.2 Z" fill="#000050" stroke="#0a0a0a" stroke-width="1.6" stroke-linejoin="round"/>
<path d="M1171,437.85 L1163.2,430.5 L1163.2,445.2 Z" fill="#8a0018" stroke="#0a0a0a" stroke-width="1.6" stroke-linejoin="round"/>
<rect x="1107.9" y="430.5" width="55.299999999999955" height="14.699999999999989" fill="url(#cbgb)" stroke="#0a0a0a" stroke-width="1.8"/>
<line x1="1107.9" y1="445.2" x2="1107.9" y2="455.2" stroke="#1c3a26" stroke-width="1.3"/>
<line x1="1135.5500000000002" y1="445.2" x2="1135.5500000000002" y2="455.2" stroke="#1c3a26" stroke-width="1.3"/>
<line x1="1163.2" y1="445.2" x2="1163.2" y2="455.2" stroke="#1c3a26" stroke-width="1.3"/>
<path d="M1158.2,86 L1151.3,113 L1158.7,107 Z" fill="none" stroke="#0c1f0c" stroke-width="0.9" stroke-linejoin="round"/>
<path d="M1158.2,86 L1158.7,107 L1164.9,113 Z" fill="#050505" stroke="#050505" stroke-width="0.6" stroke-linejoin="round"/>
<path d="M85.3,901 H269.3 V914.3 H85.3 Z M132.4,902.9 V913 H176.9 V902.9 Z" fill="#050505" fill-rule="evenodd"/>
<defs><linearGradient id="cbgc" x1="0" x2="1" y1="0" y2="0"><stop offset="0" stop-color="#000080"/><stop offset="0.14" stop-color="#0000ff"/><stop offset="0.40" stop-color="#00ffff"/><stop offset="0.52" stop-color="#80ff80"/><stop offset="0.64" stop-color="#ffff00"/><stop offset="0.86" stop-color="#ff0000"/><stop offset="1" stop-color="#800000"/></linearGradient></defs>
<path d="M522,912.2 L530.2,905.1 L530.2,919.3 Z" fill="#000050" stroke="#0a0a0a" stroke-width="1.6" stroke-linejoin="round"/>
<path d="M592.9,912.2 L585.5,905.1 L585.5,919.3 Z" fill="#8a0018" stroke="#0a0a0a" stroke-width="1.6" stroke-linejoin="round"/>
<rect x="530.2" y="905.1" width="55.299999999999955" height="14.199999999999932" fill="url(#cbgc)" stroke="#0a0a0a" stroke-width="1.8"/>
<line x1="530.2" y1="919.3" x2="530.2" y2="928.4" stroke="#1c3a26" stroke-width="1.3"/>
<line x1="557.85" y1="919.3" x2="557.85" y2="928.4" stroke="#1c3a26" stroke-width="1.3"/>
<line x1="585.5" y1="919.3" x2="585.5" y2="928.4" stroke="#1c3a26" stroke-width="1.3"/>
<path d="M574.7,551.5 L567.4,580.5 L574.7,575.6 Z" fill="none" stroke="#0c1f0c" stroke-width="0.9" stroke-linejoin="round"/>
<path d="M574.7,551.5 L574.7,575.6 L582,580 Z" fill="#050505" stroke="#050505" stroke-width="0.6" stroke-linejoin="round"/>
<path d="M672.4,900.4 H856.4 V913.9 H672.4 Z M719.3,902.2 V912.4 H764.1 V902.2 Z" fill="#050505" fill-rule="evenodd"/>
<defs><linearGradient id="cbgd" x1="0" x2="1" y1="0" y2="0"><stop offset="0" stop-color="#000080"/><stop offset="0.14" stop-color="#0000ff"/><stop offset="0.40" stop-color="#00ffff"/><stop offset="0.52" stop-color="#80ff80"/><stop offset="0.64" stop-color="#ffff00"/><stop offset="0.86" stop-color="#ff0000"/><stop offset="1" stop-color="#800000"/></linearGradient></defs>
<path d="M1107.4,912.2 L1115.2,905.1 L1115.2,919.3 Z" fill="#000050" stroke="#0a0a0a" stroke-width="1.6" stroke-linejoin="round"/>
<path d="M1177.9,912.2 L1170.5,905.1 L1170.5,919.3 Z" fill="#8a0018" stroke="#0a0a0a" stroke-width="1.6" stroke-linejoin="round"/>
<rect x="1115.2" y="905.1" width="55.299999999999955" height="14.199999999999932" fill="url(#cbgd)" stroke="#0a0a0a" stroke-width="1.8"/>
<line x1="1115.2" y1="919.3" x2="1115.2" y2="928.4" stroke="#1c3a26" stroke-width="1.3"/>
<line x1="1142.85" y1="919.3" x2="1142.85" y2="928.4" stroke="#1c3a26" stroke-width="1.3"/>
<line x1="1170.5" y1="919.3" x2="1170.5" y2="928.4" stroke="#1c3a26" stroke-width="1.3"/>
<path d="M1153.6,552.3 L1147,580.5 L1154.4,575.6 Z" fill="none" stroke="#0c1f0c" stroke-width="0.9" stroke-linejoin="round"/>
<path d="M1153.6,552.3 L1154.4,575.6 L1161,580.5 Z" fill="#050505" stroke="#050505" stroke-width="0.6" stroke-linejoin="round"/>
<path d="M253.0,248.4 L303.6,257.2 L336.0,262.0 L378.8,276.8 L434.0,294.8 L476.8,311.0 L493.0,321.0 L519.3,338.9" fill="none" stroke="#2a4436" stroke-width="0.9" stroke-opacity="0.9" stroke-linejoin="round"/>
<path d="M192.5,269.6 L241.5,271.9 L270.0,266.0 L293.8,258.8 L303.6,257.2" fill="none" stroke="#2a4436" stroke-width="0.9" stroke-opacity="0.9" stroke-linejoin="round"/>
<path d="M838.0,248.4 L888.6,257.2 L921.0,262.0 L963.8,276.8 L1019.0,294.8 L1061.8,311.0 L1078.0,321.0 L1104.3,338.9" fill="none" stroke="#2a4436" stroke-width="0.9" stroke-opacity="0.9" stroke-linejoin="round"/>
<path d="M777.5,269.6 L826.5,271.9 L855.0,266.0 L878.8,258.8 L888.6,257.2" fill="none" stroke="#2a4436" stroke-width="0.9" stroke-opacity="0.9" stroke-linejoin="round"/>
<path d="M253.0,719.4 L303.6,728.2 L336.0,733.0 L378.8,747.8 L434.0,765.8 L476.8,782.0 L493.0,792.0 L519.3,809.9" fill="none" stroke="#2a4436" stroke-width="0.9" stroke-opacity="0.9" stroke-linejoin="round"/>
<path d="M192.5,740.6 L241.5,742.9 L270.0,737.0 L293.8,729.8 L303.6,728.2" fill="none" stroke="#2a4436" stroke-width="0.9" stroke-opacity="0.9" stroke-linejoin="round"/>
<path d="M838.0,719.4 L888.6,728.2 L921.0,733.0 L963.8,747.8 L1019.0,765.8 L1061.8,782.0 L1078.0,792.0 L1104.3,809.9" fill="none" stroke="#2a4436" stroke-width="0.9" stroke-opacity="0.9" stroke-linejoin="round"/>
<path d="M777.5,740.6 L826.5,742.9 L855.0,737.0 L878.8,729.8 L888.6,728.2" fill="none" stroke="#2a4436" stroke-width="0.9" stroke-opacity="0.9" stroke-linejoin="round"/>
<path d="M1033,913.5 H1085" stroke="#050510" stroke-width="2.6" fill="none"/>
<path d="M1066.5,907.8 L1087.5,913.5 L1066.5,919.6" stroke="#050510" stroke-width="2.4" fill="none" stroke-linejoin="miter"/>
<rect x="64" y="48" width="549" height="438" fill="none" stroke="#161616" stroke-width="2"/>
<rect x="649" y="48" width="549" height="438" fill="none" stroke="#161616" stroke-width="2"/>
<rect x="64" y="519" width="549" height="438" fill="none" stroke="#161616" stroke-width="2"/>
<rect x="649" y="519" width="549" height="438" fill="none" stroke="#161616" stroke-width="2"/>
<line x1="63.5" y1="37" x2="63.5" y2="47" stroke="#3a3a3a" stroke-width="1.2"/>
<line x1="63.5" y1="487" x2="63.5" y2="497" stroke="#3a3a3a" stroke-width="1.2"/>
<line x1="283.5" y1="37" x2="283.5" y2="47" stroke="#3a3a3a" stroke-width="1.2"/>
<line x1="283.5" y1="487" x2="283.5" y2="497" stroke="#3a3a3a" stroke-width="1.2"/>
<line x1="503.5" y1="37" x2="503.5" y2="47" stroke="#3a3a3a" stroke-width="1.2"/>
<line x1="503.5" y1="487" x2="503.5" y2="497" stroke="#3a3a3a" stroke-width="1.2"/>
<line x1="53" y1="47.5" x2="63" y2="47.5" stroke="#3a3a3a" stroke-width="1.2"/>
<line x1="614" y1="47.5" x2="623" y2="47.5" stroke="#3a3a3a" stroke-width="1.2"/>
<line x1="53" y1="267.5" x2="63" y2="267.5" stroke="#3a3a3a" stroke-width="1.2"/>
<line x1="614" y1="267.5" x2="623" y2="267.5" stroke="#3a3a3a" stroke-width="1.2"/>
<line x1="53" y1="486.5" x2="63" y2="486.5" stroke="#3a3a3a" stroke-width="1.2"/>
<line x1="614" y1="486.5" x2="623" y2="486.5" stroke="#3a3a3a" stroke-width="1.2"/>
<line x1="648.5" y1="37" x2="648.5" y2="47" stroke="#3a3a3a" stroke-width="1.2"/>
<line x1="648.5" y1="487" x2="648.5" y2="497" stroke="#3a3a3a" stroke-width="1.2"/>
<line x1="868.5" y1="37" x2="868.5" y2="47" stroke="#3a3a3a" stroke-width="1.2"/>
<line x1="868.5" y1="487" x2="868.5" y2="497" stroke="#3a3a3a" stroke-width="1.2"/>
<line x1="1088.5" y1="37" x2="1088.5" y2="47" stroke="#3a3a3a" stroke-width="1.2"/>
<line x1="1088.5" y1="487" x2="1088.5" y2="497" stroke="#3a3a3a" stroke-width="1.2"/>
<line x1="638" y1="47.5" x2="648" y2="47.5" stroke="#3a3a3a" stroke-width="1.2"/>
<line x1="1199" y1="47.5" x2="1208" y2="47.5" stroke="#3a3a3a" stroke-width="1.2"/>
<line x1="638" y1="267.5" x2="648" y2="267.5" stroke="#3a3a3a" stroke-width="1.2"/>
<line x1="1199" y1="267.5" x2="1208" y2="267.5" stroke="#3a3a3a" stroke-width="1.2"/>
<line x1="638" y1="486.5" x2="648" y2="486.5" stroke="#3a3a3a" stroke-width="1.2"/>
<line x1="1199" y1="486.5" x2="1208" y2="486.5" stroke="#3a3a3a" stroke-width="1.2"/>
<line x1="63.5" y1="508" x2="63.5" y2="518" stroke="#3a3a3a" stroke-width="1.2"/>
<line x1="63.5" y1="958" x2="63.5" y2="968" stroke="#3a3a3a" stroke-width="1.2"/>
<line x1="283.5" y1="508" x2="283.5" y2="518" stroke="#3a3a3a" stroke-width="1.2"/>
<line x1="283.5" y1="958" x2="283.5" y2="968" stroke="#3a3a3a" stroke-width="1.2"/>
<line x1="503.5" y1="508" x2="503.5" y2="518" stroke="#3a3a3a" stroke-width="1.2"/>
<line x1="503.5" y1="958" x2="503.5" y2="968" stroke="#3a3a3a" stroke-width="1.2"/>
<line x1="53" y1="518.5" x2="63" y2="518.5" stroke="#3a3a3a" stroke-width="1.2"/>
<line x1="614" y1="518.5" x2="623" y2="518.5" stroke="#3a3a3a" stroke-width="1.2"/>
<line x1="53" y1="738.5" x2="63" y2="738.5" stroke="#3a3a3a" stroke-width="1.2"/>
<line x1="614" y1="738.5" x2="623" y2="738.5" stroke="#3a3a3a" stroke-width="1.2"/>
<line x1="53" y1="957.5" x2="63" y2="957.5" stroke="#3a3a3a" stroke-width="1.2"/>
<line x1="614" y1="957.5" x2="623" y2="957.5" stroke="#3a3a3a" stroke-width="1.2"/>
<line x1="648.5" y1="508" x2="648.5" y2="518" stroke="#3a3a3a" stroke-width="1.2"/>
<line x1="648.5" y1="958" x2="648.5" y2="968" stroke="#3a3a3a" stroke-width="1.2"/>
<line x1="868.5" y1="508" x2="868.5" y2="518" stroke="#3a3a3a" stroke-width="1.2"/>
<line x1="868.5" y1="958" x2="868.5" y2="968" stroke="#3a3a3a" stroke-width="1.2"/>
<line x1="1088.5" y1="508" x2="1088.5" y2="518" stroke="#3a3a3a" stroke-width="1.2"/>
<line x1="1088.5" y1="958" x2="1088.5" y2="968" stroke="#3a3a3a" stroke-width="1.2"/>
<line x1="638" y1="518.5" x2="648" y2="518.5" stroke="#3a3a3a" stroke-width="1.2"/>
<line x1="1199" y1="518.5" x2="1208" y2="518.5" stroke="#3a3a3a" stroke-width="1.2"/>
<line x1="638" y1="738.5" x2="648" y2="738.5" stroke="#3a3a3a" stroke-width="1.2"/>
<line x1="1199" y1="738.5" x2="1208" y2="738.5" stroke="#3a3a3a" stroke-width="1.2"/>
<line x1="638" y1="957.5" x2="648" y2="957.5" stroke="#3a3a3a" stroke-width="1.2"/>
<line x1="1199" y1="957.5" x2="1208" y2="957.5" stroke="#3a3a3a" stroke-width="1.2"/>
<text x="0" y="0" font-size="23" fill="#262626" stroke="#262626" stroke-width="0.1" style="font-family:'Liberation Serif',serif" transform="matrix(0.9991 0.0000 0.0000 1.0492 47.6018 30.3377)">101°00’ 0″E</text>
<text x="0" y="0" font-size="23" fill="#262626" stroke="#262626" stroke-width="0.1" style="font-family:'Liberation Serif',serif" transform="matrix(0.9900 0.0000 0.0000 1.0492 242.6199 30.3377)">101°12’ 0″E</text>
<text x="0" y="0" font-size="23" fill="#262626" stroke="#262626" stroke-width="0.1" style="font-family:'Liberation Serif',serif" transform="matrix(1.0054 0.0000 0.0000 1.0492 461.4891 30.3377)">101°24’ 0″E</text>
<text x="0" y="0" font-size="23" fill="#262626" stroke="#262626" stroke-width="0.1" style="font-family:'Liberation Serif',serif" transform="matrix(1.0045 0.0000 0.0000 1.0492 642.6910 30.3377)">101°00’ 0″E</text>
<text x="0" y="0" font-size="23" fill="#262626" stroke="#262626" stroke-width="0.1" style="font-family:'Liberation Serif',serif" transform="matrix(1.0045 0.0000 0.0000 1.0492 818.9910 30.3377)">101°12’ 0″E</text>
<text x="0" y="0" font-size="23" fill="#262626" stroke="#262626" stroke-width="0.1" style="font-family:'Liberation Serif',serif" transform="matrix(1.0054 0.0000 0.0000 1.0492 1031.5891 30.3377)">101°24’ 0″E</text>
<text x="0" y="0" font-size="23" fill="#262626" stroke="#262626" stroke-width="0.1" style="font-family:'Liberation Serif',serif" transform="matrix(1.1213 0.0000 0.0000 1.0151 35.0197 140.2688) rotate(-90)">38°00’ 0″E</text>
<text x="0" y="0" font-size="23" fill="#262626" stroke="#262626" stroke-width="0.1" style="font-family:'Liberation Serif',serif" transform="matrix(1.1213 0.0000 0.0000 0.9950 35.0197 324.7437) rotate(-90)">37°48’ 0″E</text>
<text x="0" y="0" font-size="23" fill="#262626" stroke="#262626" stroke-width="0.1" style="font-family:'Liberation Serif',serif" transform="matrix(1.1213 0.0000 0.0000 1.0090 35.0197 486.6613) rotate(-90)">37°36’ 0″E</text>
<text x="0" y="0" font-size="23" fill="#262626" stroke="#262626" stroke-width="0.1" style="font-family:'Liberation Serif',serif" transform="matrix(1.1213 0.0000 0.0000 1.0151 35.0197 610.7688) rotate(-90)">38°00’ 0″E</text>
<text x="0" y="0" font-size="23" fill="#262626" stroke="#262626" stroke-width="0.1" style="font-family:'Liberation Serif',serif" transform="matrix(1.1213 0.0000 0.0000 0.9950 35.0197 795.2437) rotate(-90)">37°48’ 0″E</text>
<text x="0" y="0" font-size="23" fill="#262626" stroke="#262626" stroke-width="0.1" style="font-family:'Liberation Serif',serif" transform="matrix(1.1213 0.0000 0.0000 1.0090 35.0197 957.1613) rotate(-90)">37°36’ 0″E</text>
</svg>
</body></html>
